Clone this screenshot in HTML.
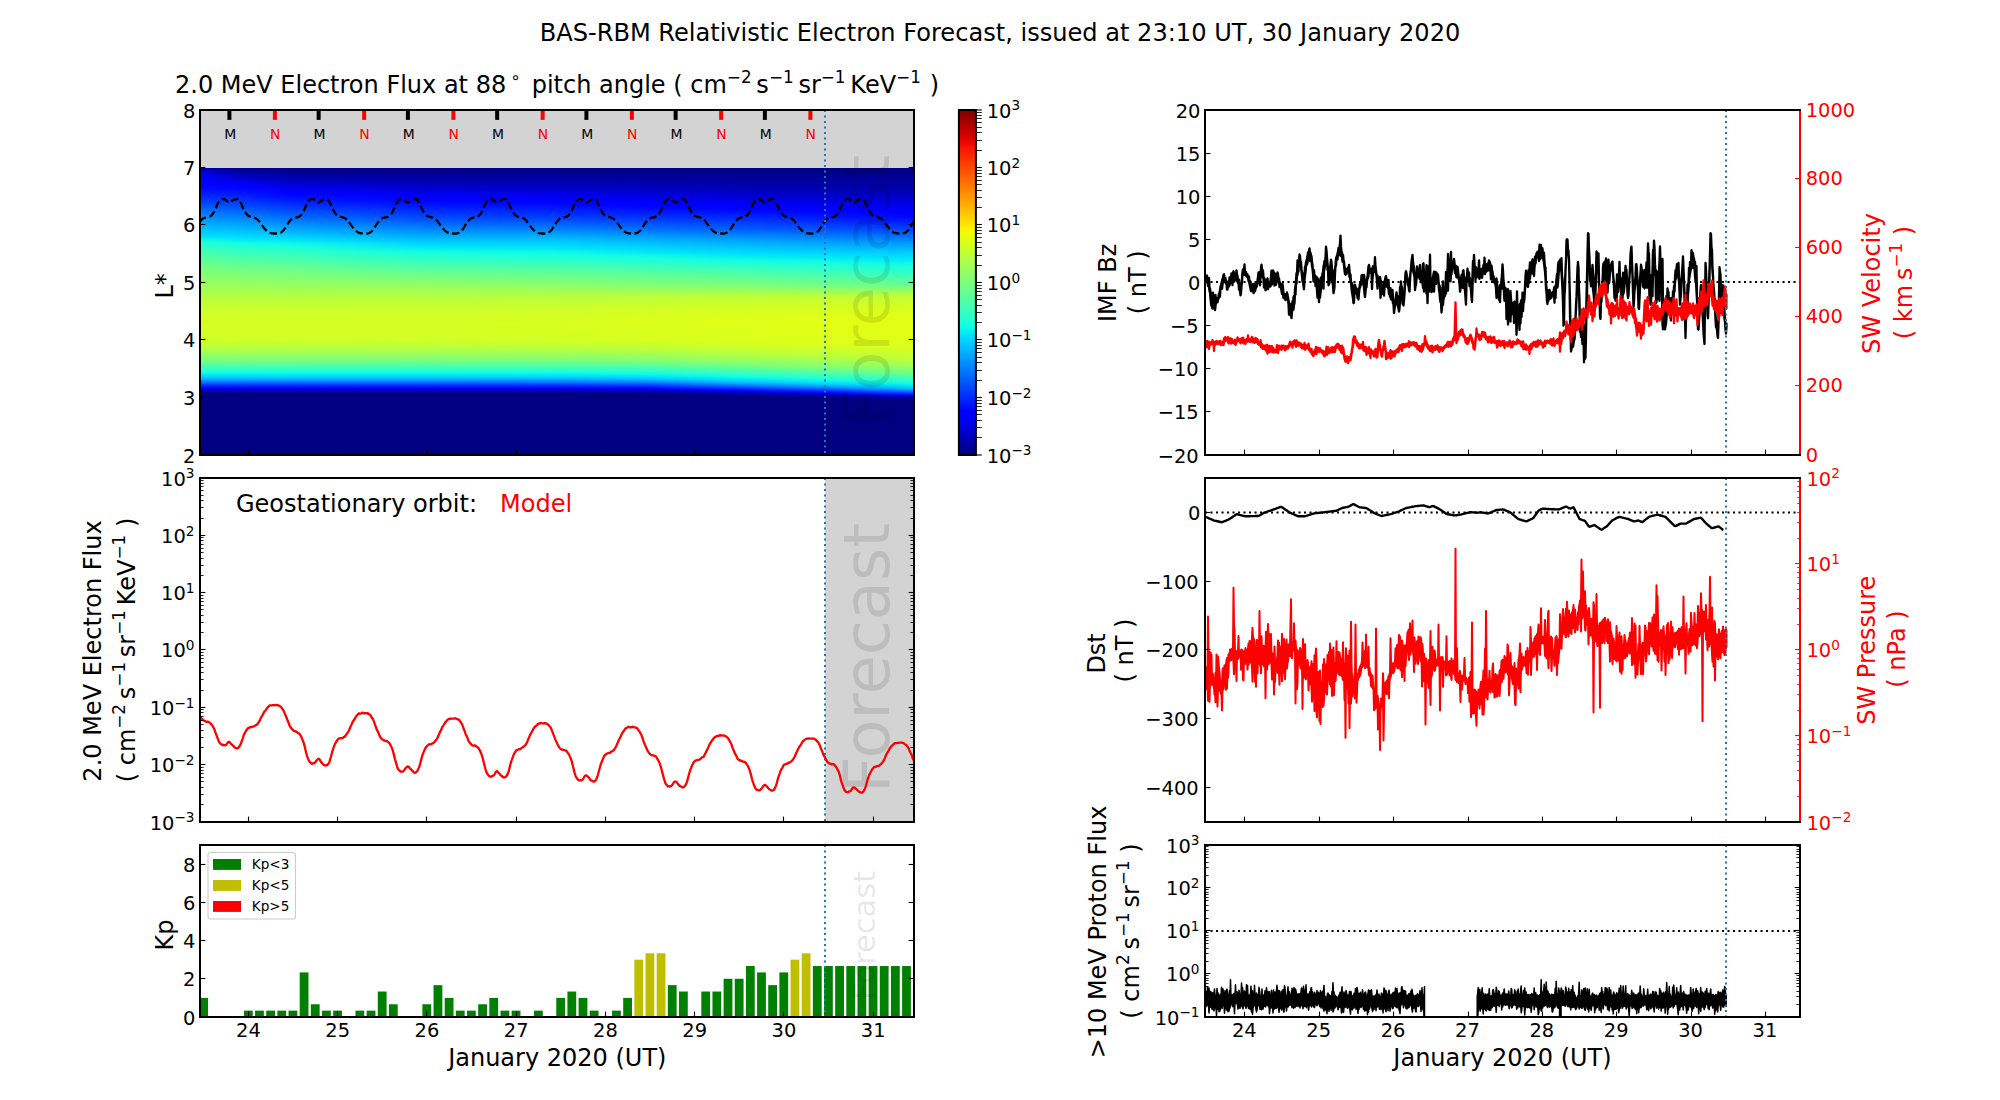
<!DOCTYPE html>
<html lang="en"><head><meta charset="utf-8"><title>BAS-RBM Relativistic Electron Forecast</title>
<style>html,body{margin:0;padding:0;background:#fff}body{width:2000px;height:1100px;overflow:hidden}svg{display:block}</style></head>
<body>
<svg width="2000" height="1100" viewBox="0 0 2000 1100" font-family="'DejaVu Sans','Liberation Sans',sans-serif">
<defs><linearGradient id="hg0" x1="0" y1="0" x2="0" y2="1"><stop offset="0%" stop-color="#000080"/><stop offset="0.8%" stop-color="#0000c3"/><stop offset="1.6%" stop-color="#0000e8"/><stop offset="2.4%" stop-color="#0000f5"/><stop offset="3.2%" stop-color="#0000ff"/><stop offset="5.6%" stop-color="#0000ff"/><stop offset="6.4%" stop-color="#0003ff"/><stop offset="7.2%" stop-color="#000aff"/><stop offset="8%" stop-color="#0012ff"/><stop offset="8.8%" stop-color="#001bff"/><stop offset="9.6%" stop-color="#0024ff"/><stop offset="10.4%" stop-color="#002dff"/><stop offset="11.2%" stop-color="#0036ff"/><stop offset="12%" stop-color="#0041ff"/><stop offset="12.8%" stop-color="#004dff"/><stop offset="13.6%" stop-color="#0059ff"/><stop offset="14.4%" stop-color="#0065ff"/><stop offset="15.2%" stop-color="#0071ff"/><stop offset="16%" stop-color="#007dff"/><stop offset="16.8%" stop-color="#0088ff"/><stop offset="17.6%" stop-color="#0092ff"/><stop offset="18.4%" stop-color="#009dff"/><stop offset="19.2%" stop-color="#00a8ff"/><stop offset="20%" stop-color="#00b2ff"/><stop offset="20.8%" stop-color="#00bbff"/><stop offset="21.6%" stop-color="#00c4ff"/><stop offset="22.4%" stop-color="#00ccff"/><stop offset="23.2%" stop-color="#00d5ff"/><stop offset="24%" stop-color="#00e0fb"/><stop offset="24.8%" stop-color="#0bf3ec"/><stop offset="25.6%" stop-color="#1bffdc"/><stop offset="26.4%" stop-color="#25ffd2"/><stop offset="27.2%" stop-color="#2dffc9"/><stop offset="28%" stop-color="#36ffc1"/><stop offset="28.8%" stop-color="#3fffb8"/><stop offset="29.6%" stop-color="#47ffb0"/><stop offset="30.4%" stop-color="#50ffa7"/><stop offset="31.2%" stop-color="#57ffa0"/><stop offset="32%" stop-color="#5dff9a"/><stop offset="32.8%" stop-color="#64ff93"/><stop offset="33.6%" stop-color="#6bff8c"/><stop offset="34.4%" stop-color="#71ff85"/><stop offset="35.2%" stop-color="#78ff7f"/><stop offset="36%" stop-color="#7dff7a"/><stop offset="36.8%" stop-color="#82ff75"/><stop offset="37.6%" stop-color="#87ff70"/><stop offset="38.4%" stop-color="#8cff6b"/><stop offset="39.2%" stop-color="#91ff66"/><stop offset="40%" stop-color="#96ff61"/><stop offset="40.8%" stop-color="#9bff5c"/><stop offset="41.6%" stop-color="#a0ff57"/><stop offset="42.4%" stop-color="#a5ff52"/><stop offset="43.2%" stop-color="#aaff4d"/><stop offset="44%" stop-color="#afff48"/><stop offset="44.8%" stop-color="#b4ff43"/><stop offset="45.6%" stop-color="#b8ff3e"/><stop offset="46.4%" stop-color="#bdff3a"/><stop offset="47.2%" stop-color="#c1ff36"/><stop offset="48%" stop-color="#c5ff32"/><stop offset="48.8%" stop-color="#c9ff2d"/><stop offset="49.6%" stop-color="#ceff29"/><stop offset="50.4%" stop-color="#cfff28"/><stop offset="51.2%" stop-color="#d1ff26"/><stop offset="52%" stop-color="#d2ff25"/><stop offset="52.8%" stop-color="#d3ff23"/><stop offset="53.6%" stop-color="#d5ff22"/><stop offset="54.4%" stop-color="#d6ff21"/><stop offset="55.2%" stop-color="#d5ff22"/><stop offset="56%" stop-color="#d4ff23"/><stop offset="56.8%" stop-color="#d3ff23"/><stop offset="57.6%" stop-color="#d2ff24"/><stop offset="58.4%" stop-color="#d2ff25"/><stop offset="59.2%" stop-color="#d1ff26"/><stop offset="60%" stop-color="#d0ff27"/><stop offset="60.8%" stop-color="#c9ff2e"/><stop offset="61.6%" stop-color="#c1ff35"/><stop offset="62.4%" stop-color="#baff3d"/><stop offset="63.2%" stop-color="#b3ff44"/><stop offset="64%" stop-color="#a8ff4f"/><stop offset="64.8%" stop-color="#9cff5b"/><stop offset="65.6%" stop-color="#90ff67"/><stop offset="66.4%" stop-color="#84ff72"/><stop offset="67.2%" stop-color="#77ff80"/><stop offset="68%" stop-color="#64ff93"/><stop offset="68.8%" stop-color="#51ffa6"/><stop offset="69.6%" stop-color="#3effb8"/><stop offset="70.4%" stop-color="#2affcd"/><stop offset="71.2%" stop-color="#15ffe2"/><stop offset="72%" stop-color="#04ebf3"/><stop offset="72.8%" stop-color="#00d3ff"/><stop offset="73.6%" stop-color="#00b1ff"/><stop offset="74.4%" stop-color="#0085ff"/><stop offset="75.2%" stop-color="#0053ff"/><stop offset="76%" stop-color="#001fff"/><stop offset="76.8%" stop-color="#0000f7"/><stop offset="77.6%" stop-color="#0000b6"/><stop offset="78.4%" stop-color="#00008b"/><stop offset="79.2%" stop-color="#000080"/><stop offset="100%" stop-color="#000080"/></linearGradient>
<linearGradient id="hg1" x1="0" y1="0" x2="0" y2="1"><stop offset="0%" stop-color="#000080"/><stop offset="0.8%" stop-color="#000093"/><stop offset="1.6%" stop-color="#0000a6"/><stop offset="2.4%" stop-color="#0000b6"/><stop offset="3.2%" stop-color="#0000c7"/><stop offset="4%" stop-color="#0000da"/><stop offset="4.8%" stop-color="#0000ec"/><stop offset="5.6%" stop-color="#0000ff"/><stop offset="6.4%" stop-color="#0000ff"/><stop offset="7.2%" stop-color="#0003ff"/><stop offset="8%" stop-color="#000dff"/><stop offset="8.8%" stop-color="#0016ff"/><stop offset="9.6%" stop-color="#001fff"/><stop offset="10.4%" stop-color="#0029ff"/><stop offset="11.2%" stop-color="#0033ff"/><stop offset="12%" stop-color="#003dff"/><stop offset="12.8%" stop-color="#0047ff"/><stop offset="13.6%" stop-color="#0052ff"/><stop offset="14.4%" stop-color="#005cff"/><stop offset="15.2%" stop-color="#0068ff"/><stop offset="16%" stop-color="#0073ff"/><stop offset="16.8%" stop-color="#007eff"/><stop offset="17.6%" stop-color="#0089ff"/><stop offset="18.4%" stop-color="#0094ff"/><stop offset="19.2%" stop-color="#009eff"/><stop offset="20%" stop-color="#00a8ff"/><stop offset="20.8%" stop-color="#00b3ff"/><stop offset="21.6%" stop-color="#00bdff"/><stop offset="22.4%" stop-color="#00c7ff"/><stop offset="23.2%" stop-color="#00d1ff"/><stop offset="24%" stop-color="#00dbff"/><stop offset="24.8%" stop-color="#00e5f7"/><stop offset="25.6%" stop-color="#0af2ec"/><stop offset="26.4%" stop-color="#15ffe2"/><stop offset="27.2%" stop-color="#1fffd8"/><stop offset="28%" stop-color="#29ffce"/><stop offset="28.8%" stop-color="#31ffc5"/><stop offset="29.6%" stop-color="#3affbd"/><stop offset="30.4%" stop-color="#42ffb5"/><stop offset="31.2%" stop-color="#4affad"/><stop offset="32%" stop-color="#52ffa5"/><stop offset="32.8%" stop-color="#5aff9d"/><stop offset="33.6%" stop-color="#61ff96"/><stop offset="34.4%" stop-color="#68ff8e"/><stop offset="35.2%" stop-color="#70ff87"/><stop offset="36%" stop-color="#77ff80"/><stop offset="36.8%" stop-color="#7dff7a"/><stop offset="37.6%" stop-color="#83ff74"/><stop offset="38.4%" stop-color="#89ff6e"/><stop offset="39.2%" stop-color="#8eff68"/><stop offset="40%" stop-color="#94ff63"/><stop offset="40.8%" stop-color="#99ff5d"/><stop offset="41.6%" stop-color="#9fff58"/><stop offset="42.4%" stop-color="#a4ff53"/><stop offset="43.2%" stop-color="#a9ff4d"/><stop offset="44%" stop-color="#afff48"/><stop offset="44.8%" stop-color="#b4ff43"/><stop offset="45.6%" stop-color="#b8ff3e"/><stop offset="46.4%" stop-color="#bdff3a"/><stop offset="47.2%" stop-color="#c1ff36"/><stop offset="48%" stop-color="#c5ff32"/><stop offset="48.8%" stop-color="#c9ff2d"/><stop offset="49.6%" stop-color="#ceff29"/><stop offset="50.4%" stop-color="#cfff28"/><stop offset="51.2%" stop-color="#d1ff26"/><stop offset="52%" stop-color="#d2ff25"/><stop offset="52.8%" stop-color="#d3ff23"/><stop offset="53.6%" stop-color="#d5ff22"/><stop offset="54.4%" stop-color="#d6ff21"/><stop offset="55.2%" stop-color="#d5ff22"/><stop offset="56%" stop-color="#d4ff23"/><stop offset="56.8%" stop-color="#d3ff23"/><stop offset="57.6%" stop-color="#d2ff24"/><stop offset="58.4%" stop-color="#d2ff25"/><stop offset="59.2%" stop-color="#d1ff26"/><stop offset="60%" stop-color="#d0ff27"/><stop offset="60.8%" stop-color="#c9ff2e"/><stop offset="61.6%" stop-color="#c1ff35"/><stop offset="62.4%" stop-color="#baff3d"/><stop offset="63.2%" stop-color="#b3ff44"/><stop offset="64%" stop-color="#a8ff4f"/><stop offset="64.8%" stop-color="#9cff5b"/><stop offset="65.6%" stop-color="#90ff67"/><stop offset="66.4%" stop-color="#84ff72"/><stop offset="67.2%" stop-color="#77ff80"/><stop offset="68%" stop-color="#64ff93"/><stop offset="68.8%" stop-color="#51ffa6"/><stop offset="69.6%" stop-color="#3effb8"/><stop offset="70.4%" stop-color="#2affcd"/><stop offset="71.2%" stop-color="#15ffe2"/><stop offset="72%" stop-color="#04ebf3"/><stop offset="72.8%" stop-color="#00d3ff"/><stop offset="73.6%" stop-color="#00b1ff"/><stop offset="74.4%" stop-color="#0085ff"/><stop offset="75.2%" stop-color="#0053ff"/><stop offset="76%" stop-color="#001fff"/><stop offset="76.8%" stop-color="#0000f7"/><stop offset="77.6%" stop-color="#0000b6"/><stop offset="78.4%" stop-color="#00008b"/><stop offset="79.2%" stop-color="#000080"/><stop offset="100%" stop-color="#000080"/></linearGradient>
<linearGradient id="hg2" x1="0" y1="0" x2="0" y2="1"><stop offset="0%" stop-color="#000080"/><stop offset="0.8%" stop-color="#00008b"/><stop offset="1.6%" stop-color="#000097"/><stop offset="2.4%" stop-color="#0000a2"/><stop offset="3.2%" stop-color="#0000ac"/><stop offset="4%" stop-color="#0000b7"/><stop offset="4.8%" stop-color="#0000c5"/><stop offset="5.6%" stop-color="#0000d5"/><stop offset="6.4%" stop-color="#0000e4"/><stop offset="7.2%" stop-color="#0000f3"/><stop offset="8%" stop-color="#0000ff"/><stop offset="8.8%" stop-color="#0000ff"/><stop offset="9.6%" stop-color="#0005ff"/><stop offset="10.4%" stop-color="#000eff"/><stop offset="11.2%" stop-color="#0017ff"/><stop offset="12%" stop-color="#0022ff"/><stop offset="12.8%" stop-color="#002dff"/><stop offset="13.6%" stop-color="#0038ff"/><stop offset="14.4%" stop-color="#0043ff"/><stop offset="15.2%" stop-color="#004eff"/><stop offset="16%" stop-color="#0059ff"/><stop offset="16.8%" stop-color="#0065ff"/><stop offset="17.6%" stop-color="#0070ff"/><stop offset="18.4%" stop-color="#007cff"/><stop offset="19.2%" stop-color="#0088ff"/><stop offset="20%" stop-color="#0094ff"/><stop offset="20.8%" stop-color="#00a0ff"/><stop offset="21.6%" stop-color="#00acff"/><stop offset="22.4%" stop-color="#00b7ff"/><stop offset="23.2%" stop-color="#00c3ff"/><stop offset="24%" stop-color="#00d0ff"/><stop offset="24.8%" stop-color="#00defd"/><stop offset="25.6%" stop-color="#05ecf1"/><stop offset="26.4%" stop-color="#0ff8e8"/><stop offset="27.2%" stop-color="#17ffe0"/><stop offset="28%" stop-color="#20ffd7"/><stop offset="28.8%" stop-color="#28ffce"/><stop offset="29.6%" stop-color="#31ffc6"/><stop offset="30.4%" stop-color="#3affbd"/><stop offset="31.2%" stop-color="#42ffb5"/><stop offset="32%" stop-color="#4affad"/><stop offset="32.8%" stop-color="#52ffa5"/><stop offset="33.6%" stop-color="#5aff9c"/><stop offset="34.4%" stop-color="#63ff94"/><stop offset="35.2%" stop-color="#6bff8c"/><stop offset="36%" stop-color="#71ff86"/><stop offset="36.8%" stop-color="#77ff80"/><stop offset="37.6%" stop-color="#7dff79"/><stop offset="38.4%" stop-color="#84ff73"/><stop offset="39.2%" stop-color="#8aff6d"/><stop offset="40%" stop-color="#90ff67"/><stop offset="40.8%" stop-color="#96ff61"/><stop offset="41.6%" stop-color="#9cff5b"/><stop offset="42.4%" stop-color="#a2ff55"/><stop offset="43.2%" stop-color="#a8ff4f"/><stop offset="44%" stop-color="#aeff49"/><stop offset="44.8%" stop-color="#b4ff43"/><stop offset="45.6%" stop-color="#b8ff3e"/><stop offset="46.4%" stop-color="#bdff3a"/><stop offset="47.2%" stop-color="#c1ff36"/><stop offset="48%" stop-color="#c5ff32"/><stop offset="48.8%" stop-color="#c9ff2d"/><stop offset="49.6%" stop-color="#ceff29"/><stop offset="50.4%" stop-color="#cfff28"/><stop offset="51.2%" stop-color="#d1ff26"/><stop offset="52%" stop-color="#d2ff25"/><stop offset="52.8%" stop-color="#d3ff23"/><stop offset="53.6%" stop-color="#d5ff22"/><stop offset="54.4%" stop-color="#d6ff21"/><stop offset="55.2%" stop-color="#d5ff22"/><stop offset="56%" stop-color="#d4ff23"/><stop offset="56.8%" stop-color="#d3ff23"/><stop offset="57.6%" stop-color="#d2ff24"/><stop offset="58.4%" stop-color="#d2ff25"/><stop offset="59.2%" stop-color="#d1ff26"/><stop offset="60%" stop-color="#d0ff27"/><stop offset="60.8%" stop-color="#c9ff2e"/><stop offset="61.6%" stop-color="#c1ff35"/><stop offset="62.4%" stop-color="#baff3d"/><stop offset="63.2%" stop-color="#b3ff44"/><stop offset="64%" stop-color="#a8ff4f"/><stop offset="64.8%" stop-color="#9cff5b"/><stop offset="65.6%" stop-color="#90ff67"/><stop offset="66.4%" stop-color="#84ff72"/><stop offset="67.2%" stop-color="#77ff80"/><stop offset="68%" stop-color="#64ff93"/><stop offset="68.8%" stop-color="#51ffa6"/><stop offset="69.6%" stop-color="#3effb8"/><stop offset="70.4%" stop-color="#2affcd"/><stop offset="71.2%" stop-color="#15ffe2"/><stop offset="72%" stop-color="#04ebf3"/><stop offset="72.8%" stop-color="#00d3ff"/><stop offset="73.6%" stop-color="#00b1ff"/><stop offset="74.4%" stop-color="#0085ff"/><stop offset="75.2%" stop-color="#0053ff"/><stop offset="76%" stop-color="#001fff"/><stop offset="76.8%" stop-color="#0000f7"/><stop offset="77.6%" stop-color="#0000b6"/><stop offset="78.4%" stop-color="#00008b"/><stop offset="79.2%" stop-color="#000080"/><stop offset="100%" stop-color="#000080"/></linearGradient>
<linearGradient id="hg3" x1="0" y1="0" x2="0" y2="1"><stop offset="0%" stop-color="#000080"/><stop offset="0.8%" stop-color="#000088"/><stop offset="1.6%" stop-color="#000091"/><stop offset="2.4%" stop-color="#00009a"/><stop offset="3.2%" stop-color="#0000a2"/><stop offset="4%" stop-color="#0000aa"/><stop offset="4.8%" stop-color="#0000b2"/><stop offset="5.6%" stop-color="#0000b9"/><stop offset="6.4%" stop-color="#0000c6"/><stop offset="7.2%" stop-color="#0000d3"/><stop offset="8%" stop-color="#0000df"/><stop offset="8.8%" stop-color="#0000ec"/><stop offset="9.6%" stop-color="#0000f9"/><stop offset="10.4%" stop-color="#0000ff"/><stop offset="11.2%" stop-color="#0000ff"/><stop offset="12%" stop-color="#0008ff"/><stop offset="12.8%" stop-color="#0011ff"/><stop offset="13.6%" stop-color="#001aff"/><stop offset="14.4%" stop-color="#0024ff"/><stop offset="15.2%" stop-color="#002eff"/><stop offset="16%" stop-color="#0038ff"/><stop offset="16.8%" stop-color="#0042ff"/><stop offset="17.6%" stop-color="#004cff"/><stop offset="18.4%" stop-color="#0058ff"/><stop offset="19.2%" stop-color="#0064ff"/><stop offset="20%" stop-color="#0070ff"/><stop offset="20.8%" stop-color="#007cff"/><stop offset="21.6%" stop-color="#0089ff"/><stop offset="22.4%" stop-color="#0095ff"/><stop offset="23.2%" stop-color="#00a2ff"/><stop offset="24%" stop-color="#00aeff"/><stop offset="24.8%" stop-color="#00baff"/><stop offset="25.6%" stop-color="#00c7ff"/><stop offset="26.4%" stop-color="#00d3ff"/><stop offset="27.2%" stop-color="#00dffc"/><stop offset="28%" stop-color="#04ebf3"/><stop offset="28.8%" stop-color="#0df6ea"/><stop offset="29.6%" stop-color="#16ffe1"/><stop offset="30.4%" stop-color="#1fffd8"/><stop offset="31.2%" stop-color="#28ffce"/><stop offset="32%" stop-color="#31ffc5"/><stop offset="32.8%" stop-color="#3affbc"/><stop offset="33.6%" stop-color="#43ffb3"/><stop offset="34.4%" stop-color="#4dffaa"/><stop offset="35.2%" stop-color="#56ffa1"/><stop offset="36%" stop-color="#5fff98"/><stop offset="36.8%" stop-color="#68ff8f"/><stop offset="37.6%" stop-color="#71ff86"/><stop offset="38.4%" stop-color="#7aff7d"/><stop offset="39.2%" stop-color="#83ff74"/><stop offset="40%" stop-color="#8cff6b"/><stop offset="40.8%" stop-color="#93ff64"/><stop offset="41.6%" stop-color="#99ff5e"/><stop offset="42.4%" stop-color="#a0ff57"/><stop offset="43.2%" stop-color="#a7ff50"/><stop offset="44%" stop-color="#adff49"/><stop offset="44.8%" stop-color="#b4ff43"/><stop offset="45.6%" stop-color="#b8ff3e"/><stop offset="46.4%" stop-color="#bdff3a"/><stop offset="47.2%" stop-color="#c1ff36"/><stop offset="48%" stop-color="#c5ff32"/><stop offset="48.8%" stop-color="#c9ff2d"/><stop offset="49.6%" stop-color="#ceff29"/><stop offset="50.4%" stop-color="#cfff28"/><stop offset="51.2%" stop-color="#d1ff26"/><stop offset="52%" stop-color="#d2ff25"/><stop offset="52.8%" stop-color="#d3ff23"/><stop offset="53.6%" stop-color="#d5ff22"/><stop offset="54.4%" stop-color="#d6ff21"/><stop offset="55.2%" stop-color="#d5ff22"/><stop offset="56%" stop-color="#d4ff23"/><stop offset="56.8%" stop-color="#d3ff23"/><stop offset="57.6%" stop-color="#d2ff24"/><stop offset="58.4%" stop-color="#d2ff25"/><stop offset="59.2%" stop-color="#d1ff26"/><stop offset="60%" stop-color="#d0ff27"/><stop offset="60.8%" stop-color="#c9ff2e"/><stop offset="61.6%" stop-color="#c1ff35"/><stop offset="62.4%" stop-color="#baff3d"/><stop offset="63.2%" stop-color="#b3ff44"/><stop offset="64%" stop-color="#a8ff4f"/><stop offset="64.8%" stop-color="#9cff5b"/><stop offset="65.6%" stop-color="#90ff67"/><stop offset="66.4%" stop-color="#84ff72"/><stop offset="67.2%" stop-color="#77ff80"/><stop offset="68%" stop-color="#64ff93"/><stop offset="68.8%" stop-color="#51ffa6"/><stop offset="69.6%" stop-color="#3effb8"/><stop offset="70.4%" stop-color="#2affcd"/><stop offset="71.2%" stop-color="#15ffe2"/><stop offset="72%" stop-color="#04ebf3"/><stop offset="72.8%" stop-color="#00d3ff"/><stop offset="73.6%" stop-color="#00b1ff"/><stop offset="74.4%" stop-color="#0085ff"/><stop offset="75.2%" stop-color="#0053ff"/><stop offset="76%" stop-color="#001fff"/><stop offset="76.8%" stop-color="#0000f7"/><stop offset="77.6%" stop-color="#0000b6"/><stop offset="78.4%" stop-color="#00008b"/><stop offset="79.2%" stop-color="#000080"/><stop offset="100%" stop-color="#000080"/></linearGradient>
<linearGradient id="hg4" x1="0" y1="0" x2="0" y2="1"><stop offset="0%" stop-color="#000080"/><stop offset="0.8%" stop-color="#000088"/><stop offset="1.6%" stop-color="#000090"/><stop offset="2.4%" stop-color="#000098"/><stop offset="3.2%" stop-color="#0000a0"/><stop offset="4%" stop-color="#0000a7"/><stop offset="4.8%" stop-color="#0000af"/><stop offset="5.6%" stop-color="#0000b6"/><stop offset="6.4%" stop-color="#0000bf"/><stop offset="7.2%" stop-color="#0000cb"/><stop offset="8%" stop-color="#0000d6"/><stop offset="8.8%" stop-color="#0000e2"/><stop offset="9.6%" stop-color="#0000ee"/><stop offset="10.4%" stop-color="#0000f9"/><stop offset="11.2%" stop-color="#0000ff"/><stop offset="12%" stop-color="#0000ff"/><stop offset="12.8%" stop-color="#0008ff"/><stop offset="13.6%" stop-color="#0011ff"/><stop offset="14.4%" stop-color="#001aff"/><stop offset="15.2%" stop-color="#0023ff"/><stop offset="16%" stop-color="#002dff"/><stop offset="16.8%" stop-color="#0036ff"/><stop offset="17.6%" stop-color="#0042ff"/><stop offset="18.4%" stop-color="#004fff"/><stop offset="19.2%" stop-color="#005cff"/><stop offset="20%" stop-color="#0068ff"/><stop offset="20.8%" stop-color="#0075ff"/><stop offset="21.6%" stop-color="#0084ff"/><stop offset="22.4%" stop-color="#0092ff"/><stop offset="23.2%" stop-color="#00a0ff"/><stop offset="24%" stop-color="#00aeff"/><stop offset="24.8%" stop-color="#00bdff"/><stop offset="25.6%" stop-color="#00c7ff"/><stop offset="26.4%" stop-color="#00d1ff"/><stop offset="27.2%" stop-color="#00dbff"/><stop offset="28%" stop-color="#00e5f7"/><stop offset="28.8%" stop-color="#08efef"/><stop offset="29.6%" stop-color="#0ff9e7"/><stop offset="30.4%" stop-color="#17ffe0"/><stop offset="31.2%" stop-color="#1fffd8"/><stop offset="32%" stop-color="#28ffcf"/><stop offset="32.8%" stop-color="#32ffc5"/><stop offset="33.6%" stop-color="#3bffbb"/><stop offset="34.4%" stop-color="#45ffb2"/><stop offset="35.2%" stop-color="#4effa8"/><stop offset="36%" stop-color="#58ff9f"/><stop offset="36.8%" stop-color="#61ff96"/><stop offset="37.6%" stop-color="#6aff8d"/><stop offset="38.4%" stop-color="#72ff85"/><stop offset="39.2%" stop-color="#7bff7c"/><stop offset="40%" stop-color="#83ff74"/><stop offset="40.8%" stop-color="#8cff6b"/><stop offset="41.6%" stop-color="#94ff62"/><stop offset="42.4%" stop-color="#9dff5a"/><stop offset="43.2%" stop-color="#a6ff51"/><stop offset="44%" stop-color="#aeff49"/><stop offset="44.8%" stop-color="#b7ff40"/><stop offset="45.6%" stop-color="#bbff3c"/><stop offset="46.4%" stop-color="#bfff38"/><stop offset="47.2%" stop-color="#c3ff33"/><stop offset="48%" stop-color="#c8ff2f"/><stop offset="48.8%" stop-color="#ccff2b"/><stop offset="49.6%" stop-color="#d0ff27"/><stop offset="50.4%" stop-color="#d2ff25"/><stop offset="51.2%" stop-color="#d3ff24"/><stop offset="52%" stop-color="#d4ff22"/><stop offset="52.8%" stop-color="#d6ff21"/><stop offset="53.6%" stop-color="#d7ff20"/><stop offset="54.4%" stop-color="#d8ff1f"/><stop offset="55.2%" stop-color="#d7ff1f"/><stop offset="56%" stop-color="#d7ff20"/><stop offset="56.8%" stop-color="#d6ff21"/><stop offset="57.6%" stop-color="#d5ff22"/><stop offset="58.4%" stop-color="#d4ff23"/><stop offset="59.2%" stop-color="#d3ff23"/><stop offset="60%" stop-color="#d3ff24"/><stop offset="60.8%" stop-color="#cbff2c"/><stop offset="61.6%" stop-color="#c4ff33"/><stop offset="62.4%" stop-color="#bdff3a"/><stop offset="63.2%" stop-color="#b5ff42"/><stop offset="64%" stop-color="#aaff4c"/><stop offset="64.8%" stop-color="#9fff58"/><stop offset="65.6%" stop-color="#93ff64"/><stop offset="66.4%" stop-color="#87ff70"/><stop offset="67.2%" stop-color="#79ff7e"/><stop offset="68%" stop-color="#66ff91"/><stop offset="68.8%" stop-color="#53ffa3"/><stop offset="69.6%" stop-color="#40ffb6"/><stop offset="70.4%" stop-color="#2cffcb"/><stop offset="71.2%" stop-color="#16ffe0"/><stop offset="72%" stop-color="#06edf1"/><stop offset="72.8%" stop-color="#00d5ff"/><stop offset="73.6%" stop-color="#00b3ff"/><stop offset="74.4%" stop-color="#0087ff"/><stop offset="75.2%" stop-color="#0054ff"/><stop offset="76%" stop-color="#0020ff"/><stop offset="76.8%" stop-color="#0000f7"/><stop offset="77.6%" stop-color="#0000b6"/><stop offset="78.4%" stop-color="#00008b"/><stop offset="79.2%" stop-color="#000080"/><stop offset="100%" stop-color="#000080"/></linearGradient>
<linearGradient id="hg5" x1="0" y1="0" x2="0" y2="1"><stop offset="0%" stop-color="#000080"/><stop offset="0.8%" stop-color="#000087"/><stop offset="1.6%" stop-color="#00008e"/><stop offset="2.4%" stop-color="#000095"/><stop offset="3.2%" stop-color="#00009b"/><stop offset="4%" stop-color="#0000a2"/><stop offset="4.8%" stop-color="#0000a9"/><stop offset="5.6%" stop-color="#0000b0"/><stop offset="6.4%" stop-color="#0000b8"/><stop offset="7.2%" stop-color="#0000c1"/><stop offset="8%" stop-color="#0000ca"/><stop offset="8.8%" stop-color="#0000d5"/><stop offset="9.6%" stop-color="#0000e0"/><stop offset="10.4%" stop-color="#0000eb"/><stop offset="11.2%" stop-color="#0000f5"/><stop offset="12%" stop-color="#0000ff"/><stop offset="12.8%" stop-color="#0000ff"/><stop offset="13.6%" stop-color="#0003ff"/><stop offset="14.4%" stop-color="#000dff"/><stop offset="15.2%" stop-color="#0017ff"/><stop offset="16%" stop-color="#0021ff"/><stop offset="16.8%" stop-color="#002bff"/><stop offset="17.6%" stop-color="#0037ff"/><stop offset="18.4%" stop-color="#0042ff"/><stop offset="19.2%" stop-color="#004eff"/><stop offset="20%" stop-color="#005aff"/><stop offset="20.8%" stop-color="#0066ff"/><stop offset="21.6%" stop-color="#0072ff"/><stop offset="22.4%" stop-color="#0081ff"/><stop offset="23.2%" stop-color="#008fff"/><stop offset="24%" stop-color="#009dff"/><stop offset="24.8%" stop-color="#00abff"/><stop offset="25.6%" stop-color="#00b8ff"/><stop offset="26.4%" stop-color="#00c2ff"/><stop offset="27.2%" stop-color="#00ccff"/><stop offset="28%" stop-color="#00d6ff"/><stop offset="28.8%" stop-color="#00e0fb"/><stop offset="29.6%" stop-color="#04eaf3"/><stop offset="30.4%" stop-color="#0cf4eb"/><stop offset="31.2%" stop-color="#14fee3"/><stop offset="32%" stop-color="#1cffda"/><stop offset="32.8%" stop-color="#26ffd1"/><stop offset="33.6%" stop-color="#30ffc7"/><stop offset="34.4%" stop-color="#3affbd"/><stop offset="35.2%" stop-color="#44ffb2"/><stop offset="36%" stop-color="#4effa8"/><stop offset="36.8%" stop-color="#58ff9f"/><stop offset="37.6%" stop-color="#61ff96"/><stop offset="38.4%" stop-color="#6aff8d"/><stop offset="39.2%" stop-color="#73ff84"/><stop offset="40%" stop-color="#7cff7b"/><stop offset="40.8%" stop-color="#84ff72"/><stop offset="41.6%" stop-color="#8bff6c"/><stop offset="42.4%" stop-color="#97ff60"/><stop offset="43.2%" stop-color="#a3ff54"/><stop offset="44%" stop-color="#afff48"/><stop offset="44.8%" stop-color="#bbff3c"/><stop offset="45.6%" stop-color="#bfff38"/><stop offset="46.4%" stop-color="#c3ff34"/><stop offset="47.2%" stop-color="#c7ff2f"/><stop offset="48%" stop-color="#ccff2b"/><stop offset="48.8%" stop-color="#d0ff27"/><stop offset="49.6%" stop-color="#d4ff23"/><stop offset="50.4%" stop-color="#d6ff21"/><stop offset="51.2%" stop-color="#d7ff20"/><stop offset="52%" stop-color="#d9ff1e"/><stop offset="52.8%" stop-color="#daff1d"/><stop offset="53.6%" stop-color="#dbff1b"/><stop offset="54.4%" stop-color="#dcff1b"/><stop offset="55.2%" stop-color="#dbff1b"/><stop offset="56%" stop-color="#dbff1c"/><stop offset="56.8%" stop-color="#daff1d"/><stop offset="57.6%" stop-color="#d9ff1e"/><stop offset="58.4%" stop-color="#d8ff1e"/><stop offset="59.2%" stop-color="#d8ff1f"/><stop offset="60%" stop-color="#d7ff20"/><stop offset="60.8%" stop-color="#d0ff26"/><stop offset="61.6%" stop-color="#c9ff2e"/><stop offset="62.4%" stop-color="#c2ff35"/><stop offset="63.2%" stop-color="#bbff3c"/><stop offset="64%" stop-color="#b1ff45"/><stop offset="64.8%" stop-color="#a5ff51"/><stop offset="65.6%" stop-color="#9aff5d"/><stop offset="66.4%" stop-color="#8eff69"/><stop offset="67.2%" stop-color="#82ff75"/><stop offset="68%" stop-color="#6fff88"/><stop offset="68.8%" stop-color="#5cff9b"/><stop offset="69.6%" stop-color="#49ffae"/><stop offset="70.4%" stop-color="#34ffc2"/><stop offset="71.2%" stop-color="#1fffd8"/><stop offset="72%" stop-color="#0df6ea"/><stop offset="72.8%" stop-color="#00defd"/><stop offset="73.6%" stop-color="#00c1ff"/><stop offset="74.4%" stop-color="#0094ff"/><stop offset="75.2%" stop-color="#0062ff"/><stop offset="76%" stop-color="#002cff"/><stop offset="76.8%" stop-color="#0000ff"/><stop offset="77.6%" stop-color="#0000c1"/><stop offset="78.4%" stop-color="#00008f"/><stop offset="79.2%" stop-color="#000080"/><stop offset="100%" stop-color="#000080"/></linearGradient>
<linearGradient id="hg6" x1="0" y1="0" x2="0" y2="1"><stop offset="0%" stop-color="#000080"/><stop offset="0.8%" stop-color="#000085"/><stop offset="1.6%" stop-color="#00008b"/><stop offset="2.4%" stop-color="#000091"/><stop offset="3.2%" stop-color="#000097"/><stop offset="4%" stop-color="#00009d"/><stop offset="4.8%" stop-color="#0000a3"/><stop offset="5.6%" stop-color="#0000aa"/><stop offset="6.4%" stop-color="#0000b0"/><stop offset="7.2%" stop-color="#0000b6"/><stop offset="8%" stop-color="#0000be"/><stop offset="8.8%" stop-color="#0000c8"/><stop offset="9.6%" stop-color="#0000d2"/><stop offset="10.4%" stop-color="#0000dc"/><stop offset="11.2%" stop-color="#0000e6"/><stop offset="12%" stop-color="#0000f0"/><stop offset="12.8%" stop-color="#0000fa"/><stop offset="13.6%" stop-color="#0000ff"/><stop offset="14.4%" stop-color="#0001ff"/><stop offset="15.2%" stop-color="#000bff"/><stop offset="16%" stop-color="#0016ff"/><stop offset="16.8%" stop-color="#0021ff"/><stop offset="17.6%" stop-color="#002bff"/><stop offset="18.4%" stop-color="#0036ff"/><stop offset="19.2%" stop-color="#0041ff"/><stop offset="20%" stop-color="#004cff"/><stop offset="20.8%" stop-color="#0056ff"/><stop offset="21.6%" stop-color="#0061ff"/><stop offset="22.4%" stop-color="#006fff"/><stop offset="23.2%" stop-color="#007dff"/><stop offset="24%" stop-color="#008cff"/><stop offset="24.8%" stop-color="#009aff"/><stop offset="25.6%" stop-color="#00a8ff"/><stop offset="26.4%" stop-color="#00b2ff"/><stop offset="27.2%" stop-color="#00bdff"/><stop offset="28%" stop-color="#00c7ff"/><stop offset="28.8%" stop-color="#00d1ff"/><stop offset="29.6%" stop-color="#00dbff"/><stop offset="30.4%" stop-color="#00e5f7"/><stop offset="31.2%" stop-color="#08f0ef"/><stop offset="32%" stop-color="#10fae6"/><stop offset="32.8%" stop-color="#1affdd"/><stop offset="33.6%" stop-color="#25ffd2"/><stop offset="34.4%" stop-color="#2fffc7"/><stop offset="35.2%" stop-color="#3affbd"/><stop offset="36%" stop-color="#45ffb2"/><stop offset="36.8%" stop-color="#50ffa7"/><stop offset="37.6%" stop-color="#59ff9e"/><stop offset="38.4%" stop-color="#62ff95"/><stop offset="39.2%" stop-color="#6bff8c"/><stop offset="40%" stop-color="#74ff83"/><stop offset="40.8%" stop-color="#7dff7a"/><stop offset="41.6%" stop-color="#87ff70"/><stop offset="42.4%" stop-color="#95ff62"/><stop offset="43.2%" stop-color="#a3ff54"/><stop offset="44%" stop-color="#b0ff47"/><stop offset="44.8%" stop-color="#beff39"/><stop offset="45.6%" stop-color="#c2ff35"/><stop offset="46.4%" stop-color="#c7ff30"/><stop offset="47.2%" stop-color="#cbff2c"/><stop offset="48%" stop-color="#cfff28"/><stop offset="48.8%" stop-color="#d3ff24"/><stop offset="49.6%" stop-color="#d8ff1f"/><stop offset="50.4%" stop-color="#d9ff1e"/><stop offset="51.2%" stop-color="#daff1c"/><stop offset="52%" stop-color="#dcff1b"/><stop offset="52.8%" stop-color="#ddff1a"/><stop offset="53.6%" stop-color="#dfff18"/><stop offset="54.4%" stop-color="#e0ff17"/><stop offset="55.2%" stop-color="#dfff18"/><stop offset="56%" stop-color="#deff19"/><stop offset="56.8%" stop-color="#ddff19"/><stop offset="57.6%" stop-color="#ddff1a"/><stop offset="58.4%" stop-color="#dcff1b"/><stop offset="59.2%" stop-color="#dbff1c"/><stop offset="60%" stop-color="#dbff1c"/><stop offset="60.8%" stop-color="#d8ff1e"/><stop offset="61.6%" stop-color="#d2ff25"/><stop offset="62.4%" stop-color="#ccff2b"/><stop offset="63.2%" stop-color="#c5ff32"/><stop offset="64%" stop-color="#bfff38"/><stop offset="64.8%" stop-color="#b7ff40"/><stop offset="65.6%" stop-color="#abff4c"/><stop offset="66.4%" stop-color="#9fff57"/><stop offset="67.2%" stop-color="#94ff63"/><stop offset="68%" stop-color="#88ff6f"/><stop offset="68.8%" stop-color="#77ff80"/><stop offset="69.6%" stop-color="#64ff93"/><stop offset="70.4%" stop-color="#50ffa6"/><stop offset="71.2%" stop-color="#3cffba"/><stop offset="72%" stop-color="#27ffd0"/><stop offset="72.8%" stop-color="#14fee3"/><stop offset="73.6%" stop-color="#01e7f5"/><stop offset="74.4%" stop-color="#00cfff"/><stop offset="75.2%" stop-color="#009fff"/><stop offset="76%" stop-color="#006bff"/><stop offset="76.8%" stop-color="#002fff"/><stop offset="77.6%" stop-color="#0000ff"/><stop offset="78.4%" stop-color="#0000b6"/><stop offset="79.2%" stop-color="#000089"/><stop offset="80%" stop-color="#000080"/><stop offset="100%" stop-color="#000080"/></linearGradient>
<linearGradient id="hg7" x1="0" y1="0" x2="0" y2="1"><stop offset="0%" stop-color="#000080"/><stop offset="0.8%" stop-color="#000085"/><stop offset="1.6%" stop-color="#00008a"/><stop offset="2.4%" stop-color="#00008f"/><stop offset="3.2%" stop-color="#000094"/><stop offset="4%" stop-color="#00009a"/><stop offset="4.8%" stop-color="#0000a0"/><stop offset="5.6%" stop-color="#0000a6"/><stop offset="6.4%" stop-color="#0000ac"/><stop offset="7.2%" stop-color="#0000b2"/><stop offset="8%" stop-color="#0000b8"/><stop offset="8.8%" stop-color="#0000c0"/><stop offset="9.6%" stop-color="#0000c9"/><stop offset="10.4%" stop-color="#0000d3"/><stop offset="11.2%" stop-color="#0000dd"/><stop offset="12%" stop-color="#0000e6"/><stop offset="12.8%" stop-color="#0000f0"/><stop offset="13.6%" stop-color="#0000fa"/><stop offset="14.4%" stop-color="#0000ff"/><stop offset="15.2%" stop-color="#0000ff"/><stop offset="16%" stop-color="#0008ff"/><stop offset="16.8%" stop-color="#0012ff"/><stop offset="17.6%" stop-color="#001bff"/><stop offset="18.4%" stop-color="#0026ff"/><stop offset="19.2%" stop-color="#0031ff"/><stop offset="20%" stop-color="#003dff"/><stop offset="20.8%" stop-color="#0048ff"/><stop offset="21.6%" stop-color="#0054ff"/><stop offset="22.4%" stop-color="#0061ff"/><stop offset="23.2%" stop-color="#0070ff"/><stop offset="24%" stop-color="#007eff"/><stop offset="24.8%" stop-color="#008cff"/><stop offset="25.6%" stop-color="#009bff"/><stop offset="26.4%" stop-color="#00a6ff"/><stop offset="27.2%" stop-color="#00b1ff"/><stop offset="28%" stop-color="#00bdff"/><stop offset="28.8%" stop-color="#00c8ff"/><stop offset="29.6%" stop-color="#00d3ff"/><stop offset="30.4%" stop-color="#00defd"/><stop offset="31.2%" stop-color="#01e7f5"/><stop offset="32%" stop-color="#09f1ee"/><stop offset="32.8%" stop-color="#12fbe5"/><stop offset="33.6%" stop-color="#1bffdc"/><stop offset="34.4%" stop-color="#24ffd3"/><stop offset="35.2%" stop-color="#2effc9"/><stop offset="36%" stop-color="#37ffc0"/><stop offset="36.8%" stop-color="#42ffb5"/><stop offset="37.6%" stop-color="#4cffab"/><stop offset="38.4%" stop-color="#55ffa1"/><stop offset="39.2%" stop-color="#5fff98"/><stop offset="40%" stop-color="#69ff8e"/><stop offset="40.8%" stop-color="#73ff84"/><stop offset="41.6%" stop-color="#7cff7b"/><stop offset="42.4%" stop-color="#8dff6a"/><stop offset="43.2%" stop-color="#9eff59"/><stop offset="44%" stop-color="#afff48"/><stop offset="44.8%" stop-color="#c0ff36"/><stop offset="45.6%" stop-color="#c5ff32"/><stop offset="46.4%" stop-color="#c9ff2e"/><stop offset="47.2%" stop-color="#cdff2a"/><stop offset="48%" stop-color="#d1ff25"/><stop offset="48.8%" stop-color="#d6ff21"/><stop offset="49.6%" stop-color="#daff1d"/><stop offset="50.4%" stop-color="#dbff1b"/><stop offset="51.2%" stop-color="#ddff1a"/><stop offset="52%" stop-color="#deff18"/><stop offset="52.8%" stop-color="#e0ff17"/><stop offset="53.6%" stop-color="#e1ff16"/><stop offset="54.4%" stop-color="#e2ff15"/><stop offset="55.2%" stop-color="#e1ff15"/><stop offset="56%" stop-color="#e1ff16"/><stop offset="56.8%" stop-color="#e0ff17"/><stop offset="57.6%" stop-color="#dfff17"/><stop offset="58.4%" stop-color="#dfff18"/><stop offset="59.2%" stop-color="#deff19"/><stop offset="60%" stop-color="#ddff19"/><stop offset="60.8%" stop-color="#ddff1a"/><stop offset="61.6%" stop-color="#d9ff1e"/><stop offset="62.4%" stop-color="#d3ff24"/><stop offset="63.2%" stop-color="#cdff29"/><stop offset="64%" stop-color="#c8ff2f"/><stop offset="64.8%" stop-color="#c2ff35"/><stop offset="65.6%" stop-color="#bbff3c"/><stop offset="66.4%" stop-color="#afff47"/><stop offset="67.2%" stop-color="#a4ff53"/><stop offset="68%" stop-color="#99ff5e"/><stop offset="68.8%" stop-color="#8dff69"/><stop offset="69.6%" stop-color="#7eff79"/><stop offset="70.4%" stop-color="#6bff8c"/><stop offset="71.2%" stop-color="#57ff9f"/><stop offset="72%" stop-color="#44ffb3"/><stop offset="72.8%" stop-color="#2effc9"/><stop offset="73.6%" stop-color="#1affdd"/><stop offset="74.4%" stop-color="#08efef"/><stop offset="75.2%" stop-color="#00d7ff"/><stop offset="76%" stop-color="#00abff"/><stop offset="76.8%" stop-color="#0074ff"/><stop offset="77.6%" stop-color="#0032ff"/><stop offset="78.4%" stop-color="#0000fd"/><stop offset="79.2%" stop-color="#0000a9"/><stop offset="80%" stop-color="#000083"/><stop offset="80.8%" stop-color="#000080"/><stop offset="100%" stop-color="#000080"/></linearGradient>
<linearGradient id="hg8" x1="0" y1="0" x2="0" y2="1"><stop offset="0%" stop-color="#000080"/><stop offset="0.8%" stop-color="#000084"/><stop offset="1.6%" stop-color="#000089"/><stop offset="2.4%" stop-color="#00008d"/><stop offset="3.2%" stop-color="#000092"/><stop offset="4%" stop-color="#000097"/><stop offset="4.8%" stop-color="#00009c"/><stop offset="5.6%" stop-color="#0000a2"/><stop offset="6.4%" stop-color="#0000a7"/><stop offset="7.2%" stop-color="#0000ad"/><stop offset="8%" stop-color="#0000b3"/><stop offset="8.8%" stop-color="#0000b8"/><stop offset="9.6%" stop-color="#0000c0"/><stop offset="10.4%" stop-color="#0000ca"/><stop offset="11.2%" stop-color="#0000d3"/><stop offset="12%" stop-color="#0000dc"/><stop offset="12.8%" stop-color="#0000e5"/><stop offset="13.6%" stop-color="#0000ef"/><stop offset="14.4%" stop-color="#0000f8"/><stop offset="15.2%" stop-color="#0000ff"/><stop offset="16%" stop-color="#0000ff"/><stop offset="16.8%" stop-color="#0003ff"/><stop offset="17.6%" stop-color="#000bff"/><stop offset="18.4%" stop-color="#0015ff"/><stop offset="19.2%" stop-color="#0022ff"/><stop offset="20%" stop-color="#002eff"/><stop offset="20.8%" stop-color="#003aff"/><stop offset="21.6%" stop-color="#0046ff"/><stop offset="22.4%" stop-color="#0054ff"/><stop offset="23.2%" stop-color="#0062ff"/><stop offset="24%" stop-color="#0070ff"/><stop offset="24.8%" stop-color="#007eff"/><stop offset="25.6%" stop-color="#008dff"/><stop offset="26.4%" stop-color="#009aff"/><stop offset="27.2%" stop-color="#00a6ff"/><stop offset="28%" stop-color="#00b3ff"/><stop offset="28.8%" stop-color="#00bfff"/><stop offset="29.6%" stop-color="#00cbff"/><stop offset="30.4%" stop-color="#00d6ff"/><stop offset="31.2%" stop-color="#00dffc"/><stop offset="32%" stop-color="#02e8f5"/><stop offset="32.8%" stop-color="#09f1ee"/><stop offset="33.6%" stop-color="#10fae6"/><stop offset="34.4%" stop-color="#19ffde"/><stop offset="35.2%" stop-color="#21ffd6"/><stop offset="36%" stop-color="#29ffce"/><stop offset="36.8%" stop-color="#34ffc3"/><stop offset="37.6%" stop-color="#3effb9"/><stop offset="38.4%" stop-color="#49ffae"/><stop offset="39.2%" stop-color="#53ffa4"/><stop offset="40%" stop-color="#5eff99"/><stop offset="40.8%" stop-color="#68ff8e"/><stop offset="41.6%" stop-color="#79ff7e"/><stop offset="42.4%" stop-color="#8bff6c"/><stop offset="43.2%" stop-color="#9dff59"/><stop offset="44%" stop-color="#b0ff47"/><stop offset="44.8%" stop-color="#c2ff35"/><stop offset="45.6%" stop-color="#c6ff30"/><stop offset="46.4%" stop-color="#cbff2c"/><stop offset="47.2%" stop-color="#cfff28"/><stop offset="48%" stop-color="#d3ff24"/><stop offset="48.8%" stop-color="#d7ff1f"/><stop offset="49.6%" stop-color="#dcff1b"/><stop offset="50.4%" stop-color="#ddff1a"/><stop offset="51.2%" stop-color="#deff18"/><stop offset="52%" stop-color="#e0ff17"/><stop offset="52.8%" stop-color="#e1ff15"/><stop offset="53.6%" stop-color="#e3ff14"/><stop offset="54.4%" stop-color="#e4ff13"/><stop offset="55.2%" stop-color="#e3ff14"/><stop offset="56%" stop-color="#e2ff14"/><stop offset="56.8%" stop-color="#e2ff15"/><stop offset="57.6%" stop-color="#e1ff16"/><stop offset="58.4%" stop-color="#e1ff16"/><stop offset="59.2%" stop-color="#e0ff17"/><stop offset="60%" stop-color="#dfff17"/><stop offset="60.8%" stop-color="#dfff18"/><stop offset="61.6%" stop-color="#deff19"/><stop offset="62.4%" stop-color="#daff1d"/><stop offset="63.2%" stop-color="#d4ff22"/><stop offset="64%" stop-color="#cfff28"/><stop offset="64.8%" stop-color="#caff2d"/><stop offset="65.6%" stop-color="#c5ff32"/><stop offset="66.4%" stop-color="#c0ff37"/><stop offset="67.2%" stop-color="#b6ff41"/><stop offset="68%" stop-color="#abff4c"/><stop offset="68.8%" stop-color="#a0ff57"/><stop offset="69.6%" stop-color="#94ff62"/><stop offset="70.4%" stop-color="#89ff6d"/><stop offset="71.2%" stop-color="#76ff81"/><stop offset="72%" stop-color="#62ff94"/><stop offset="72.8%" stop-color="#4fffa8"/><stop offset="73.6%" stop-color="#3affbc"/><stop offset="74.4%" stop-color="#25ffd2"/><stop offset="75.2%" stop-color="#12fce4"/><stop offset="76%" stop-color="#00e4f8"/><stop offset="76.8%" stop-color="#00c4ff"/><stop offset="77.6%" stop-color="#008dff"/><stop offset="78.4%" stop-color="#0045ff"/><stop offset="79.2%" stop-color="#0000ff"/><stop offset="80%" stop-color="#0000a6"/><stop offset="80.8%" stop-color="#000081"/><stop offset="81.6%" stop-color="#000080"/><stop offset="100%" stop-color="#000080"/></linearGradient>
<linearGradient id="fade" x1="0" y1="0" x2="1" y2="0"><stop offset="0" stop-color="#000"/><stop offset="1" stop-color="#fff"/></linearGradient>
<mask id="hm0" maskUnits="userSpaceOnUse" x="200" y="167.5" width="36" height="287.5"><rect x="200" y="167.5" width="36" height="287.5" fill="url(#fade)"/></mask>
<mask id="hm1" maskUnits="userSpaceOnUse" x="236" y="167.5" width="53" height="287.5"><rect x="236" y="167.5" width="53" height="287.5" fill="url(#fade)"/></mask>
<mask id="hm2" maskUnits="userSpaceOnUse" x="289" y="167.5" width="134" height="287.5"><rect x="289" y="167.5" width="134" height="287.5" fill="url(#fade)"/></mask>
<mask id="hm3" maskUnits="userSpaceOnUse" x="423" y="167.5" width="134" height="287.5"><rect x="423" y="167.5" width="134" height="287.5" fill="url(#fade)"/></mask>
<mask id="hm4" maskUnits="userSpaceOnUse" x="557" y="167.5" width="89" height="287.5"><rect x="557" y="167.5" width="89" height="287.5" fill="url(#fade)"/></mask>
<mask id="hm5" maskUnits="userSpaceOnUse" x="646" y="167.5" width="90" height="287.5"><rect x="646" y="167.5" width="90" height="287.5" fill="url(#fade)"/></mask>
<mask id="hm6" maskUnits="userSpaceOnUse" x="736" y="167.5" width="89" height="287.5"><rect x="736" y="167.5" width="89" height="287.5" fill="url(#fade)"/></mask>
<mask id="hm7" maskUnits="userSpaceOnUse" x="825" y="167.5" width="89" height="287.5"><rect x="825" y="167.5" width="89" height="287.5" fill="url(#fade)"/></mask>
<clipPath id="c1"><rect x="200" y="110" width="714" height="345"/></clipPath>
<linearGradient id="cb" x1="0" y1="0" x2="0" y2="1"><stop offset="0%" stop-color="#800000"/><stop offset="1.56%" stop-color="#920000"/><stop offset="3.12%" stop-color="#a40000"/><stop offset="4.69%" stop-color="#b60000"/><stop offset="6.25%" stop-color="#c80000"/><stop offset="7.81%" stop-color="#da0000"/><stop offset="9.38%" stop-color="#ec0400"/><stop offset="10.94%" stop-color="#fe1200"/><stop offset="12.5%" stop-color="#ff2100"/><stop offset="14.06%" stop-color="#ff3000"/><stop offset="15.62%" stop-color="#ff3f00"/><stop offset="17.19%" stop-color="#ff4d00"/><stop offset="18.75%" stop-color="#ff5c00"/><stop offset="20.31%" stop-color="#ff6b00"/><stop offset="21.88%" stop-color="#ff7a00"/><stop offset="23.44%" stop-color="#ff8800"/><stop offset="25%" stop-color="#ff9700"/><stop offset="26.56%" stop-color="#ffa600"/><stop offset="28.12%" stop-color="#ffb500"/><stop offset="29.69%" stop-color="#ffc300"/><stop offset="31.25%" stop-color="#ffd200"/><stop offset="32.81%" stop-color="#ffe100"/><stop offset="34.38%" stop-color="#fcf000"/><stop offset="35.94%" stop-color="#effe08"/><stop offset="37.5%" stop-color="#e2ff15"/><stop offset="39.06%" stop-color="#d5ff21"/><stop offset="40.62%" stop-color="#c9ff2e"/><stop offset="42.19%" stop-color="#bcff3b"/><stop offset="43.75%" stop-color="#afff48"/><stop offset="45.31%" stop-color="#a2ff55"/><stop offset="46.88%" stop-color="#95ff62"/><stop offset="48.44%" stop-color="#88ff6f"/><stop offset="50%" stop-color="#7bff7b"/><stop offset="51.56%" stop-color="#6fff88"/><stop offset="53.12%" stop-color="#62ff95"/><stop offset="54.69%" stop-color="#55ffa2"/><stop offset="56.25%" stop-color="#48ffaf"/><stop offset="57.81%" stop-color="#3bffbc"/><stop offset="59.38%" stop-color="#2effc9"/><stop offset="60.94%" stop-color="#21ffd5"/><stop offset="62.5%" stop-color="#15ffe2"/><stop offset="64.06%" stop-color="#08efef"/><stop offset="65.62%" stop-color="#00dffc"/><stop offset="67.19%" stop-color="#00cfff"/><stop offset="68.75%" stop-color="#00bfff"/><stop offset="70.31%" stop-color="#00afff"/><stop offset="71.88%" stop-color="#009fff"/><stop offset="73.44%" stop-color="#008fff"/><stop offset="75%" stop-color="#0080ff"/><stop offset="76.56%" stop-color="#0070ff"/><stop offset="78.12%" stop-color="#0060ff"/><stop offset="79.69%" stop-color="#0050ff"/><stop offset="81.25%" stop-color="#0040ff"/><stop offset="82.81%" stop-color="#0030ff"/><stop offset="84.38%" stop-color="#0020ff"/><stop offset="85.94%" stop-color="#0010ff"/><stop offset="87.5%" stop-color="#0000ff"/><stop offset="89.06%" stop-color="#0000fe"/><stop offset="90.62%" stop-color="#0000ec"/><stop offset="92.19%" stop-color="#0000da"/><stop offset="93.75%" stop-color="#0000c8"/><stop offset="95.31%" stop-color="#0000b6"/><stop offset="96.88%" stop-color="#0000a4"/><stop offset="98.44%" stop-color="#000092"/><stop offset="100%" stop-color="#000080"/></linearGradient>
<clipPath id="c2"><rect x="200" y="478" width="714" height="344"/></clipPath>
<clipPath id="c3"><rect x="200" y="845" width="714" height="172"/></clipPath>
<clipPath id="r1"><rect x="1205" y="110" width="595" height="345"/></clipPath>
<clipPath id="r2"><rect x="1205" y="478" width="595" height="344"/></clipPath>
<clipPath id="r3"><rect x="1205" y="845" width="595" height="172"/></clipPath></defs>
<text x="1000" y="41" font-size="24.09" text-anchor="middle" fill="#000">BAS-RBM Relativistic Electron Forecast, issued at 23:10 UT, 30 January 2020</text>
<rect x="200" y="110" width="714" height="345" fill="#d3d3d3"/>
<rect x="200" y="167.5" width="36" height="287.5" fill="url(#hg0)" shape-rendering="crispEdges"/>
<rect x="200" y="167.5" width="36" height="287.5" fill="url(#hg1)" mask="url(#hm0)" shape-rendering="crispEdges"/>
<rect x="236" y="167.5" width="53" height="287.5" fill="url(#hg1)" shape-rendering="crispEdges"/>
<rect x="236" y="167.5" width="53" height="287.5" fill="url(#hg2)" mask="url(#hm1)" shape-rendering="crispEdges"/>
<rect x="289" y="167.5" width="134" height="287.5" fill="url(#hg2)" shape-rendering="crispEdges"/>
<rect x="289" y="167.5" width="134" height="287.5" fill="url(#hg3)" mask="url(#hm2)" shape-rendering="crispEdges"/>
<rect x="423" y="167.5" width="134" height="287.5" fill="url(#hg3)" shape-rendering="crispEdges"/>
<rect x="423" y="167.5" width="134" height="287.5" fill="url(#hg4)" mask="url(#hm3)" shape-rendering="crispEdges"/>
<rect x="557" y="167.5" width="89" height="287.5" fill="url(#hg4)" shape-rendering="crispEdges"/>
<rect x="557" y="167.5" width="89" height="287.5" fill="url(#hg5)" mask="url(#hm4)" shape-rendering="crispEdges"/>
<rect x="646" y="167.5" width="90" height="287.5" fill="url(#hg5)" shape-rendering="crispEdges"/>
<rect x="646" y="167.5" width="90" height="287.5" fill="url(#hg6)" mask="url(#hm5)" shape-rendering="crispEdges"/>
<rect x="736" y="167.5" width="89" height="287.5" fill="url(#hg6)" shape-rendering="crispEdges"/>
<rect x="736" y="167.5" width="89" height="287.5" fill="url(#hg7)" mask="url(#hm6)" shape-rendering="crispEdges"/>
<rect x="825" y="167.5" width="89" height="287.5" fill="url(#hg7)" shape-rendering="crispEdges"/>
<rect x="825" y="167.5" width="89" height="287.5" fill="url(#hg8)" mask="url(#hm7)" shape-rendering="crispEdges"/>
<path d="M200 221.66L201 220.38L202 219.29L203 218.5L204 218.03L205 217.74L206 217.57L207 217.43L208 217.26L209 216.97L210 216.5L211 215.78L212 214.8L213 213.54L214 212L215 209.98L216 207.55L217 205.09L218 203L219 201.41L220 200.23L221 199.5L222 199.15L223 199.06L224 199.2L225 199.5L226 200.17L227 201.16L228 202.07L229 202.5L230 202.3L231 201.71L232 200.96L233 200.26L234 199.77L235 199.31L236 198.99L237 199L238 199.4L239 200.2L240 201.5L241 203.38L242 205.66L243 207.98L244 210L245 211.7L246 213.25L247 214.55L248 215.5L249 216.11L250 216.49L251 216.72L252 216.91L253 217.14L254 217.5L255 217.95L256 218.45L257 219.1L258 220L259 221.16L260 222.5L261 223.94L262 225.38L263 226.76L264 228L265 229.1L266 230.13L267 231.05L268 231.85L269 232.5L270 232.93L271 233.16L272 233.28L273 233.39L274 233.49L275 233.49L276 233.52L277 233.53L278 233.46L279 233.27L280 232.93L281 232.42L282 231.71L283 230.77L284 229.56L285 228.08L286 226.47L287 224.84L288 223.34L289 221.99L290 220.69L291 219.53L292 218.66L293 218.13L294 217.8L295 217.61L296 217.47L297 217.31L298 217.06L299 216.64L300 215.98L301 215.07L302 213.88L303 212.41L304 210.54L305 208.17L306 205.69L307 203.47L308 201.77L309 200.49L310 199.64L311 199.21L312 199.06L313 199.14L314 199.41L315 199.96L316 200.9L317 201.87L318 202.46L319 202.39L320 201.88L321 201.15L322 200.42L323 199.89L324 199.42L325 199.05L326 198.96L327 199.27L328 199.96L329 201.13L330 202.86L331 205.07L332 207.42L333 209.54L334 211.29L335 212.88L336 214.25L337 215.3L338 215.98L339 216.41L340 216.67L341 216.87L342 217.08L343 217.39L344 217.83L345 218.31L346 218.92L347 219.75L348 220.85L349 222.16L350 223.57L351 225.02L352 226.43L353 227.71L354 228.83L355 229.88L356 230.83L357 231.66L358 232.35L359 232.85L360 233.12L361 233.26L362 233.36L363 233.49L364 233.49L365 233.52L366 233.53L367 233.49L368 233.33L369 233.03L370 232.56L371 231.91L372 231.03L373 229.89L374 228.47L375 226.88L376 225.24L377 223.7L378 222.33L379 221L380 219.8L381 218.85L382 218.24L383 217.87L384 217.65L385 217.5L386 217.35L387 217.13L388 216.76L389 216.17L390 215.32L391 214.2L392 212.81L393 211.06L394 208.79L395 206.3L396 203.98L397 202.16L398 200.77L399 199.81L400 199.29L401 199.08L402 199.1L403 199.33L404 199.77L405 200.65L406 201.65L407 202.37L408 202.46L409 202.04L410 201.34L411 200.59L412 200L413 199.53L414 199.12L415 198.94L416 199.16L417 199.75L418 200.79L419 202.37L420 204.49L421 206.84L422 209.05L423 210.87L424 212.5L425 213.94L426 215.07L427 215.84L428 216.32L429 216.62L430 216.82L431 217.02L432 217.3L433 217.72L434 218.19L435 218.75L436 219.52L437 220.56L438 221.82L439 223.21L440 224.66L441 226.09L442 227.41L443 228.56L444 229.63L445 230.6L446 231.47L447 232.19L448 232.75L449 233.07L450 233.23L451 233.33L452 233.47L453 233.48L454 233.51L455 233.53L456 233.51L457 233.39L458 233.12L459 232.69L460 232.09L461 231.27L462 230.21L463 228.84L464 227.28L465 225.65L466 224.07L467 222.67L468 221.33L469 220.08L470 219.06L471 218.36L472 217.94L473 217.69L474 217.53L475 217.39L476 217.2L477 216.87L478 216.34L479 215.56L480 214.51L481 213.18L482 211.55L483 209.4L484 206.92L485 204.52L486 202.57L487 201.08L488 200.01L489 199.38L490 199.1L491 199.08L492 199.26L493 199.62L494 200.4L495 201.41L496 202.24L497 202.5L498 202.18L499 201.53L500 200.77L501 200.12L502 199.65L503 199.21L504 198.96L505 199.07L506 199.56L507 200.48L508 201.92L509 203.93L510 206.25L511 208.53L512 210.44L513 212.11L514 213.6L515 214.82L516 215.68L517 216.22L518 216.55L519 216.77L520 216.96L521 217.22L522 217.61L523 218.06L524 218.6L525 219.3L526 220.27L527 221.49L528 222.85L529 224.3L530 225.74L531 227.09L532 228.28L533 229.37L534 230.37L535 231.26L536 232.03L537 232.63L538 233.01L539 233.2L540 233.3L541 233.43L542 233.48L543 233.5L544 233.53L545 233.52L546 233.43L547 233.2L548 232.82L549 232.26L550 231.5L551 230.5L552 229.21L553 227.68L554 226.06L555 224.45L556 223L557 221.66L558 220.38L559 219.29L560 218.5L561 218.03L562 217.74L563 217.57L564 217.43L565 217.26L566 216.97L567 216.5L568 215.78L569 214.8L570 213.54L571 212L572 209.98L573 207.55L574 205.09L575 203L576 201.41L577 200.23L578 199.5L579 199.15L580 199.06L581 199.2L582 199.5L583 200.17L584 201.16L585 202.07L586 202.5L587 202.3L588 201.71L589 200.96L590 200.26L591 199.77L592 199.31L593 198.99L594 199L595 199.4L596 200.2L597 201.5L598 203.38L599 205.66L600 207.98L601 210L602 211.7L603 213.25L604 214.55L605 215.5L606 216.11L607 216.49L608 216.72L609 216.91L610 217.14L611 217.5L612 217.95L613 218.45L614 219.1L615 220L616 221.16L617 222.5L618 223.94L619 225.38L620 226.76L621 228L622 229.1L623 230.13L624 231.05L625 231.85L626 232.5L627 232.93L628 233.16L629 233.28L630 233.39L631 233.49L632 233.49L633 233.52L634 233.53L635 233.46L636 233.27L637 232.93L638 232.42L639 231.71L640 230.77L641 229.56L642 228.08L643 226.47L644 224.84L645 223.34L646 221.99L647 220.69L648 219.53L649 218.66L650 218.13L651 217.8L652 217.61L653 217.47L654 217.31L655 217.06L656 216.64L657 215.98L658 215.07L659 213.88L660 212.41L661 210.54L662 208.17L663 205.69L664 203.47L665 201.77L666 200.49L667 199.64L668 199.21L669 199.06L670 199.14L671 199.41L672 199.96L673 200.9L674 201.87L675 202.46L676 202.39L677 201.88L678 201.15L679 200.42L680 199.89L681 199.42L682 199.05L683 198.96L684 199.27L685 199.96L686 201.13L687 202.86L688 205.07L689 207.42L690 209.54L691 211.29L692 212.88L693 214.25L694 215.3L695 215.98L696 216.41L697 216.67L698 216.87L699 217.08L700 217.39L701 217.83L702 218.31L703 218.92L704 219.75L705 220.85L706 222.16L707 223.57L708 225.02L709 226.43L710 227.71L711 228.83L712 229.88L713 230.83L714 231.66L715 232.35L716 232.85L717 233.12L718 233.26L719 233.36L720 233.49L721 233.49L722 233.52L723 233.53L724 233.49L725 233.33L726 233.03L727 232.56L728 231.91L729 231.03L730 229.89L731 228.47L732 226.88L733 225.24L734 223.7L735 222.33L736 221L737 219.8L738 218.85L739 218.24L740 217.87L741 217.65L742 217.5L743 217.35L744 217.13L745 216.76L746 216.17L747 215.32L748 214.2L749 212.81L750 211.06L751 208.79L752 206.3L753 203.98L754 202.16L755 200.77L756 199.81L757 199.29L758 199.08L759 199.1L760 199.33L761 199.77L762 200.65L763 201.65L764 202.37L765 202.46L766 202.04L767 201.34L768 200.59L769 200L770 199.53L771 199.12L772 198.94L773 199.16L774 199.75L775 200.79L776 202.37L777 204.49L778 206.84L779 209.05L780 210.87L781 212.5L782 213.94L783 215.07L784 215.84L785 216.32L786 216.62L787 216.82L788 217.02L789 217.3L790 217.72L791 218.19L792 218.75L793 219.52L794 220.56L795 221.82L796 223.21L797 224.66L798 226.09L799 227.41L800 228.56L801 229.63L802 230.6L803 231.47L804 232.19L805 232.75L806 233.07L807 233.23L808 233.33L809 233.47L810 233.48L811 233.51L812 233.53L813 233.51L814 233.39L815 233.12L816 232.69L817 232.09L818 231.27L819 230.21L820 228.84L821 227.28L822 225.65L823 224.07L824 222.67L825 221.33L826 220.08L827 219.06L828 218.36L829 217.94L830 217.69L831 217.53L832 217.39L833 217.2L834 216.87L835 216.34L836 215.56L837 214.51L838 213.18L839 211.55L840 209.4L841 206.92L842 204.52L843 202.57L844 201.08L845 200.01L846 199.38L847 199.1L848 199.08L849 199.26L850 199.62L851 200.4L852 201.41L853 202.24L854 202.5L855 202.18L856 201.53L857 200.77L858 200.12L859 199.65L860 199.21L861 198.96L862 199.07L863 199.56L864 200.48L865 201.92L866 203.93L867 206.25L868 208.53L869 210.44L870 212.11L871 213.6L872 214.82L873 215.68L874 216.22L875 216.55L876 216.77L877 216.96L878 217.22L879 217.61L880 218.06L881 218.6L882 219.3L883 220.27L884 221.49L885 222.85L886 224.3L887 225.74L888 227.09L889 228.28L890 229.37L891 230.37L892 231.26L893 232.03L894 232.63L895 233.01L896 233.2L897 233.3L898 233.43L899 233.48L900 233.5L901 233.53L902 233.52L903 233.43L904 233.2L905 232.82L906 232.26L907 231.5L908 230.5L909 229.21L910 227.68L911 226.06L912 224.45L913 223L914 221.66" fill="none" stroke="#000" stroke-width="2.3" stroke-dasharray="7.7 3.3" clip-path="url(#c1)"/>
<line x1="229.4" y1="110" x2="229.4" y2="119.9" stroke="#000" stroke-width="4"/>
<line x1="274.9" y1="110" x2="274.9" y2="119.9" stroke="#f00" stroke-width="4"/>
<text x="230.2" y="139" font-size="13.9" text-anchor="middle" fill="#000">M</text>
<text x="275.2" y="139" font-size="13.9" text-anchor="middle" fill="#f00">N</text>
<line x1="318.65" y1="110" x2="318.65" y2="119.9" stroke="#000" stroke-width="4"/>
<line x1="364.15" y1="110" x2="364.15" y2="119.9" stroke="#f00" stroke-width="4"/>
<text x="319.45" y="139" font-size="13.9" text-anchor="middle" fill="#000">M</text>
<text x="364.45" y="139" font-size="13.9" text-anchor="middle" fill="#f00">N</text>
<line x1="407.9" y1="110" x2="407.9" y2="119.9" stroke="#000" stroke-width="4"/>
<line x1="453.4" y1="110" x2="453.4" y2="119.9" stroke="#f00" stroke-width="4"/>
<text x="408.7" y="139" font-size="13.9" text-anchor="middle" fill="#000">M</text>
<text x="453.7" y="139" font-size="13.9" text-anchor="middle" fill="#f00">N</text>
<line x1="497.15" y1="110" x2="497.15" y2="119.9" stroke="#000" stroke-width="4"/>
<line x1="542.65" y1="110" x2="542.65" y2="119.9" stroke="#f00" stroke-width="4"/>
<text x="497.95" y="139" font-size="13.9" text-anchor="middle" fill="#000">M</text>
<text x="542.95" y="139" font-size="13.9" text-anchor="middle" fill="#f00">N</text>
<line x1="586.4" y1="110" x2="586.4" y2="119.9" stroke="#000" stroke-width="4"/>
<line x1="631.9" y1="110" x2="631.9" y2="119.9" stroke="#f00" stroke-width="4"/>
<text x="587.2" y="139" font-size="13.9" text-anchor="middle" fill="#000">M</text>
<text x="632.2" y="139" font-size="13.9" text-anchor="middle" fill="#f00">N</text>
<line x1="675.65" y1="110" x2="675.65" y2="119.9" stroke="#000" stroke-width="4"/>
<line x1="721.15" y1="110" x2="721.15" y2="119.9" stroke="#f00" stroke-width="4"/>
<text x="676.45" y="139" font-size="13.9" text-anchor="middle" fill="#000">M</text>
<text x="721.45" y="139" font-size="13.9" text-anchor="middle" fill="#f00">N</text>
<line x1="764.9" y1="110" x2="764.9" y2="119.9" stroke="#000" stroke-width="4"/>
<line x1="810.4" y1="110" x2="810.4" y2="119.9" stroke="#f00" stroke-width="4"/>
<text x="765.7" y="139" font-size="13.9" text-anchor="middle" fill="#000">M</text>
<text x="810.7" y="139" font-size="13.9" text-anchor="middle" fill="#f00">N</text>
<line x1="825" y1="110" x2="825" y2="455" stroke="#1f77b4" stroke-width="2" stroke-dasharray="2.05 3.45"/>
<g clip-path="url(#c1)">
<text x="888.6" y="289.8" font-size="63.9" text-anchor="middle" fill="#000" fill-opacity="0.1" transform="rotate(-90 888.6 289.8)">Forecast</text>
</g>
<line x1="248.5" y1="455" x2="248.5" y2="449.6" stroke="#000" stroke-width="1.1"/>
<line x1="337.5" y1="455" x2="337.5" y2="449.6" stroke="#000" stroke-width="1.1"/>
<line x1="426.5" y1="455" x2="426.5" y2="449.6" stroke="#000" stroke-width="1.1"/>
<line x1="516.5" y1="455" x2="516.5" y2="449.6" stroke="#000" stroke-width="1.1"/>
<line x1="605.5" y1="455" x2="605.5" y2="449.6" stroke="#000" stroke-width="1.1"/>
<line x1="694.5" y1="455" x2="694.5" y2="449.6" stroke="#000" stroke-width="1.1"/>
<line x1="783.5" y1="455" x2="783.5" y2="449.6" stroke="#000" stroke-width="1.1"/>
<line x1="873.5" y1="455" x2="873.5" y2="449.6" stroke="#000" stroke-width="1.1"/>
<line x1="200" y1="455" x2="205.4" y2="455" stroke="#000" stroke-width="1.1"/>
<text x="195.4" y="462.5" font-size="19.44" text-anchor="end" fill="#000">2</text>
<line x1="200" y1="397.5" x2="205.4" y2="397.5" stroke="#000" stroke-width="1.1"/>
<text x="195.4" y="405" font-size="19.44" text-anchor="end" fill="#000">3</text>
<line x1="200" y1="339.5" x2="205.4" y2="339.5" stroke="#000" stroke-width="1.1"/>
<text x="195.4" y="347" font-size="19.44" text-anchor="end" fill="#000">4</text>
<line x1="200" y1="282.5" x2="205.4" y2="282.5" stroke="#000" stroke-width="1.1"/>
<text x="195.4" y="290" font-size="19.44" text-anchor="end" fill="#000">5</text>
<line x1="200" y1="224.5" x2="205.4" y2="224.5" stroke="#000" stroke-width="1.1"/>
<text x="195.4" y="232" font-size="19.44" text-anchor="end" fill="#000">6</text>
<line x1="200" y1="167.5" x2="205.4" y2="167.5" stroke="#000" stroke-width="1.1"/>
<text x="195.4" y="175" font-size="19.44" text-anchor="end" fill="#000">7</text>
<line x1="200" y1="110" x2="205.4" y2="110" stroke="#000" stroke-width="1.1"/>
<text x="195.4" y="117.5" font-size="19.44" text-anchor="end" fill="#000">8</text>
<line x1="914" y1="455" x2="908.6" y2="455" stroke="#000" stroke-width="1.1"/>
<line x1="914" y1="397.5" x2="908.6" y2="397.5" stroke="#000" stroke-width="1.1"/>
<line x1="914" y1="339.5" x2="908.6" y2="339.5" stroke="#000" stroke-width="1.1"/>
<line x1="914" y1="282.5" x2="908.6" y2="282.5" stroke="#000" stroke-width="1.1"/>
<line x1="914" y1="224.5" x2="908.6" y2="224.5" stroke="#000" stroke-width="1.1"/>
<line x1="914" y1="167.5" x2="908.6" y2="167.5" stroke="#000" stroke-width="1.1"/>
<line x1="914" y1="110" x2="908.6" y2="110" stroke="#000" stroke-width="1.1"/>
<path d="M914 110V455" stroke="#000" stroke-width="2" fill="none" stroke-linecap="square"/>
<path d="M200 110H914M200 455H914M200 110V455" stroke="#000" stroke-width="2" fill="none" stroke-linecap="square"/>
<text x="172.9" y="285.8" font-size="24" text-anchor="middle" fill="#000" transform="rotate(-90 172.9 285.8)">L*</text>
<text x="175" y="93" font-size="24" text-anchor="start" fill="#000" xml:space="preserve">2.0 MeV Electron Flux at 88<tspan dy="-10.3" dx="-1.3" font-size="16.8"> ∘ </tspan><tspan dy="10.3" dx="-2" font-size="24"> pitch angle ( cm</tspan><tspan dy="-9.8" font-size="16.8">−2</tspan><tspan dy="9.8" font-size="24"> s</tspan><tspan dy="-9.8" font-size="16.8">−1</tspan><tspan dy="9.8" font-size="24"> sr</tspan><tspan dy="-9.8" font-size="16.8">−1</tspan><tspan dy="9.8" font-size="24"> KeV</tspan><tspan dy="-9.8" font-size="16.8">−1</tspan><tspan dy="9.8" dx="1.4" font-size="24"> )</tspan></text>
<rect x="958.9" y="110" width="17" height="345" fill="url(#cb)"/>
<line x1="975.9" y1="455" x2="981.8" y2="455" stroke="#000" stroke-width="1.1"/>
<text x="986.7" y="462.9" font-size="19.44" text-anchor="start" fill="#000">10<tspan dy="-7.48" font-size="13.61">−3</tspan></text>
<line x1="975.9" y1="437.5" x2="981.8" y2="437.5" stroke="#000" stroke-width="0.85"/>
<line x1="975.9" y1="427.5" x2="981.8" y2="427.5" stroke="#000" stroke-width="0.85"/>
<line x1="975.9" y1="420.5" x2="981.8" y2="420.5" stroke="#000" stroke-width="0.85"/>
<line x1="975.9" y1="414.5" x2="981.8" y2="414.5" stroke="#000" stroke-width="0.85"/>
<line x1="975.9" y1="410.5" x2="981.8" y2="410.5" stroke="#000" stroke-width="0.85"/>
<line x1="975.9" y1="406.5" x2="981.8" y2="406.5" stroke="#000" stroke-width="0.85"/>
<line x1="975.9" y1="403.5" x2="981.8" y2="403.5" stroke="#000" stroke-width="0.85"/>
<line x1="975.9" y1="400.5" x2="981.8" y2="400.5" stroke="#000" stroke-width="0.85"/>
<line x1="975.9" y1="397.5" x2="981.8" y2="397.5" stroke="#000" stroke-width="1.1"/>
<text x="986.7" y="405.4" font-size="19.44" text-anchor="start" fill="#000">10<tspan dy="-7.48" font-size="13.61">−2</tspan></text>
<line x1="975.9" y1="380.5" x2="981.8" y2="380.5" stroke="#000" stroke-width="0.85"/>
<line x1="975.9" y1="370.5" x2="981.8" y2="370.5" stroke="#000" stroke-width="0.85"/>
<line x1="975.9" y1="362.5" x2="981.8" y2="362.5" stroke="#000" stroke-width="0.85"/>
<line x1="975.9" y1="357.5" x2="981.8" y2="357.5" stroke="#000" stroke-width="0.85"/>
<line x1="975.9" y1="352.5" x2="981.8" y2="352.5" stroke="#000" stroke-width="0.85"/>
<line x1="975.9" y1="348.5" x2="981.8" y2="348.5" stroke="#000" stroke-width="0.85"/>
<line x1="975.9" y1="345.5" x2="981.8" y2="345.5" stroke="#000" stroke-width="0.85"/>
<line x1="975.9" y1="342.5" x2="981.8" y2="342.5" stroke="#000" stroke-width="0.85"/>
<line x1="975.9" y1="339.5" x2="981.8" y2="339.5" stroke="#000" stroke-width="1.1"/>
<text x="986.7" y="347.4" font-size="19.44" text-anchor="start" fill="#000">10<tspan dy="-7.48" font-size="13.61">−1</tspan></text>
<line x1="975.9" y1="322.5" x2="981.8" y2="322.5" stroke="#000" stroke-width="0.85"/>
<line x1="975.9" y1="312.5" x2="981.8" y2="312.5" stroke="#000" stroke-width="0.85"/>
<line x1="975.9" y1="305.5" x2="981.8" y2="305.5" stroke="#000" stroke-width="0.85"/>
<line x1="975.9" y1="299.5" x2="981.8" y2="299.5" stroke="#000" stroke-width="0.85"/>
<line x1="975.9" y1="295.5" x2="981.8" y2="295.5" stroke="#000" stroke-width="0.85"/>
<line x1="975.9" y1="291.5" x2="981.8" y2="291.5" stroke="#000" stroke-width="0.85"/>
<line x1="975.9" y1="288.5" x2="981.8" y2="288.5" stroke="#000" stroke-width="0.85"/>
<line x1="975.9" y1="285.5" x2="981.8" y2="285.5" stroke="#000" stroke-width="0.85"/>
<line x1="975.9" y1="282.5" x2="981.8" y2="282.5" stroke="#000" stroke-width="1.1"/>
<text x="986.7" y="290.4" font-size="19.44" text-anchor="start" fill="#000">10<tspan dy="-7.48" font-size="13.61">0</tspan></text>
<line x1="975.9" y1="265.5" x2="981.8" y2="265.5" stroke="#000" stroke-width="0.85"/>
<line x1="975.9" y1="255.5" x2="981.8" y2="255.5" stroke="#000" stroke-width="0.85"/>
<line x1="975.9" y1="247.5" x2="981.8" y2="247.5" stroke="#000" stroke-width="0.85"/>
<line x1="975.9" y1="242.5" x2="981.8" y2="242.5" stroke="#000" stroke-width="0.85"/>
<line x1="975.9" y1="237.5" x2="981.8" y2="237.5" stroke="#000" stroke-width="0.85"/>
<line x1="975.9" y1="233.5" x2="981.8" y2="233.5" stroke="#000" stroke-width="0.85"/>
<line x1="975.9" y1="230.5" x2="981.8" y2="230.5" stroke="#000" stroke-width="0.85"/>
<line x1="975.9" y1="227.5" x2="981.8" y2="227.5" stroke="#000" stroke-width="0.85"/>
<line x1="975.9" y1="224.5" x2="981.8" y2="224.5" stroke="#000" stroke-width="1.1"/>
<text x="986.7" y="232.4" font-size="19.44" text-anchor="start" fill="#000">10<tspan dy="-7.48" font-size="13.61">1</tspan></text>
<line x1="975.9" y1="207.5" x2="981.8" y2="207.5" stroke="#000" stroke-width="0.85"/>
<line x1="975.9" y1="197.5" x2="981.8" y2="197.5" stroke="#000" stroke-width="0.85"/>
<line x1="975.9" y1="190.5" x2="981.8" y2="190.5" stroke="#000" stroke-width="0.85"/>
<line x1="975.9" y1="184.5" x2="981.8" y2="184.5" stroke="#000" stroke-width="0.85"/>
<line x1="975.9" y1="180.5" x2="981.8" y2="180.5" stroke="#000" stroke-width="0.85"/>
<line x1="975.9" y1="176.5" x2="981.8" y2="176.5" stroke="#000" stroke-width="0.85"/>
<line x1="975.9" y1="173.5" x2="981.8" y2="173.5" stroke="#000" stroke-width="0.85"/>
<line x1="975.9" y1="170.5" x2="981.8" y2="170.5" stroke="#000" stroke-width="0.85"/>
<line x1="975.9" y1="167.5" x2="981.8" y2="167.5" stroke="#000" stroke-width="1.1"/>
<text x="986.7" y="175.4" font-size="19.44" text-anchor="start" fill="#000">10<tspan dy="-7.48" font-size="13.61">2</tspan></text>
<line x1="975.9" y1="150.5" x2="981.8" y2="150.5" stroke="#000" stroke-width="0.85"/>
<line x1="975.9" y1="140.5" x2="981.8" y2="140.5" stroke="#000" stroke-width="0.85"/>
<line x1="975.9" y1="132.5" x2="981.8" y2="132.5" stroke="#000" stroke-width="0.85"/>
<line x1="975.9" y1="127.5" x2="981.8" y2="127.5" stroke="#000" stroke-width="0.85"/>
<line x1="975.9" y1="122.5" x2="981.8" y2="122.5" stroke="#000" stroke-width="0.85"/>
<line x1="975.9" y1="118.5" x2="981.8" y2="118.5" stroke="#000" stroke-width="0.85"/>
<line x1="975.9" y1="115.5" x2="981.8" y2="115.5" stroke="#000" stroke-width="0.85"/>
<line x1="975.9" y1="112.5" x2="981.8" y2="112.5" stroke="#000" stroke-width="0.85"/>
<line x1="975.9" y1="110" x2="981.8" y2="110" stroke="#000" stroke-width="1.1"/>
<text x="986.7" y="117.9" font-size="19.44" text-anchor="start" fill="#000">10<tspan dy="-7.48" font-size="13.61">3</tspan></text>
<rect x="958.9" y="110" width="17" height="345" fill="none" stroke="#000" stroke-width="2"/>
<rect x="825" y="478" width="89" height="344" fill="#d3d3d3"/>
<g clip-path="url(#c2)">
<text x="888.6" y="657.8" font-size="63.9" text-anchor="middle" fill="#000" fill-opacity="0.1" transform="rotate(-90 888.6 657.8)">Forecast</text>
</g>
<line x1="825" y1="478" x2="825" y2="822" stroke="#1f77b4" stroke-width="2" stroke-dasharray="2.05 3.45"/>
<path d="M200 716.63L200.5 717.4L201 717.69L201.5 718.28L202 718.84L202.5 719.57L203 719.96L203.5 720.33L204 720.56L204.5 720.71L205 721L205.5 721.31L206 721.8L206.5 721.83L207 721.8L207.5 721.67L208 721.64L208.5 721.99L209 722.16L209.5 722.48L210 722.69L210.5 723.42L211 724.08L211.5 724.56L212 724.96L212.5 725.74L213 726.66L213.5 727.55L214 728.45L214.5 729.7L215 731.34L215.5 732.67L216 734.03L216.5 735.24L217 736.59L217.5 737.95L218 739.16L218.5 740.65L219 741.71L219.5 742.49L220 743.16L220.5 743.73L221 744.18L221.5 744.38L222 744.62L222.5 744.9L223 745.09L223.5 744.94L224 745L224.5 745.04L225 745.29L225.5 745.22L226 744.84L226.5 744.42L227 743.63L227.5 743.09L228 742.27L228.5 742.05L229 741.66L229.5 742.14L230 742.66L230.5 743.27L231 743.86L231.5 744.18L232 744.79L232.5 745.16L233 745.63L233.5 746.09L234 746.69L234.5 747.1L235 747.54L235.5 747.63L236 748.23L236.5 748.34L237 748.47L237.5 748.24L238 748L238.5 747.42L239 747.02L239.5 746.18L240 745.54L240.5 744.41L241 743.25L241.5 741.88L242 740.51L242.5 739.14L243 737.6L243.5 735.79L244 734.51L244.5 733.47L245 732.71L245.5 731.72L246 730.9L246.5 730.05L247 729.39L247.5 728.79L248 728.24L248.5 727.83L249 727.69L249.5 727.67L250 727.39L250.5 727.01L251 726.88L251.5 727.1L252 727.06L252.5 726.85L253 726.51L253.5 726.41L254 726.29L254.5 726.07L255 725.71L255.5 725.36L256 725.19L256.5 724.77L257 724.44L257.5 723.93L258 723.44L258.5 722.56L259 721.81L259.5 720.81L260 720.03L260.5 718.83L261 717.72L261.5 716.71L262 715.85L262.5 715.08L263 714.16L263.5 713.17L264 712.27L264.5 711.45L265 711L265.5 710.46L266 709.72L266.5 708.91L267 708.14L267.5 707.57L268 707.08L268.5 706.6L269 706.04L269.5 705.49L270 705.32L270.5 705.36L271 705.5L271.5 705.34L272 705.36L272.5 705.22L273 705.22L273.5 705.14L274 705.16L274.5 705.11L275 705.15L275.5 704.96L276 705.08L276.5 704.97L277 705.2L277.5 705.17L278 705.26L278.5 705.35L279 705.75L279.5 705.93L280 706.28L280.5 706.52L281 706.91L281.5 707.75L282 708.39L282.5 709.07L283 709.72L283.5 710.51L284 711.76L284.5 712.83L285 714.1L285.5 715.27L286 716.41L286.5 717.78L287 718.93L287.5 720.09L288 721.27L288.5 722.68L289 724L289.5 725.31L290 726.32L290.5 727.18L291 727.88L291.5 728.37L292 729L292.5 729.43L293 730.13L293.5 730.67L294 731.01L294.5 731.15L295 731.1L295.5 731.33L296 731.6L296.5 732.01L297 732.14L297.5 732.58L298 732.96L298.5 733.4L299 733.54L299.5 733.9L300 734.56L300.5 735.36L301 736.3L301.5 737.33L302 738.56L302.5 739.81L303 741L303.5 742.33L304 743.83L304.5 745.67L305 747.87L305.5 749.93L306 752.27L306.5 753.94L307 755.79L307.5 757.2L308 758.6L308.5 759.81L309 760.67L309.5 761.46L310 762.07L310.5 762.51L311 763.12L311.5 763.37L312 763.79L312.5 763.34L313 763.33L313.5 763.1L314 763.21L314.5 763.08L315 762.61L315.5 761.97L316 761.16L316.5 760.67L317 760.06L317.5 759.53L318 758.86L318.5 758.85L319 758.91L319.5 759.35L320 760.17L320.5 761.08L321 761.86L321.5 762.38L322 763.11L322.5 763.66L323 764.21L323.5 764.57L324 764.96L324.5 765.32L325 765.25L325.5 765.37L326 765.26L326.5 765.32L327 765.11L327.5 764.58L328 764.03L328.5 763.58L329 762.74L329.5 761.59L330 759.94L330.5 758.17L331 756.48L331.5 754.51L332 752.89L332.5 750.87L333 749.32L333.5 747.75L334 746.45L334.5 745.21L335 743.88L335.5 743.09L336 742.02L336.5 741.33L337 740.43L337.5 739.91L338 739.17L338.5 738.83L339 738.39L339.5 738.45L340 738.3L340.5 738.33L341 738.09L341.5 738.2L342 738.27L342.5 738.16L343 737.71L343.5 737.16L344 737.02L344.5 736.92L345 736.38L345.5 735.75L346 734.93L346.5 734.36L347 733.56L347.5 732.93L348 732.02L348.5 731.4L349 730.42L349.5 729.34L350 727.93L350.5 726.61L351 725.76L351.5 724.67L352 723.48L352.5 722.28L353 721.46L353.5 720.67L354 720.01L354.5 719.17L355 718.51L355.5 717.47L356 716.73L356.5 716L357 715.22L357.5 714.71L358 714.03L358.5 713.88L359 713.36L359.5 713.59L360 713.49L360.5 713.67L361 713.49L361.5 713.26L362 712.84L362.5 712.62L363 712.81L363.5 713.14L364 713.3L364.5 713.33L365 713.15L365.5 713.11L366 713.26L366.5 713.42L367 713.24L367.5 713.12L368 713.32L368.5 713.86L369 714.1L369.5 714.55L370 714.69L370.5 715.42L371 716.2L371.5 717.31L372 717.83L372.5 718.58L373 719.1L373.5 720.46L374 721.65L374.5 723.19L375 724.54L375.5 725.93L376 727.51L376.5 728.8L377 730.07L377.5 730.9L378 731.87L378.5 732.91L379 734.27L379.5 735.45L380 736.65L380.5 737.39L381 738.1L381.5 738.55L382 739.09L382.5 739.55L383 739.74L383.5 740.17L384 740.26L384.5 740.62L385 740.59L385.5 740.95L386 740.81L386.5 741.06L387 741.07L387.5 741.56L388 742L388.5 742.38L389 742.76L389.5 743.18L390 744.11L390.5 744.93L391 746.05L391.5 746.98L392 748.29L392.5 749.58L393 751.32L393.5 753.17L394 755.12L394.5 757.11L395 759.21L395.5 760.94L396 762.74L396.5 764.4L397 766.25L397.5 767.78L398 768.92L398.5 769.7L399 770.07L399.5 770.54L400 770.99L400.5 771.51L401 771.55L401.5 771.54L402 771.45L402.5 771.66L403 771.48L403.5 771.08L404 770.38L404.5 769.69L405 768.93L405.5 768.32L406 767.72L406.5 767.23L407 766.82L407.5 766.46L408 766.53L408.5 766.64L409 767.15L409.5 767.82L410 768.49L410.5 768.92L411 769.39L411.5 769.87L412 770.38L412.5 770.72L413 771.34L413.5 772.11L414 772.48L414.5 772.73L415 772.78L415.5 772.64L416 772.3L416.5 771.79L417 771.42L417.5 770.53L418 769.58L418.5 768.55L419 767.5L419.5 766.14L420 764.2L420.5 762.4L421 760.38L421.5 758.43L422 756.59L422.5 754.96L423 753.8L423.5 752.36L424 751.27L424.5 750.06L425 748.95L425.5 747.95L426 747.13L426.5 746.45L427 745.96L427.5 745.48L428 745.13L428.5 744.68L429 744.37L429.5 744.23L430 744.39L430.5 744.33L431 744.25L431.5 743.73L432 743.54L432.5 743.42L433 743.32L433.5 742.98L434 742.45L434.5 741.84L435 741.36L435.5 740.71L436 740.06L436.5 739.42L437 738.72L437.5 737.92L438 736.83L438.5 735.51L439 734.32L439.5 733.08L440 732.18L440.5 731.11L441 730.19L441.5 728.97L442 727.67L442.5 726.76L443 726.05L443.5 725.24L444 724.31L444.5 723.52L445 722.82L445.5 722.31L446 721.48L446.5 720.89L447 720.31L447.5 719.91L448 719.58L448.5 719.25L449 718.8L449.5 718.97L450 718.69L450.5 718.89L451 718.58L451.5 718.66L452 718.62L452.5 718.58L453 718.66L453.5 718.53L454 718.55L454.5 718.44L455 718.37L455.5 718.39L456 718.59L456.5 718.79L457 719.17L457.5 719.32L458 719.5L458.5 719.49L459 719.76L459.5 720.39L460 721.18L460.5 721.81L461 722.63L461.5 723.27L462 724.18L462.5 725.16L463 726.81L463.5 728.27L464 729.47L464.5 730.64L465 732.03L465.5 733.59L466 734.76L466.5 735.8L467 736.84L467.5 738.06L468 739.45L468.5 740.75L469 741.62L469.5 742.29L470 742.85L470.5 743.58L471 744.21L471.5 744.68L472 745.07L472.5 745.43L473 745.56L473.5 745.57L474 745.37L474.5 745.41L475 745.55L475.5 745.68L476 746.08L476.5 746.48L477 746.98L477.5 747.21L478 747.51L478.5 748.06L479 749.1L479.5 749.85L480 750.91L480.5 751.82L481 753.26L481.5 754.49L482 755.91L482.5 757.44L483 759.43L483.5 761.52L484 763.58L484.5 765.45L485 767.22L485.5 769.2L486 770.94L486.5 772.32L487 773.28L487.5 773.98L488 774.73L488.5 775.48L489 775.92L489.5 776.21L490 776.4L490.5 776.74L491 776.62L491.5 776.56L492 776.14L492.5 775.99L493 775.6L493.5 775.39L494 775.13L494.5 774.38L495 773.46L495.5 772.47L496 771.71L496.5 771.41L497 771.11L497.5 771.66L498 772.11L498.5 772.82L499 773.13L499.5 773.79L500 774.41L500.5 775.11L501 775.49L501.5 775.66L502 776.11L502.5 776.56L503 777.16L503.5 777.42L504 777.36L504.5 777.42L505 777.27L505.5 777.08L506 776.48L506.5 775.94L507 775.26L507.5 774.35L508 773.1L508.5 771.59L509 770.03L509.5 768.12L510 766.05L510.5 763.95L511 762.15L511.5 760.62L512 759.35L512.5 757.94L513 756.59L513.5 755.13L514 754.19L514.5 753.1L515 752.36L515.5 751.37L516 750.79L516.5 750.21L517 750.13L517.5 749.92L518 749.77L518.5 749.29L519 749.04L519.5 749L520 749.17L520.5 748.91L521 748.54L521.5 748.06L522 747.82L522.5 747.4L523 747.07L523.5 746.85L524 746.43L524.5 745.95L525 745.38L525.5 744.98L526 744.09L526.5 743.32L527 742.28L527.5 741.17L528 739.91L528.5 738.58L529 737.63L529.5 736.22L530 735.31L530.5 734.04L531 733.28L531.5 732.3L532 731.52L532.5 730.52L533 729.72L533.5 728.66L534 727.94L534.5 727.14L535 726.74L535.5 726.17L536 725.99L536.5 725.43L537 725L537.5 724.26L538 724.2L538.5 723.71L539 723.79L539.5 723.46L540 723.37L540.5 722.99L541 722.96L541.5 723.16L542 723.32L542.5 723.46L543 723.43L543.5 723.43L544 723.09L544.5 723.16L545 723.33L545.5 723.61L546 723.45L546.5 723.35L547 723.83L547.5 724.28L548 724.72L548.5 724.86L549 725.52L549.5 726.12L550 726.79L550.5 727.31L551 728.24L551.5 729.47L552 730.75L552.5 732.08L553 733.26L553.5 734.62L554 735.88L554.5 737.2L555 738.59L555.5 739.86L556 740.94L556.5 741.94L557 742.97L557.5 744.17L558 745.21L558.5 746.21L559 746.84L559.5 747.59L560 748.27L560.5 748.73L561 749.23L561.5 749.39L562 749.75L562.5 749.53L563 749.76L563.5 749.8L564 750.08L564.5 750.17L565 750.33L565.5 750.5L566 750.58L566.5 751.05L567 751.68L567.5 752.41L568 753.12L568.5 753.77L569 754.61L569.5 755.46L570 756.83L570.5 758.04L571 759.22L571.5 760.4L572 762.34L572.5 764.35L573 766.46L573.5 768.36L574 770.37L574.5 772.38L575 774.13L575.5 775.56L576 776.8L576.5 777.56L577 778.43L577.5 779.04L578 779.7L578.5 780.12L579 780.44L579.5 780.38L580 780.4L580.5 780.13L581 780.27L581.5 780.28L582 780.23L582.5 779.58L583 778.88L583.5 778.1L584 777.26L584.5 776.38L585 775.75L585.5 775.56L586 775.5L586.5 775.58L587 775.83L587.5 776.26L588 776.75L588.5 777.23L589 777.84L589.5 778.43L590 779.37L590.5 779.88L591 780.34L591.5 780.46L592 780.81L592.5 781.11L593 781.44L593.5 781.56L594 781.63L594.5 781.26L595 780.93L595.5 780.41L596 779.64L596.5 778.7L597 777.49L597.5 776.19L598 774.49L598.5 772.46L599 770.76L599.5 768.81L600 767.04L600.5 765.26L601 763.63L601.5 762.5L602 761.13L602.5 760.13L603 758.81L603.5 757.52L604 756.25L604.5 755.61L605 755.02L605.5 754.66L606 754.26L606.5 753.92L607 753.71L607.5 753.31L608 753.21L608.5 752.99L609 752.83L609.5 752.85L610 752.88L610.5 752.37L611 751.7L611.5 751.31L612 751.3L612.5 751.12L613 750.8L613.5 750.14L614 749.77L614.5 749.02L615 748.52L615.5 747.52L616 746.63L616.5 745.49L617 744.3L617.5 743.15L618 742.04L618.5 740.79L619 739.69L619.5 738.68L620 737.91L620.5 736.73L621 735.68L621.5 734.57L622 733.58L622.5 732.71L623 731.98L623.5 731.26L624 730.76L624.5 729.89L625 729.27L625.5 728.44L626 728.31L626.5 727.99L627 727.76L627.5 727.31L628 727.13L628.5 726.94L629 727.11L629.5 727.22L630 727.42L630.5 727.12L631 727.35L631.5 727.16L632 727.02L632.5 726.7L633 726.84L633.5 727.19L634 727.15L634.5 727.27L635 727.5L635.5 727.68L636 727.75L636.5 727.65L637 728.13L637.5 728.74L638 729.53L638.5 730.17L639 730.91L639.5 731.6L640 732.48L640.5 733.18L641 734.19L641.5 735.33L642 736.65L642.5 738.17L643 739.69L643.5 741.22L644 742.44L644.5 743.51L645 744.87L645.5 746.02L646 747.27L646.5 748.22L647 749.42L647.5 750.57L648 751.49L648.5 752.15L649 752.88L649.5 753.51L650 754.19L650.5 754.36L651 754.7L651.5 754.99L652 755.33L652.5 755.37L653 755.33L653.5 755.38L654 755.62L654.5 755.95L655 756.09L655.5 756.14L656 756.55L656.5 757.26L657 758.23L657.5 759.11L658 759.97L658.5 760.81L659 761.8L659.5 762.87L660 764.37L660.5 765.73L661 767.49L661.5 769.28L662 771.29L662.5 773.15L663 775.18L663.5 776.85L664 778.84L664.5 780.46L665 782.29L665.5 783.44L666 784.23L666.5 784.62L667 785.44L667.5 785.8L668 786.4L668.5 786.11L669 786.37L669.5 786.35L670 786.57L670.5 786.42L671 786.02L671.5 785.58L672 785.17L672.5 784.63L673 783.93L673.5 783.05L674 782.17L674.5 781.75L675 781.54L675.5 781.52L676 781.62L676.5 781.97L677 782.49L677.5 783.31L678 784L678.5 784.68L679 785.16L679.5 785.68L680 785.97L680.5 786.34L681 786.53L681.5 787.01L682 787.3L682.5 787.43L683 787.32L683.5 786.92L684 786.68L684.5 786.47L685 786.01L685.5 785.2L686 784.11L686.5 783.03L687 781.62L687.5 779.86L688 777.88L688.5 776.11L689 774.3L689.5 772.55L690 770.82L690.5 769.38L691 768.2L691.5 766.68L692 765.78L692.5 764.51L693 763.63L693.5 762.62L694 761.75L694.5 761.39L695 761.01L695.5 760.8L696 760.43L696.5 760.25L697 760.09L697.5 760.01L698 759.83L698.5 759.97L699 759.77L699.5 759.55L700 759.25L700.5 758.71L701 758.36L701.5 757.68L702 757.4L702.5 757.25L703 757.02L703.5 756.85L704 755.93L704.5 755.18L705 754.08L705.5 753.08L706 752L706.5 751L707 750.16L707.5 749.04L708 747.97L708.5 746.68L709 745.68L709.5 744.48L710 743.71L710.5 742.77L711 742.11L711.5 741.16L712 740.57L712.5 739.9L713 739.25L713.5 738.52L714 737.91L714.5 737.46L715 737.03L715.5 736.74L716 736.54L716.5 736.34L717 735.9L717.5 735.83L718 735.95L718.5 736.02L719 735.71L719.5 735.15L720 735.21L720.5 735.19L721 735.67L721.5 735.3L722 735.43L722.5 735.31L723 735.58L723.5 735.52L724 735.55L724.5 735.66L725 735.89L725.5 736.09L726 736.38L726.5 736.75L727 737.27L727.5 737.78L728 738.4L728.5 738.88L729 739.78L729.5 740.46L730 741.63L730.5 742.25L731 743.46L731.5 744.4L732 746.14L732.5 747.57L733 748.88L733.5 749.94L734 751.25L734.5 752.5L735 753.69L735.5 754.41L736 755.28L736.5 756.26L737 757.62L737.5 758.55L738 759.25L738.5 759.42L739 760.06L739.5 760.28L740 760.6L740.5 760.45L741 760.62L741.5 760.83L742 761.33L742.5 761.37L743 761.6L743.5 761.56L744 761.87L744.5 761.91L745 762.09L745.5 762.41L746 763.23L746.5 763.91L747 764.73L747.5 765.49L748 766.32L748.5 767.46L749 768.42L749.5 769.95L750 771.46L750.5 773.19L751 774.99L751.5 776.91L752 778.94L752.5 780.76L753 782.39L753.5 783.69L754 785.24L754.5 786.29L755 787.47L755.5 788.37L756 789.27L756.5 789.71L757 789.76L757.5 789.83L758 790.1L758.5 790.26L759 790.28L759.5 790.36L760 790.03L760.5 789.73L761 788.98L761.5 788.5L762 787.87L762.5 787.11L763 786.43L763.5 785.82L764 785.37L764.5 784.81L765 784.92L765.5 785.11L766 785.73L766.5 786.14L767 786.69L767.5 787.27L768 787.88L768.5 788.51L769 789.05L769.5 789.31L770 789.71L770.5 789.91L771 790.28L771.5 790.55L772 790.73L772.5 790.53L773 790.24L773.5 789.92L774 789.7L774.5 789.03L775 788.08L775.5 786.72L776 785.62L776.5 784.01L777 782.31L777.5 780.27L778 778.36L778.5 776.86L779 775.26L779.5 774.08L780 772.51L780.5 771.15L781 769.97L781.5 769.05L782 768.39L782.5 767.49L783 766.36L783.5 765.39L784 764.71L784.5 764.66L785 764.32L785.5 764.18L786 763.82L786.5 763.75L787 763.73L787.5 763.56L788 763.1L788.5 762.63L789 762.66L789.5 762.62L790 762.38L790.5 761.75L791 761.49L791.5 761.16L792 760.81L792.5 760.09L793 759.42L793.5 758.66L794 757.94L794.5 757.18L795 756L795.5 754.72L796 753.47L796.5 752.61L797 751.49L797.5 750.33L798 749.2L798.5 748.3L799 747.34L799.5 746.47L800 745.78L800.5 745.1L801 744.38L801.5 743.56L802 742.67L802.5 741.87L803 741.3L803.5 740.82L804 740.45L804.5 739.95L805 739.58L805.5 739.27L806 738.87L806.5 738.72L807 738.52L807.5 738.73L808 738.61L808.5 738.64L809 738.38L809.5 738.51L810 738.6L810.5 738.63L811 738.58L811.5 738.51L812 738.63L812.5 738.61L813 738.65L813.5 738.6L814 738.66L814.5 738.87L815 739.23L815.5 739.56L816 740.1L816.5 740.41L817 741.11L817.5 741.57L818 742.15L818.5 742.85L819 743.52L819.5 744.72L820 745.91L820.5 747.5L821 748.85L821.5 749.86L822 750.88L822.5 752.21L823 753.61L823.5 754.99L824 755.79L824.5 756.75L825 757.42L825.5 758.46L826 759.61L826.5 760.51L827 761.4L827.5 761.93L828 762.61L828.5 762.85L829 763.1L829.5 763.49L830 763.56L830.5 763.79L831 763.85L831.5 764.17L832 764.4L832.5 764.02L833 764.11L833.5 764.02L834 764.61L834.5 765.01L835 765.67L835.5 766.18L836 766.95L836.5 767.48L837 768.55L837.5 769.39L838 770.45L838.5 771.31L839 772.45L839.5 774.1L840 776.07L840.5 778.3L841 780.42L841.5 782.13L842 783.49L842.5 784.97L843 786.34L843.5 787.8L844 788.82L844.5 790.19L845 790.75L845.5 791.43L846 791.74L846.5 792.17L847 792.22L847.5 792.27L848 792.06L848.5 791.86L849 791.36L849.5 791.43L850 791.42L850.5 791.05L851 790.6L851.5 789.74L852 789L852.5 788.03L853 787.66L853.5 787.34L854 787.29L854.5 787.51L855 788L855.5 788.63L856 788.82L856.5 789.13L857 789.57L857.5 790.23L858 790.77L858.5 791.13L859 791.61L859.5 791.9L860 792.29L860.5 792.42L861 792.63L861.5 792.58L862 792.56L862.5 792.36L863 791.88L863.5 791.24L864 790.46L864.5 789.65L865 788.41L865.5 787.11L866 785.52L866.5 783.72L867 781.7L867.5 779.76L868 778.3L868.5 776.87L869 775.67L869.5 774.36L870 773.37L870.5 772.53L871 771.47L871.5 770.61L872 769.58L872.5 769.04L873 768.23L873.5 767.59L874 767.17L874.5 767.09L875 766.85L875.5 766.63L876 766.37L876.5 766.5L877 766.26L877.5 766.02L878 765.87L878.5 765.96L879 765.73L879.5 765.43L880 764.91L880.5 764.6L881 764.04L881.5 763.53L882 762.86L882.5 762.28L883 761.67L883.5 760.92L884 760.06L884.5 758.88L885 757.93L885.5 756.44L886 755.29L886.5 754.11L887 753.23L887.5 752.46L888 751.56L888.5 750.77L889 749.89L889.5 748.89L890 748.12L890.5 747.33L891 746.62L891.5 746.19L892 745.54L892.5 745.28L893 744.62L893.5 744.28L894 743.66L894.5 743.34L895 743.05L895.5 743.04L896 743.15L896.5 743.07L897 742.97L897.5 742.8L898 742.88L898.5 742.81L899 742.77L899.5 742.62L900 742.63L900.5 742.7L901 742.7L901.5 742.67L902 742.77L902.5 742.92L903 743L903.5 743.15L904 743.45L904.5 743.87L905 744.19L905.5 744.46L906 744.87L906.5 745.37L907 746.05L907.5 746.53L908 747.29L908.5 748.23L909 749.52L909.5 750.6L910 751.73L910.5 752.67L911 753.75L911.5 754.61L912 755.98L912.5 757.47L913 759.06L913.5 759.96L914 760.78" fill="none" stroke="#f00" stroke-width="2.3" stroke-linejoin="round" clip-path="url(#c2)"/>
<line x1="248.5" y1="822" x2="248.5" y2="816.6" stroke="#000" stroke-width="1.1"/>
<line x1="337.5" y1="822" x2="337.5" y2="816.6" stroke="#000" stroke-width="1.1"/>
<line x1="426.5" y1="822" x2="426.5" y2="816.6" stroke="#000" stroke-width="1.1"/>
<line x1="516.5" y1="822" x2="516.5" y2="816.6" stroke="#000" stroke-width="1.1"/>
<line x1="605.5" y1="822" x2="605.5" y2="816.6" stroke="#000" stroke-width="1.1"/>
<line x1="694.5" y1="822" x2="694.5" y2="816.6" stroke="#000" stroke-width="1.1"/>
<line x1="783.5" y1="822" x2="783.5" y2="816.6" stroke="#000" stroke-width="1.1"/>
<line x1="873.5" y1="822" x2="873.5" y2="816.6" stroke="#000" stroke-width="1.1"/>
<line x1="200" y1="822" x2="205.4" y2="822" stroke="#000" stroke-width="1.1"/>
<text x="194.5" y="829.9" font-size="19.44" text-anchor="end" fill="#000">10<tspan dy="-7.48" font-size="13.61">−3</tspan></text>
<line x1="200" y1="804.5" x2="203.6" y2="804.5" stroke="#000" stroke-width="0.85"/>
<line x1="200" y1="794.5" x2="203.6" y2="794.5" stroke="#000" stroke-width="0.85"/>
<line x1="200" y1="787.5" x2="203.6" y2="787.5" stroke="#000" stroke-width="0.85"/>
<line x1="200" y1="781.5" x2="203.6" y2="781.5" stroke="#000" stroke-width="0.85"/>
<line x1="200" y1="777.5" x2="203.6" y2="777.5" stroke="#000" stroke-width="0.85"/>
<line x1="200" y1="773.5" x2="203.6" y2="773.5" stroke="#000" stroke-width="0.85"/>
<line x1="200" y1="770.5" x2="203.6" y2="770.5" stroke="#000" stroke-width="0.85"/>
<line x1="200" y1="767.5" x2="203.6" y2="767.5" stroke="#000" stroke-width="0.85"/>
<line x1="200" y1="764.5" x2="205.4" y2="764.5" stroke="#000" stroke-width="1.1"/>
<text x="194.5" y="772.4" font-size="19.44" text-anchor="end" fill="#000">10<tspan dy="-7.48" font-size="13.61">−2</tspan></text>
<line x1="200" y1="747.5" x2="203.6" y2="747.5" stroke="#000" stroke-width="0.85"/>
<line x1="200" y1="737.5" x2="203.6" y2="737.5" stroke="#000" stroke-width="0.85"/>
<line x1="200" y1="730.5" x2="203.6" y2="730.5" stroke="#000" stroke-width="0.85"/>
<line x1="200" y1="724.5" x2="203.6" y2="724.5" stroke="#000" stroke-width="0.85"/>
<line x1="200" y1="720.5" x2="203.6" y2="720.5" stroke="#000" stroke-width="0.85"/>
<line x1="200" y1="716.5" x2="203.6" y2="716.5" stroke="#000" stroke-width="0.85"/>
<line x1="200" y1="712.5" x2="203.6" y2="712.5" stroke="#000" stroke-width="0.85"/>
<line x1="200" y1="709.5" x2="203.6" y2="709.5" stroke="#000" stroke-width="0.85"/>
<line x1="200" y1="707.5" x2="205.4" y2="707.5" stroke="#000" stroke-width="1.1"/>
<text x="194.5" y="715.4" font-size="19.44" text-anchor="end" fill="#000">10<tspan dy="-7.48" font-size="13.61">−1</tspan></text>
<line x1="200" y1="690.5" x2="203.6" y2="690.5" stroke="#000" stroke-width="0.85"/>
<line x1="200" y1="679.5" x2="203.6" y2="679.5" stroke="#000" stroke-width="0.85"/>
<line x1="200" y1="672.5" x2="203.6" y2="672.5" stroke="#000" stroke-width="0.85"/>
<line x1="200" y1="667.5" x2="203.6" y2="667.5" stroke="#000" stroke-width="0.85"/>
<line x1="200" y1="662.5" x2="203.6" y2="662.5" stroke="#000" stroke-width="0.85"/>
<line x1="200" y1="658.5" x2="203.6" y2="658.5" stroke="#000" stroke-width="0.85"/>
<line x1="200" y1="655.5" x2="203.6" y2="655.5" stroke="#000" stroke-width="0.85"/>
<line x1="200" y1="652.5" x2="203.6" y2="652.5" stroke="#000" stroke-width="0.85"/>
<line x1="200" y1="649.5" x2="205.4" y2="649.5" stroke="#000" stroke-width="1.1"/>
<text x="194.5" y="657.4" font-size="19.44" text-anchor="end" fill="#000">10<tspan dy="-7.48" font-size="13.61">0</tspan></text>
<line x1="200" y1="632.5" x2="203.6" y2="632.5" stroke="#000" stroke-width="0.85"/>
<line x1="200" y1="622.5" x2="203.6" y2="622.5" stroke="#000" stroke-width="0.85"/>
<line x1="200" y1="615.5" x2="203.6" y2="615.5" stroke="#000" stroke-width="0.85"/>
<line x1="200" y1="609.5" x2="203.6" y2="609.5" stroke="#000" stroke-width="0.85"/>
<line x1="200" y1="605.5" x2="203.6" y2="605.5" stroke="#000" stroke-width="0.85"/>
<line x1="200" y1="601.5" x2="203.6" y2="601.5" stroke="#000" stroke-width="0.85"/>
<line x1="200" y1="598.5" x2="203.6" y2="598.5" stroke="#000" stroke-width="0.85"/>
<line x1="200" y1="595.5" x2="203.6" y2="595.5" stroke="#000" stroke-width="0.85"/>
<line x1="200" y1="592.5" x2="205.4" y2="592.5" stroke="#000" stroke-width="1.1"/>
<text x="194.5" y="600.4" font-size="19.44" text-anchor="end" fill="#000">10<tspan dy="-7.48" font-size="13.61">1</tspan></text>
<line x1="200" y1="575.5" x2="203.6" y2="575.5" stroke="#000" stroke-width="0.85"/>
<line x1="200" y1="565.5" x2="203.6" y2="565.5" stroke="#000" stroke-width="0.85"/>
<line x1="200" y1="558.5" x2="203.6" y2="558.5" stroke="#000" stroke-width="0.85"/>
<line x1="200" y1="552.5" x2="203.6" y2="552.5" stroke="#000" stroke-width="0.85"/>
<line x1="200" y1="548.5" x2="203.6" y2="548.5" stroke="#000" stroke-width="0.85"/>
<line x1="200" y1="544.5" x2="203.6" y2="544.5" stroke="#000" stroke-width="0.85"/>
<line x1="200" y1="540.5" x2="203.6" y2="540.5" stroke="#000" stroke-width="0.85"/>
<line x1="200" y1="537.5" x2="203.6" y2="537.5" stroke="#000" stroke-width="0.85"/>
<line x1="200" y1="535.5" x2="205.4" y2="535.5" stroke="#000" stroke-width="1.1"/>
<text x="194.5" y="543.4" font-size="19.44" text-anchor="end" fill="#000">10<tspan dy="-7.48" font-size="13.61">2</tspan></text>
<line x1="200" y1="518.5" x2="203.6" y2="518.5" stroke="#000" stroke-width="0.85"/>
<line x1="200" y1="507.5" x2="203.6" y2="507.5" stroke="#000" stroke-width="0.85"/>
<line x1="200" y1="500.5" x2="203.6" y2="500.5" stroke="#000" stroke-width="0.85"/>
<line x1="200" y1="495.5" x2="203.6" y2="495.5" stroke="#000" stroke-width="0.85"/>
<line x1="200" y1="490.5" x2="203.6" y2="490.5" stroke="#000" stroke-width="0.85"/>
<line x1="200" y1="486.5" x2="203.6" y2="486.5" stroke="#000" stroke-width="0.85"/>
<line x1="200" y1="483.5" x2="203.6" y2="483.5" stroke="#000" stroke-width="0.85"/>
<line x1="200" y1="480.5" x2="203.6" y2="480.5" stroke="#000" stroke-width="0.85"/>
<line x1="200" y1="478" x2="205.4" y2="478" stroke="#000" stroke-width="1.1"/>
<text x="194.5" y="485.9" font-size="19.44" text-anchor="end" fill="#000">10<tspan dy="-7.48" font-size="13.61">3</tspan></text>
<line x1="914" y1="822" x2="908.6" y2="822" stroke="#000" stroke-width="1.1"/>
<line x1="914" y1="804.5" x2="910.4" y2="804.5" stroke="#000" stroke-width="0.85"/>
<line x1="914" y1="794.5" x2="910.4" y2="794.5" stroke="#000" stroke-width="0.85"/>
<line x1="914" y1="787.5" x2="910.4" y2="787.5" stroke="#000" stroke-width="0.85"/>
<line x1="914" y1="781.5" x2="910.4" y2="781.5" stroke="#000" stroke-width="0.85"/>
<line x1="914" y1="777.5" x2="910.4" y2="777.5" stroke="#000" stroke-width="0.85"/>
<line x1="914" y1="773.5" x2="910.4" y2="773.5" stroke="#000" stroke-width="0.85"/>
<line x1="914" y1="770.5" x2="910.4" y2="770.5" stroke="#000" stroke-width="0.85"/>
<line x1="914" y1="767.5" x2="910.4" y2="767.5" stroke="#000" stroke-width="0.85"/>
<line x1="914" y1="764.5" x2="908.6" y2="764.5" stroke="#000" stroke-width="1.1"/>
<line x1="914" y1="747.5" x2="910.4" y2="747.5" stroke="#000" stroke-width="0.85"/>
<line x1="914" y1="737.5" x2="910.4" y2="737.5" stroke="#000" stroke-width="0.85"/>
<line x1="914" y1="730.5" x2="910.4" y2="730.5" stroke="#000" stroke-width="0.85"/>
<line x1="914" y1="724.5" x2="910.4" y2="724.5" stroke="#000" stroke-width="0.85"/>
<line x1="914" y1="720.5" x2="910.4" y2="720.5" stroke="#000" stroke-width="0.85"/>
<line x1="914" y1="716.5" x2="910.4" y2="716.5" stroke="#000" stroke-width="0.85"/>
<line x1="914" y1="712.5" x2="910.4" y2="712.5" stroke="#000" stroke-width="0.85"/>
<line x1="914" y1="709.5" x2="910.4" y2="709.5" stroke="#000" stroke-width="0.85"/>
<line x1="914" y1="707.5" x2="908.6" y2="707.5" stroke="#000" stroke-width="1.1"/>
<line x1="914" y1="690.5" x2="910.4" y2="690.5" stroke="#000" stroke-width="0.85"/>
<line x1="914" y1="679.5" x2="910.4" y2="679.5" stroke="#000" stroke-width="0.85"/>
<line x1="914" y1="672.5" x2="910.4" y2="672.5" stroke="#000" stroke-width="0.85"/>
<line x1="914" y1="667.5" x2="910.4" y2="667.5" stroke="#000" stroke-width="0.85"/>
<line x1="914" y1="662.5" x2="910.4" y2="662.5" stroke="#000" stroke-width="0.85"/>
<line x1="914" y1="658.5" x2="910.4" y2="658.5" stroke="#000" stroke-width="0.85"/>
<line x1="914" y1="655.5" x2="910.4" y2="655.5" stroke="#000" stroke-width="0.85"/>
<line x1="914" y1="652.5" x2="910.4" y2="652.5" stroke="#000" stroke-width="0.85"/>
<line x1="914" y1="649.5" x2="908.6" y2="649.5" stroke="#000" stroke-width="1.1"/>
<line x1="914" y1="632.5" x2="910.4" y2="632.5" stroke="#000" stroke-width="0.85"/>
<line x1="914" y1="622.5" x2="910.4" y2="622.5" stroke="#000" stroke-width="0.85"/>
<line x1="914" y1="615.5" x2="910.4" y2="615.5" stroke="#000" stroke-width="0.85"/>
<line x1="914" y1="609.5" x2="910.4" y2="609.5" stroke="#000" stroke-width="0.85"/>
<line x1="914" y1="605.5" x2="910.4" y2="605.5" stroke="#000" stroke-width="0.85"/>
<line x1="914" y1="601.5" x2="910.4" y2="601.5" stroke="#000" stroke-width="0.85"/>
<line x1="914" y1="598.5" x2="910.4" y2="598.5" stroke="#000" stroke-width="0.85"/>
<line x1="914" y1="595.5" x2="910.4" y2="595.5" stroke="#000" stroke-width="0.85"/>
<line x1="914" y1="592.5" x2="908.6" y2="592.5" stroke="#000" stroke-width="1.1"/>
<line x1="914" y1="575.5" x2="910.4" y2="575.5" stroke="#000" stroke-width="0.85"/>
<line x1="914" y1="565.5" x2="910.4" y2="565.5" stroke="#000" stroke-width="0.85"/>
<line x1="914" y1="558.5" x2="910.4" y2="558.5" stroke="#000" stroke-width="0.85"/>
<line x1="914" y1="552.5" x2="910.4" y2="552.5" stroke="#000" stroke-width="0.85"/>
<line x1="914" y1="548.5" x2="910.4" y2="548.5" stroke="#000" stroke-width="0.85"/>
<line x1="914" y1="544.5" x2="910.4" y2="544.5" stroke="#000" stroke-width="0.85"/>
<line x1="914" y1="540.5" x2="910.4" y2="540.5" stroke="#000" stroke-width="0.85"/>
<line x1="914" y1="537.5" x2="910.4" y2="537.5" stroke="#000" stroke-width="0.85"/>
<line x1="914" y1="535.5" x2="908.6" y2="535.5" stroke="#000" stroke-width="1.1"/>
<line x1="914" y1="518.5" x2="910.4" y2="518.5" stroke="#000" stroke-width="0.85"/>
<line x1="914" y1="507.5" x2="910.4" y2="507.5" stroke="#000" stroke-width="0.85"/>
<line x1="914" y1="500.5" x2="910.4" y2="500.5" stroke="#000" stroke-width="0.85"/>
<line x1="914" y1="495.5" x2="910.4" y2="495.5" stroke="#000" stroke-width="0.85"/>
<line x1="914" y1="490.5" x2="910.4" y2="490.5" stroke="#000" stroke-width="0.85"/>
<line x1="914" y1="486.5" x2="910.4" y2="486.5" stroke="#000" stroke-width="0.85"/>
<line x1="914" y1="483.5" x2="910.4" y2="483.5" stroke="#000" stroke-width="0.85"/>
<line x1="914" y1="480.5" x2="910.4" y2="480.5" stroke="#000" stroke-width="0.85"/>
<line x1="914" y1="478" x2="908.6" y2="478" stroke="#000" stroke-width="1.1"/>
<path d="M914 478V822" stroke="#000" stroke-width="2" fill="none" stroke-linecap="square"/>
<path d="M200 478H914M200 822H914M200 478V822" stroke="#000" stroke-width="2" fill="none" stroke-linecap="square"/>
<text x="236" y="511.5" font-size="24" text-anchor="start" fill="#000">Geostationary orbit:</text>
<text x="500" y="511.5" font-size="24" text-anchor="start" fill="#f00">Model</text>
<text x="101" y="651" font-size="24" text-anchor="middle" fill="#000" transform="rotate(-90 101 651)">2.0 MeV Electron Flux</text>
<text x="135" y="650" font-size="24" text-anchor="middle" fill="#000" transform="rotate(-90 135 650)" xml:space="preserve">( cm<tspan dy="-9.8" font-size="16.8">−2</tspan><tspan dy="9.8" font-size="24"> s</tspan><tspan dy="-9.8" font-size="16.8">−1</tspan><tspan dy="9.8" font-size="24"> sr</tspan><tspan dy="-9.8" font-size="16.8">−1</tspan><tspan dy="9.8" font-size="24"> KeV</tspan><tspan dy="-9.8" font-size="16.8">−1</tspan><tspan dy="9.8" font-size="24"> )</tspan></text>
<g clip-path="url(#c3)">
<rect x="199.28" y="997.89" width="8.8" height="19.11" fill="#008000"/>
<rect x="243.9" y="1010.63" width="8.8" height="6.37" fill="#008000"/>
<rect x="255.06" y="1010.63" width="8.8" height="6.37" fill="#008000"/>
<rect x="266.21" y="1010.63" width="8.8" height="6.37" fill="#008000"/>
<rect x="277.37" y="1010.63" width="8.8" height="6.37" fill="#008000"/>
<rect x="288.52" y="1010.63" width="8.8" height="6.37" fill="#008000"/>
<rect x="299.68" y="972.41" width="8.8" height="44.59" fill="#008000"/>
<rect x="310.84" y="1004.26" width="8.8" height="12.74" fill="#008000"/>
<rect x="321.99" y="1010.63" width="8.8" height="6.37" fill="#008000"/>
<rect x="333.15" y="1010.63" width="8.8" height="6.37" fill="#008000"/>
<rect x="355.46" y="1010.63" width="8.8" height="6.37" fill="#008000"/>
<rect x="366.62" y="1010.63" width="8.8" height="6.37" fill="#008000"/>
<rect x="377.77" y="991.52" width="8.8" height="25.48" fill="#008000"/>
<rect x="388.93" y="1004.26" width="8.8" height="12.74" fill="#008000"/>
<rect x="422.4" y="1004.26" width="8.8" height="12.74" fill="#008000"/>
<rect x="433.55" y="985.15" width="8.8" height="31.85" fill="#008000"/>
<rect x="444.71" y="997.89" width="8.8" height="19.11" fill="#008000"/>
<rect x="455.86" y="1010.63" width="8.8" height="6.37" fill="#008000"/>
<rect x="467.02" y="1010.63" width="8.8" height="6.37" fill="#008000"/>
<rect x="478.18" y="1004.26" width="8.8" height="12.74" fill="#008000"/>
<rect x="489.33" y="997.89" width="8.8" height="19.11" fill="#008000"/>
<rect x="500.49" y="1010.63" width="8.8" height="6.37" fill="#008000"/>
<rect x="511.64" y="1010.63" width="8.8" height="6.37" fill="#008000"/>
<rect x="533.96" y="1010.63" width="8.8" height="6.37" fill="#008000"/>
<rect x="556.27" y="997.89" width="8.8" height="19.11" fill="#008000"/>
<rect x="567.42" y="991.52" width="8.8" height="25.48" fill="#008000"/>
<rect x="578.58" y="997.89" width="8.8" height="19.11" fill="#008000"/>
<rect x="589.74" y="1010.63" width="8.8" height="6.37" fill="#008000"/>
<rect x="612.05" y="1010.63" width="8.8" height="6.37" fill="#008000"/>
<rect x="623.2" y="997.89" width="8.8" height="19.11" fill="#008000"/>
<rect x="634.36" y="959.67" width="8.8" height="57.33" fill="#bfbf00"/>
<rect x="645.52" y="953.3" width="8.8" height="63.7" fill="#bfbf00"/>
<rect x="656.67" y="953.3" width="8.8" height="63.7" fill="#bfbf00"/>
<rect x="667.83" y="985.15" width="8.8" height="31.85" fill="#008000"/>
<rect x="678.98" y="991.52" width="8.8" height="25.48" fill="#008000"/>
<rect x="701.3" y="991.52" width="8.8" height="25.48" fill="#008000"/>
<rect x="712.45" y="991.52" width="8.8" height="25.48" fill="#008000"/>
<rect x="723.61" y="978.78" width="8.8" height="38.22" fill="#008000"/>
<rect x="734.76" y="978.78" width="8.8" height="38.22" fill="#008000"/>
<rect x="745.92" y="966.04" width="8.8" height="50.96" fill="#008000"/>
<rect x="757.08" y="972.41" width="8.8" height="44.59" fill="#008000"/>
<rect x="768.23" y="985.15" width="8.8" height="31.85" fill="#008000"/>
<rect x="779.39" y="972.41" width="8.8" height="44.59" fill="#008000"/>
<rect x="790.54" y="959.67" width="8.8" height="57.33" fill="#bfbf00"/>
<rect x="801.7" y="953.3" width="8.8" height="63.7" fill="#bfbf00"/>
<rect x="812.86" y="966.04" width="8.8" height="50.96" fill="#008000"/>
<rect x="824.01" y="966.04" width="8.8" height="50.96" fill="#008000"/>
<rect x="835.17" y="966.04" width="8.8" height="50.96" fill="#008000"/>
<rect x="846.32" y="966.04" width="8.8" height="50.96" fill="#008000"/>
<rect x="857.48" y="966.04" width="8.8" height="50.96" fill="#008000"/>
<rect x="868.64" y="966.04" width="8.8" height="50.96" fill="#008000"/>
<rect x="879.79" y="966.04" width="8.8" height="50.96" fill="#008000"/>
<rect x="890.95" y="966.04" width="8.8" height="50.96" fill="#008000"/>
<rect x="902.1" y="966.04" width="8.8" height="50.96" fill="#008000"/>
<text x="875" y="935.4" font-size="30.56" text-anchor="middle" fill="#000" fill-opacity="0.1" transform="rotate(-90 875 935.4)">Forecast</text>
</g>
<line x1="825" y1="845" x2="825" y2="1017" stroke="#1f77b4" stroke-width="2" stroke-dasharray="2.05 3.45"/>
<line x1="248.5" y1="1017" x2="248.5" y2="1011.6" stroke="#000" stroke-width="1.1"/>
<text x="248.4" y="1037.3" font-size="19.44" text-anchor="middle" fill="#000">24</text>
<line x1="337.5" y1="1017" x2="337.5" y2="1011.6" stroke="#000" stroke-width="1.1"/>
<text x="337.65" y="1037.3" font-size="19.44" text-anchor="middle" fill="#000">25</text>
<line x1="426.5" y1="1017" x2="426.5" y2="1011.6" stroke="#000" stroke-width="1.1"/>
<text x="426.9" y="1037.3" font-size="19.44" text-anchor="middle" fill="#000">26</text>
<line x1="516.5" y1="1017" x2="516.5" y2="1011.6" stroke="#000" stroke-width="1.1"/>
<text x="516.15" y="1037.3" font-size="19.44" text-anchor="middle" fill="#000">27</text>
<line x1="605.5" y1="1017" x2="605.5" y2="1011.6" stroke="#000" stroke-width="1.1"/>
<text x="605.4" y="1037.3" font-size="19.44" text-anchor="middle" fill="#000">28</text>
<line x1="694.5" y1="1017" x2="694.5" y2="1011.6" stroke="#000" stroke-width="1.1"/>
<text x="694.65" y="1037.3" font-size="19.44" text-anchor="middle" fill="#000">29</text>
<line x1="783.5" y1="1017" x2="783.5" y2="1011.6" stroke="#000" stroke-width="1.1"/>
<text x="783.9" y="1037.3" font-size="19.44" text-anchor="middle" fill="#000">30</text>
<line x1="873.5" y1="1017" x2="873.5" y2="1011.6" stroke="#000" stroke-width="1.1"/>
<text x="873.15" y="1037.3" font-size="19.44" text-anchor="middle" fill="#000">31</text>
<line x1="200" y1="1017" x2="205.4" y2="1017" stroke="#000" stroke-width="1.1"/>
<text x="195.4" y="1024.5" font-size="19.44" text-anchor="end" fill="#000">0</text>
<line x1="200" y1="978.5" x2="205.4" y2="978.5" stroke="#000" stroke-width="1.1"/>
<text x="195.4" y="986" font-size="19.44" text-anchor="end" fill="#000">2</text>
<line x1="200" y1="940.5" x2="205.4" y2="940.5" stroke="#000" stroke-width="1.1"/>
<text x="195.4" y="948" font-size="19.44" text-anchor="end" fill="#000">4</text>
<line x1="200" y1="902.5" x2="205.4" y2="902.5" stroke="#000" stroke-width="1.1"/>
<text x="195.4" y="910" font-size="19.44" text-anchor="end" fill="#000">6</text>
<line x1="200" y1="864.5" x2="205.4" y2="864.5" stroke="#000" stroke-width="1.1"/>
<text x="195.4" y="872" font-size="19.44" text-anchor="end" fill="#000">8</text>
<line x1="914" y1="1017" x2="908.6" y2="1017" stroke="#000" stroke-width="1.1"/>
<line x1="914" y1="978.5" x2="908.6" y2="978.5" stroke="#000" stroke-width="1.1"/>
<line x1="914" y1="940.5" x2="908.6" y2="940.5" stroke="#000" stroke-width="1.1"/>
<line x1="914" y1="902.5" x2="908.6" y2="902.5" stroke="#000" stroke-width="1.1"/>
<line x1="914" y1="864.5" x2="908.6" y2="864.5" stroke="#000" stroke-width="1.1"/>
<path d="M914 845V1017" stroke="#000" stroke-width="2" fill="none" stroke-linecap="square"/>
<path d="M200 845H914M200 1017H914M200 845V1017" stroke="#000" stroke-width="2" fill="none" stroke-linecap="square"/>
<text x="173" y="935" font-size="24" text-anchor="middle" fill="#000" transform="rotate(-90 173 935)">Kp</text>
<text x="557.3" y="1066" font-size="24" text-anchor="middle" fill="#000">January 2020 (UT)</text>
<rect x="208" y="852.5" width="87.5" height="66.5" rx="2.5" fill="#fff" fill-opacity="0.8" stroke="#ccc" stroke-width="1.1"/>
<rect x="213" y="859" width="28" height="10.9" fill="#008000"/>
<text x="251.8" y="869" font-size="13.6" text-anchor="start" fill="#000">Kp&lt;3</text>
<rect x="213" y="880" width="28" height="10.9" fill="#bfbf00"/>
<text x="251.8" y="890" font-size="13.6" text-anchor="start" fill="#000">Kp&lt;5</text>
<rect x="213" y="901" width="28" height="10.9" fill="#f00"/>
<text x="251.8" y="911" font-size="13.6" text-anchor="start" fill="#000">Kp&gt;5</text>
<line x1="1205" y1="282" x2="1800" y2="282" stroke="#000" stroke-width="2" stroke-dasharray="2.05 3.45"/>
<path d="M1205.5 277.7L1206 277.2L1206.5 277.5L1207 275.5L1207.5 281.6L1208 277.9L1208.5 279.5L1209 277.9L1209.5 287.5L1210 288.3L1210.5 291.7L1211 295.2L1211.5 298.4L1212 299.6L1212.5 299.8L1213 292.6L1213.5 298L1214 301.3L1214.5 300.8L1215 300.2L1215.5 295L1216 301.2L1216.5 297.7L1217 299.3L1217.5 298.1L1218 298.2L1218.5 296.3L1219 293.6L1219.5 292.3L1220 290.3L1220.5 286.5L1221 285.3L1221.5 283L1222 281.1L1222.5 279.1L1223 277.6L1223.5 274.8L1224 274.2L1224.5 277.7L1225 278.3L1225.5 278.1L1226 282.3L1226.5 282.1L1227 284.8L1227.5 281.6L1228 282.6L1228.5 282.9L1229 283.4L1229.5 277.5L1230 278.7L1230.5 279L1231 276.9L1231.5 273.4L1232 276.5L1232.5 273.2L1233 273L1233.5 271.3L1234 273.9L1234.5 275.6L1235 274.8L1235.5 274.4L1236 274.2L1236.5 270.5L1237 275L1237.5 275.6L1238 280.5L1238.5 280.5L1239 279.5L1239.5 286.6L1240 290.2L1240.5 290.7L1241 292.9L1241.5 283.9L1242 278.5L1242.5 271.6L1243 269.5L1243.5 268.8L1244 271.4L1244.5 264.5L1245 273.9L1245.5 271.9L1246 272.1L1246.5 274.5L1247 274.9L1247.5 274.4L1248 276.7L1248.5 277.8L1249 276.6L1249.5 281.5L1250 283.3L1250.5 281.3L1251 287.1L1251.5 285.7L1252 286.9L1252.5 287.2L1253 284L1253.5 288.9L1254 284L1254.5 286.9L1255 284.6L1255.5 284.3L1256 283.9L1256.5 283.1L1257 282.3L1257.5 280.2L1258 277L1258.5 272.4L1259 274.6L1259.5 272.4L1260 272L1260.5 274.1L1261 268L1261.5 264.7L1262 268.9L1262.5 270.7L1263 270.5L1263.5 276.4L1264 279L1264.5 278.4L1265 281L1265.5 283.4L1266 282L1266.5 283.4L1267 280.2L1267.5 278.4L1268 283.3L1268.5 283L1269 284L1269.5 282.5L1270 282L1270.5 281L1271 276.4L1271.5 270.6L1272 272.9L1272.5 271.2L1273 270.4L1273.5 271.7L1274 273L1274.5 273.1L1275 273.7L1275.5 274.6L1276 276.4L1276.5 276.9L1277 275.2L1277.5 272.4L1278 273.9L1278.5 280.3L1279 278.1L1279.5 283.1L1280 282.4L1280.5 283.6L1281 283.9L1281.5 287L1282 287.9L1282.5 283.8L1283 287.5L1283.5 293.5L1284 294.6L1284.5 293.7L1285 297.1L1285.5 297.7L1286 296.4L1286.5 295.5L1287 292.5L1287.5 294.5L1288 297.4L1288.5 300.2L1289 302.9L1289.5 303.2L1290 305.5L1290.5 308L1291 304.6L1291.5 308.4L1292 310L1292.5 301.1L1293 307.6L1293.5 297.1L1294 295.9L1294.5 300.8L1295 289.1L1295.5 286.3L1296 280.1L1296.5 273.2L1297 273.7L1297.5 260.5L1298 263.2L1298.5 262.6L1299 259.4L1299.5 254.5L1300 255.8L1300.5 261.5L1301 262.1L1301.5 269.2L1302 272L1302.5 273.8L1303 280.4L1303.5 283L1304 279.2L1304.5 275.2L1305 266.6L1305.5 266.7L1306 261.9L1306.5 260.3L1307 258.9L1307.5 256.3L1308 252.3L1308.5 253.7L1309 250.6L1309.5 248.3L1310 252.8L1310.5 252.7L1311 255.5L1311.5 256L1312 262L1312.5 265L1313 271.4L1313.5 277.1L1314 270.2L1314.5 275.7L1315 278.1L1315.5 275.9L1316 278.4L1316.5 276.8L1317 278.2L1317.5 280.9L1318 278.7L1318.5 285.7L1319 289.7L1319.5 291.3L1320 289.4L1320.5 279.1L1321 277.5L1321.5 283L1322 277.5L1322.5 273.5L1323 272.2L1323.5 266.6L1324 264L1324.5 260.8L1325 261.7L1325.5 257.6L1326 246.6L1326.5 250.7L1327 257.7L1327.5 263.8L1328 267.7L1328.5 273.9L1329 269.7L1329.5 274.5L1330 268.9L1330.5 263.9L1331 259.7L1331.5 261.8L1332 269.2L1332.5 271.9L1333 271.9L1333.5 279.3L1334 286.4L1334.5 270.1L1335 269.3L1335.5 264.9L1336 258.4L1336.5 256.9L1337 255.8L1337.5 253.8L1338 251.6L1338.5 248L1339 248.2L1339.5 248.1L1340 242.6L1340.5 235.6L1341 246.4L1341.5 251.4L1342 252.4L1342.5 255.1L1343 255L1343.5 259.4L1344 261.9L1344.5 267L1345 270.5L1345.5 274L1346 269L1346.5 271.8L1347 270.6L1347.5 269.4L1348 267.5L1348.5 270.1L1349 264.9L1349.5 270.2L1350 275.5L1350.5 274.4L1351 281.8L1351.5 283.2L1352 283L1352.5 290.2L1353 295.7L1353.5 302L1354 292.1L1354.5 284.9L1355 284.6L1355.5 288.1L1356 287.4L1356.5 290.8L1357 292.4L1357.5 290.4L1358 295.3L1358.5 288.8L1359 290.9L1359.5 286.6L1360 284.1L1360.5 281.9L1361 282.3L1361.5 275.5L1362 278.8L1362.5 275L1363 276.4L1363.5 279.9L1364 275L1364.5 278.4L1365 288.4L1365.5 286.1L1366 281.6L1366.5 282L1367 279.1L1367.5 275.9L1368 271.8L1368.5 266.2L1369 264.9L1369.5 267.5L1370 269.4L1370.5 270.2L1371 269.2L1371.5 270.6L1372 272.7L1372.5 267.9L1373 266.1L1373.5 267.2L1374 267.5L1374.5 267.4L1375 257.2L1375.5 266.5L1376 270.1L1376.5 274.3L1377 275.9L1377.5 275.6L1378 279.7L1378.5 278.1L1379 279.2L1379.5 277.8L1380 277L1380.5 279.8L1381 280.7L1381.5 285L1382 286.1L1382.5 288.7L1383 287.5L1383.5 287.7L1384 281.7L1384.5 284L1385 279.8L1385.5 277.3L1386 276.1L1386.5 279.1L1387 282.6L1387.5 281.7L1388 284.5L1388.5 279.9L1389 288.2L1389.5 289.6L1390 289.3L1390.5 288.1L1391 295.8L1391.5 290.4L1392 292.5L1392.5 290L1393 297.4L1393.5 302.5L1394 304.7L1394.5 307.7L1395 300.1L1395.5 301.1L1396 296.3L1396.5 292.4L1397 297.6L1397.5 296.2L1398 302L1398.5 302.5L1399 309.9L1399.5 303.5L1400 287.1L1400.5 287.7L1401 281.3L1401.5 287.3L1402 286.9L1402.5 295.9L1403 295L1403.5 305.2L1404 297.7L1404.5 291.9L1405 282L1405.5 272.6L1406 271.3L1406.5 273.2L1407 277.5L1407.5 280.9L1408 282L1408.5 281.8L1409 285.8L1409.5 278.8L1410 275.9L1410.5 272.5L1411 268.5L1411.5 261.7L1412 258L1412.5 254.9L1413 261.5L1413.5 264.9L1414 267.2L1414.5 275.4L1415 278.6L1415.5 277.8L1416 281.6L1416.5 274.5L1417 266.4L1417.5 271.7L1418 269.6L1418.5 269.8L1419 272.8L1419.5 268.7L1420 265L1420.5 273.9L1421 274.5L1421.5 273.5L1422 272.7L1422.5 273.5L1423 263.8L1423.5 263.3L1424 274.6L1424.5 275.8L1425 274L1425.5 280.7L1426 275L1426.5 265.1L1427 280.7L1427.5 274.2L1428 266.5L1428.5 272.1L1429 270.4L1429.5 273.5L1430 254.7L1430.5 280.7L1431 281.4L1431.5 279.5L1432 278.7L1432.5 281.3L1433 276.7L1433.5 274.1L1434 271.7L1434.5 280.5L1435 279.4L1435.5 272L1436 274.3L1436.5 272.6L1437 278L1437.5 274.1L1438 274.7L1438.5 280.8L1439 284.8L1439.5 285.5L1440 287.6L1440.5 296.7L1441 300.9L1441.5 299.6L1442 293.9L1442.5 288L1443 281.4L1443.5 295.3L1444 291.9L1444.5 294.4L1445 288.9L1445.5 289L1446 271.8L1446.5 281.3L1447 272.6L1447.5 271.3L1448 253.8L1448.5 263.2L1449 262.6L1449.5 261.9L1450 265.9L1450.5 262.5L1451 252L1451.5 267.3L1452 265.5L1452.5 262.7L1453 261.6L1453.5 262.5L1454 258.9L1454.5 262.7L1455 269.3L1455.5 271.5L1456 266L1456.5 271.8L1457 267.1L1457.5 266.7L1458 270.1L1458.5 275L1459 278.6L1459.5 278.9L1460 286.8L1460.5 283.9L1461 279.1L1461.5 275.2L1462 276.3L1462.5 274.4L1463 271.2L1463.5 270.2L1464 278.4L1464.5 284.3L1465 288.6L1465.5 293.2L1466 280.7L1466.5 276.9L1467 275.3L1467.5 268.6L1468 275.9L1468.5 276.7L1469 272.5L1469.5 279.9L1470 278L1470.5 283.9L1471 287.1L1471.5 284.6L1472 292L1472.5 275.4L1473 260.9L1473.5 267.2L1474 254.8L1474.5 263.1L1475 271.3L1475.5 267.1L1476 267.1L1476.5 270L1477 272.1L1477.5 271.9L1478 272.2L1478.5 270.9L1479 260.3L1479.5 270.3L1480 273.7L1480.5 273.4L1481 273.6L1481.5 269L1482 272.5L1482.5 268.5L1483 268.7L1483.5 264.9L1484 267.2L1484.5 257.7L1485 267.5L1485.5 268L1486 269.1L1486.5 267.4L1487 264L1487.5 267L1488 266.2L1488.5 263.2L1489 260.3L1489.5 262.2L1490 262.1L1490.5 266.7L1491 266.7L1491.5 265.5L1492 270.2L1492.5 271.2L1493 277.2L1493.5 276L1494 279.5L1494.5 280L1495 279.6L1495.5 282.3L1496 279.3L1496.5 278.4L1497 284L1497.5 286.9L1498 290.8L1498.5 288.1L1499 296L1499.5 296.2L1500 284.8L1500.5 286.8L1501 284.9L1501.5 279.7L1502 274.1L1502.5 264.3L1503 270.6L1503.5 281L1504 284.5L1504.5 289.1L1505 291.6L1505.5 288L1506 289.9L1506.5 292.5L1507 290.3L1507.5 295.1L1508 289.2L1508.5 297.1L1509 297.5L1509.5 302.2L1510 301.1L1510.5 291L1511 298.6L1511.5 304.7L1512 308.7L1512.5 307.8L1513 303.8L1513.5 302.7L1514 303.7L1514.5 301.7L1515 305.4L1515.5 304.8L1516 309.5L1516.5 311.3L1517 291.5L1517.5 311.4L1518 306.7L1518.5 305.6L1519 310.1L1519.5 311.4L1520 303.6L1520.5 309L1521 300.5L1521.5 302.9L1522 305.8L1522.5 292.6L1523 302.1L1523.5 295L1524 294.5L1524.5 295.4L1525 286.3L1525.5 275.9L1526 270.7L1526.5 278.8L1527 278.1L1527.5 279.2L1528 278.9L1528.5 270.2L1529 275.8L1529.5 269.4L1530 262.4L1530.5 262.3L1531 264.7L1531.5 265.4L1532 263.2L1532.5 259.4L1533 263.2L1533.5 261.2L1534 261.5L1534.5 261.8L1535 256.7L1535.5 259.4L1536 256.4L1536.5 253.3L1537 253.2L1537.5 251.6L1538 251.7L1538.5 253.8L1539 253.5L1539.5 244.7L1540 250.7L1540.5 251.6L1541 245L1541.5 249.8L1542 253.7L1542.5 248.4L1543 256L1543.5 252.2L1544 252.9L1544.5 262.2L1545 267.9L1545.5 267.2L1546 282.7L1546.5 287.9L1547 295.4L1547.5 289.8L1548 293.7L1548.5 292.6L1549 294.1L1549.5 289.8L1550 293L1550.5 293.9L1551 292.5L1551.5 295.6L1552 293.2L1552.5 294.1L1553 291.8L1553.5 292.3L1554 288.6L1554.5 286.8L1555 287L1555.5 286.4L1556 284.6L1556.5 278.5L1557 274L1557.5 278L1558 265.4L1558.5 262.2L1559 267.3L1559.5 260.6L1560 260.3L1560.5 259.3L1561 263.4L1561.5 258.1L1562 275.1L1562.5 279.1L1563 299.4L1563.5 297.6L1564 298.5L1564.5 283.1L1565 283.4L1565.5 269.8L1566 259.4L1566.5 240.1L1567 239.2L1567.5 239.8L1568 249L1568.5 251.3L1569 259.8L1569.5 281L1570 300.9L1570.5 329.7L1571 345.7L1571.5 344.5L1572 345.4L1572.5 342.4L1573 331.9L1573.5 338.4L1574 336.7L1574.5 333.9L1575 323L1575.5 317.7L1576 304.7L1576.5 296.9L1577 281.5L1577.5 267.5L1578 261.8L1578.5 267.6L1579 288.9L1579.5 299.7L1580 323.7L1580.5 328.3L1581 326.4L1581.5 333L1582 330.5L1582.5 336L1583 330.3L1583.5 337.2L1584 324.7L1584.5 334.7L1585 341.6L1585.5 344.8L1586 322.9L1586.5 296.6L1587 276.2L1587.5 253.9L1588 233.2L1588.5 233.9L1589 249.2L1589.5 257.6L1590 274.5L1590.5 268.9L1591 271.1L1591.5 272.9L1592 272L1592.5 264.8L1593 272.9L1593.5 279.5L1594 292.7L1594.5 299.7L1595 294.9L1595.5 282.5L1596 270.3L1596.5 251.5L1597 252.9L1597.5 257.4L1598 254.9L1598.5 253.4L1599 278.5L1599.5 293.4L1600 306.6L1600.5 299.1L1601 301L1601.5 294.5L1602 288.1L1602.5 285.8L1603 267.1L1603.5 263.5L1604 266.3L1604.5 261.9L1605 261.4L1605.5 269L1606 258.4L1606.5 269.2L1607 278.4L1607.5 281.2L1608 265L1608.5 259.6L1609 272.4L1609.5 272.6L1610 269.9L1610.5 264.8L1611 267.1L1611.5 263.2L1612 262.1L1612.5 261.4L1613 273L1613.5 278.8L1614 282.1L1614.5 289.4L1615 293.3L1615.5 298.3L1616 294.2L1616.5 286.4L1617 274.5L1617.5 282.6L1618 276L1618.5 275.8L1619 273.5L1619.5 261.9L1620 280.3L1620.5 278L1621 286.7L1621.5 284.3L1622 291.9L1622.5 284.4L1623 272.7L1623.5 281.8L1624 282.1L1624.5 279.8L1625 276.2L1625.5 265.9L1626 270.6L1626.5 269.7L1627 281.2L1627.5 288.4L1628 296L1628.5 292.4L1629 280.6L1629.5 276L1630 267.1L1630.5 254.9L1631 248.9L1631.5 246.6L1632 262.3L1632.5 273.9L1633 286.7L1633.5 295.6L1634 296.8L1634.5 289.9L1635 281.3L1635.5 275.9L1636 264.3L1636.5 264.2L1637 271.4L1637.5 279.2L1638 286.6L1638.5 293.3L1639 302.1L1639.5 293.6L1640 280.9L1640.5 272.6L1641 264.7L1641.5 267.6L1642 270.8L1642.5 272.8L1643 272L1643.5 271.4L1644 276.9L1644.5 270L1645 282.2L1645.5 277.6L1646 271.7L1646.5 262.3L1647 267.8L1647.5 260.9L1648 243.4L1648.5 251.4L1649 253.8L1649.5 278.9L1650 284.4L1650.5 290.3L1651 299.5L1651.5 274.8L1652 284.3L1652.5 270.8L1653 250.1L1653.5 256.3L1654 240.6L1654.5 247.3L1655 264.4L1655.5 271.5L1656 270.2L1656.5 282.7L1657 271.3L1657.5 294.7L1658 277.3L1658.5 281L1659 270.6L1659.5 260.7L1660 246.4L1660.5 261.7L1661 268.8L1661.5 278.2L1662 286.4L1662.5 259L1663 307.8L1663.5 311.9L1664 317.6L1664.5 300.7L1665 324.2L1665.5 316.8L1666 316.2L1666.5 295.8L1667 306.5L1667.5 288.4L1668 292.7L1668.5 291.9L1669 304.4L1669.5 301.7L1670 305.9L1670.5 304.3L1671 298.2L1671.5 304.2L1672 299.3L1672.5 304L1673 291.3L1673.5 296L1674 286L1674.5 285.4L1675 278.3L1675.5 270.4L1676 274.7L1676.5 268.2L1677 264.2L1677.5 266L1678 264.4L1678.5 262.9L1679 278.4L1679.5 289.1L1680 302.8L1680.5 296L1681 281.1L1681.5 278.5L1682 272.4L1682.5 265.4L1683 256.5L1683.5 268.6L1684 280.6L1684.5 292L1685 295.3L1685.5 325.9L1686 312.7L1686.5 308.4L1687 302L1687.5 284.6L1688 283.9L1688.5 283.4L1689 267.8L1689.5 275.6L1690 262L1690.5 268.4L1691 262.6L1691.5 250.1L1692 258.1L1692.5 252.5L1693 253.3L1693.5 257.5L1694 258.6L1694.5 266.3L1695 261.6L1695.5 273.1L1696 273.5L1696.5 266.1L1697 298.7L1697.5 312.3L1698 321.1L1698.5 321.3L1699 315.4L1699.5 305.1L1700 300.3L1700.5 290.9L1701 285.1L1701.5 294.1L1702 298.9L1702.5 310.3L1703 319.3L1703.5 326.4L1704 333.6L1704.5 339.5L1705 302.1L1705.5 262.9L1706 268.9L1706.5 284.8L1707 293.7L1707.5 302.5L1708 311.8L1708.5 300L1709 283.2L1709.5 269L1710 253.5L1710.5 233.1L1711 234.1L1711.5 247.2L1712 250.1L1712.5 267L1713 275.2L1713.5 286L1714 290.2L1714.5 298.5L1715 299.2L1715.5 314.1L1716 319.8L1716.5 320.3L1717 320.7L1717.5 323.8L1718 332.4L1718.5 321.7L1719 294.9L1719.5 267.2L1720 271.6L1720.5 274.5L1721 288.9L1721.5 298.2L1722 300.5L1722.5 285.1L1723 285.5L1723.5 286.8L1724 303.2L1724.5 311.5L1725 317.6L1725.5 327.6L1726 323.7L1726.5 323.7L1726.5 326L1726 333.5L1725.5 329.4L1725 321.7L1724.5 319.1L1724 308.1L1723.5 298.2L1723 290.2L1722.5 288.7L1722 305.9L1721.5 300.2L1721 292.8L1720.5 279.6L1720 279.1L1719.5 280.8L1719 303.7L1718.5 324.3L1718 337.9L1717.5 335.9L1717 330.1L1716.5 326.7L1716 327.3L1715.5 319.4L1715 308.8L1714.5 308.6L1714 306.9L1713.5 293.7L1713 277.2L1712.5 271.6L1712 263L1711.5 256.9L1711 248.8L1710.5 236.6L1710 255.4L1709.5 277.6L1709 290.3L1708.5 305.1L1708 318.3L1707.5 314.8L1707 294.6L1706.5 286.1L1706 274.1L1705.5 278L1705 303.4L1704.5 344.1L1704 338.3L1703.5 332.6L1703 321.1L1702.5 313.4L1702 308.9L1701.5 295.2L1701 288.2L1700.5 294.1L1700 303.4L1699.5 314.1L1699 321.5L1698.5 329.7L1698 329.2L1697.5 315.3L1697 299.7L1696.5 291.9L1696 281.3L1695.5 280.8L1695 275.8L1694.5 268.1L1694 268.3L1693.5 261.2L1693 256.4L1692.5 267.6L1692 264.4L1691.5 266.2L1691 269.4L1690.5 270.5L1690 273.8L1689.5 276.7L1689 280.2L1688.5 289.2L1688 294.4L1687.5 305.9L1687 305.7L1686.5 311.6L1686 319.4L1685.5 338L1685 317.8L1684.5 299.2L1684 284.8L1683.5 271.6L1683 258.7L1682.5 268.5L1682 277.2L1681.5 282.2L1681 294.4L1680.5 298.7L1680 304.6L1679.5 291.5L1679 281.8L1678.5 277.8L1678 264.5L1677.5 267.2L1677 275.1L1676.5 271.9L1676 278.6L1675.5 277.7L1675 282.9L1674.5 291.6L1674 292.3L1673.5 298.7L1673 309.3L1672.5 309.6L1672 307.2L1671.5 309L1671 320.5L1670.5 312.5L1670 311.8L1669.5 305.2L1669 310.9L1668.5 307.1L1668 305L1667.5 312.9L1667 313L1666.5 318.2L1666 323.9L1665.5 326.2L1665 329.3L1664.5 324L1664 321.4L1663.5 314.8L1663 329.3L1662.5 324.5L1662 295.2L1661.5 288.3L1661 286.1L1660.5 275.7L1660 257.1L1659.5 300.9L1659 273.8L1658.5 282.1L1658 292.4L1657.5 298.9L1657 297.1L1656.5 301.9L1656 303.3L1655.5 274.8L1655 275.5L1654.5 266.4L1654 263.9L1653.5 269.1L1653 271.8L1652.5 296.2L1652 289.2L1651.5 292.3L1651 302L1650.5 304.7L1650 290.4L1649.5 300.5L1649 276.9L1648.5 267.2L1648 263.3L1647.5 286L1647 287.7L1646.5 272L1646 280.6L1645.5 284.3L1645 287L1644.5 288.5L1644 283.4L1643.5 285.2L1643 286.7L1642.5 275.3L1642 273.2L1641.5 278.7L1641 266.9L1640.5 278.9L1640 288.8L1639.5 298.9L1639 309.1L1638.5 307.2L1638 291.8L1637.5 283.4L1637 275.2L1636.5 265.6L1636 269.7L1635.5 279.4L1635 286.5L1634.5 290.9L1634 301.5L1633.5 307.1L1633 292.7L1632.5 276.8L1632 266.5L1631.5 259.6L1631 259.6L1630.5 260.4L1630 269.1L1629.5 277.1L1629 285.6L1628.5 295.2L1628 298L1627.5 293.2L1627 283.4L1626.5 279L1626 274.7L1625.5 282.2L1625 279.4L1624.5 284.9L1624 290.6L1623.5 293.6L1623 291.8L1622.5 297.9L1622 301.2L1621.5 301.7L1621 292.6L1620.5 285L1620 286.3L1619.5 275.7L1619 280.2L1618.5 284.3L1618 292.1L1617.5 285.4L1617 293.6L1616.5 300L1616 297.2L1615.5 300.5L1615 296.4L1614.5 297.9L1614 287.4L1613.5 280.7L1613 274.1L1612.5 268.8L1612 265.6L1611.5 266.5L1611 268.8L1610.5 270.5L1610 271.7L1609.5 280.4L1609 283.3L1608.5 278.8L1608 283.8L1607.5 292.7L1607 292.5L1606.5 285.2L1606 281.8L1605.5 271.5L1605 268.4L1604.5 271L1604 274.3L1603.5 280.2L1603 289.1L1602.5 287L1602 290.8L1601.5 301.6L1601 301.6L1600.5 318.9L1600 316.5L1599.5 298.6L1599 283.2L1598.5 273L1598 262.7L1597.5 257.9L1597 259.5L1596.5 260L1596 279.9L1595.5 290.8L1595 299.4L1594.5 309.9L1594 299L1593.5 293.1L1593 289.9L1592.5 273.6L1592 274.8L1591.5 274.6L1591 286.3L1590.5 281.4L1590 280.7L1589.5 264.9L1589 252.5L1588.5 237.8L1588 236.5L1587.5 263.8L1587 298.5L1586.5 309L1586 336.6L1585.5 357.6L1585 358.9L1584.5 343.1L1584 362.3L1583.5 337.9L1583 341.4L1582.5 344.1L1582 337.9L1581.5 333.8L1581 337L1580.5 329.6L1580 331.9L1579.5 312.1L1579 290.6L1578.5 272.5L1578 265.9L1577.5 274.3L1577 288.2L1576.5 300.1L1576 309.8L1575.5 319L1575 333.2L1574.5 339.5L1574 341L1573.5 343.6L1573 346.7L1572.5 345.7L1572 346.3L1571.5 349.2L1571 351.4L1570.5 332.4L1570 316.5L1569.5 281.7L1569 260.8L1568.5 254.5L1568 251.9L1567.5 252.7L1567 240L1566.5 249L1566 260.8L1565.5 271.8L1565 288.5L1564.5 295L1564 323.5L1563.5 325.6L1563 302.9L1562.5 289.9L1562 280.4L1561.5 272.3L1561 269.7L1560.5 263.7L1560 268.2L1559.5 266.4L1559 269.1L1558.5 276L1558 282.8L1557.5 287.5L1557 283L1556.5 286.8L1556 287.4L1555.5 298.2L1555 292.9L1554.5 302.8L1554 292.2L1553.5 295L1553 295.5L1552.5 294.3L1552 294.4L1551.5 297.6L1551 295.8L1550.5 298.6L1550 296.1L1549.5 298.8L1549 296.6L1548.5 300.7L1548 296.8L1547.5 304L1547 301.6L1546.5 292.3L1546 287.9L1545.5 278.8L1545 271.4L1544.5 267.7L1544 262.8L1543.5 260.4L1543 257.5L1542.5 255.2L1542 257.6L1541.5 252.5L1541 258.3L1540.5 256.7L1540 259.2L1539.5 255.8L1539 261L1538.5 255.6L1538 256.7L1537.5 257.2L1537 256.7L1536.5 256.8L1536 259.5L1535.5 263.6L1535 263.1L1534.5 267.6L1534 275.9L1533.5 271.4L1533 264.5L1532.5 273.5L1532 272.4L1531.5 271.3L1531 273.6L1530.5 269.8L1530 278.8L1529.5 277.7L1529 283L1528.5 278.5L1528 286.9L1527.5 284.7L1527 279.9L1526.5 283.9L1526 285.5L1525.5 284.5L1525 289L1524.5 298.1L1524 302.1L1523.5 302.9L1523 311.1L1522.5 304.8L1522 308.2L1521.5 317.2L1521 310.4L1520.5 323.5L1520 312.5L1519.5 330L1519 318.9L1518.5 318.7L1518 318.9L1517.5 315L1517 322.2L1516.5 334.8L1516 314.6L1515.5 310.8L1515 308.4L1514.5 310.3L1514 323L1513.5 307L1513 306.1L1512.5 314.2L1512 312.3L1511.5 314.3L1511 308.8L1510.5 321.6L1510 309.9L1509.5 305.5L1509 309.6L1508.5 304.3L1508 324.5L1507.5 298.3L1507 308L1506.5 319.2L1506 295L1505.5 300L1505 294.4L1504.5 300.8L1504 294.3L1503.5 281.5L1503 275L1502.5 278.9L1502 278.7L1501.5 289L1501 288.8L1500.5 289.7L1500 302.2L1499.5 298.8L1499 299.8L1498.5 294.5L1498 297L1497.5 290.3L1497 289.2L1496.5 298L1496 288.4L1495.5 284.7L1495 283.2L1494.5 281.7L1494 281.2L1493.5 282L1493 282L1492.5 275.6L1492 277.6L1491.5 273.7L1491 279.4L1490.5 272L1490 270.2L1489.5 266L1489 266.5L1488.5 269.9L1488 270.5L1487.5 267.6L1487 267.6L1486.5 271.6L1486 270.4L1485.5 269.9L1485 274.2L1484.5 272.5L1484 271.2L1483.5 271.7L1483 271.3L1482.5 274.8L1482 277.9L1481.5 273.1L1481 274.1L1480.5 275.7L1480 276.1L1479.5 278.8L1479 278.2L1478.5 275.3L1478 272.9L1477.5 272.9L1477 277.2L1476.5 274.9L1476 273.1L1475.5 280.5L1475 272.7L1474.5 273.1L1474 273.7L1473.5 269.2L1473 272.2L1472.5 287.4L1472 302L1471.5 298L1471 291L1470.5 284.7L1470 281.6L1469.5 286.2L1469 279.1L1468.5 279.3L1468 281.5L1467.5 274.9L1467 280.8L1466.5 282.9L1466 304.6L1465.5 298.1L1465 291.1L1464.5 287.2L1464 283.6L1463.5 284.8L1463 287.9L1462.5 276.5L1462 278.1L1461.5 286.8L1461 286.8L1460.5 289.1L1460 291.7L1459.5 283.5L1459 279.1L1458.5 278.6L1458 276.7L1457.5 271.8L1457 269.9L1456.5 277.4L1456 274.1L1455.5 273.7L1455 272.7L1454.5 269.7L1454 267.1L1453.5 265.8L1453 264.6L1452.5 266.4L1452 268.3L1451.5 274.4L1451 274.8L1450.5 281.3L1450 275.1L1449.5 266.8L1449 264.9L1448.5 273.6L1448 290.7L1447.5 276.1L1447 282.6L1446.5 285.1L1446 293.4L1445.5 293L1445 295.9L1444.5 295.5L1444 297.9L1443.5 298.7L1443 304.8L1442.5 299.6L1442 307.7L1441.5 312.5L1441 302.4L1440.5 302.1L1440 299.1L1439.5 292.1L1439 290.4L1438.5 281.9L1438 276.2L1437.5 278.9L1437 279.5L1436.5 282.2L1436 283.8L1435.5 281.3L1435 281.7L1434.5 283.4L1434 291.7L1433.5 285.3L1433 282.4L1432.5 290.9L1432 290.4L1431.5 292.1L1431 284.5L1430.5 288.4L1430 285.3L1429.5 291.2L1429 291.5L1428.5 287.1L1428 284.4L1427.5 303.2L1427 284.7L1426.5 293.7L1426 285.9L1425.5 288.5L1425 283L1424.5 280L1424 291.7L1423.5 279.2L1423 287.8L1422.5 282.7L1422 277L1421.5 276L1421 282.4L1420.5 278.5L1420 275.9L1419.5 278.8L1419 276.1L1418.5 277.1L1418 273.1L1417.5 273.6L1417 276.2L1416.5 278.7L1416 285.3L1415.5 286.3L1415 290.1L1414.5 276.6L1414 274.7L1413.5 272.8L1413 264.1L1412.5 260.7L1412 261.8L1411.5 266.6L1411 271.4L1410.5 272.7L1410 281.3L1409.5 291.7L1409 289.9L1408.5 285.9L1408 285.1L1407.5 281.7L1407 280L1406.5 281.2L1406 277.3L1405.5 276.3L1405 284.9L1404.5 294.1L1404 300.5L1403.5 305.5L1403 300.8L1402.5 303.8L1402 292.8L1401.5 287.9L1401 284.2L1400.5 291.5L1400 300.6L1399.5 308.7L1399 311.5L1398.5 308.8L1398 306.6L1397.5 303.8L1397 297.9L1396.5 294.6L1396 298.8L1395.5 303L1395 306.4L1394.5 309.1L1394 313L1393.5 304.4L1393 303.7L1392.5 300.1L1392 297.7L1391.5 297.2L1391 299.3L1390.5 295.8L1390 296.7L1389.5 291.2L1389 294.2L1388.5 288.6L1388 287.9L1387.5 286L1387 286.5L1386.5 286.6L1386 285.5L1385.5 279.2L1385 286.8L1384.5 287.2L1384 295.7L1383.5 294L1383 291.1L1382.5 293.8L1382 288.9L1381.5 288.8L1381 292.4L1380.5 297.9L1380 284.6L1379.5 278.6L1379 285.2L1378.5 281L1378 282.2L1377.5 288.7L1377 280.8L1376.5 276.1L1376 273.3L1375.5 270.5L1375 271.3L1374.5 271.7L1374 271L1373.5 270.4L1373 274.5L1372.5 278.8L1372 289.2L1371.5 271.7L1371 271.1L1370.5 272.7L1370 271L1369.5 270.7L1369 271.7L1368.5 275.4L1368 278.1L1367.5 278.5L1367 281.3L1366.5 287.5L1366 287.4L1365.5 291.8L1365 297L1364.5 293.5L1364 288.2L1363.5 284.6L1363 283L1362.5 283.8L1362 278.9L1361.5 282.8L1361 284.5L1360.5 285.4L1360 287.4L1359.5 288.8L1359 293.2L1358.5 299.5L1358 296L1357.5 297.9L1357 292.7L1356.5 292.7L1356 290.2L1355.5 293.3L1355 287.7L1354.5 291.3L1354 302.8L1353.5 303.3L1353 298.7L1352.5 295.4L1352 292.5L1351.5 288.1L1351 282.4L1350.5 282L1350 277.2L1349.5 277.5L1349 269.6L1348.5 271.2L1348 271.8L1347.5 271.3L1347 271.2L1346.5 274.2L1346 273.7L1345.5 274.8L1345 273.7L1344.5 270.5L1344 265.5L1343.5 260.6L1343 259.5L1342.5 261.7L1342 256.9L1341.5 255L1341 256.5L1340.5 251L1340 248.4L1339.5 250.3L1339 255.1L1338.5 252L1338 253.3L1337.5 259.6L1337 258.6L1336.5 256.9L1336 266L1335.5 266L1335 274.1L1334.5 286.6L1334 291.1L1333.5 293.2L1333 286.3L1332.5 279.8L1332 282.1L1331.5 267.8L1331 261.4L1330.5 266.8L1330 273L1329.5 282.8L1329 284.3L1328.5 285.3L1328 268.8L1327.5 269.9L1327 261.1L1326.5 254.8L1326 259.9L1325.5 258.5L1325 265.3L1324.5 269L1324 271.1L1323.5 288.7L1323 276.5L1322.5 282.5L1322 284.9L1321.5 285.5L1321 288.8L1320.5 293.2L1320 297.5L1319.5 293.9L1319 302.2L1318.5 291.5L1318 291.1L1317.5 297.7L1317 291.1L1316.5 279L1316 282.4L1315.5 286.2L1315 279.1L1314.5 280.9L1314 279.5L1313.5 281.5L1313 273.9L1312.5 268.8L1312 265.8L1311.5 261.1L1311 256.5L1310.5 255.8L1310 261.1L1309.5 255.1L1309 253.8L1308.5 255.5L1308 257.6L1307.5 262.6L1307 264.5L1306.5 261.5L1306 266.7L1305.5 272.4L1305 275.8L1304.5 279.9L1304 289.3L1303.5 286.2L1303 282L1302.5 281.6L1302 276L1301.5 271.5L1301 266.6L1300.5 263.9L1300 257.9L1299.5 259.7L1299 261L1298.5 271.8L1298 269.8L1297.5 275.1L1297 274.3L1296.5 283.9L1296 283.9L1295.5 294.7L1295 293.5L1294.5 303.1L1294 304.9L1293.5 309.6L1293 308.9L1292.5 309.4L1292 312L1291.5 318.2L1291 316.2L1290.5 314.1L1290 313.9L1289.5 308L1289 314.6L1288.5 304L1288 299.5L1287.5 298L1287 296.9L1286.5 295.7L1286 299.7L1285.5 300.1L1285 298.1L1284.5 294.9L1284 297L1283.5 298L1283 294.5L1282.5 294.2L1282 293.9L1281.5 291L1281 287.2L1280.5 285.9L1280 283.9L1279.5 287.1L1279 282.6L1278.5 282L1278 280.3L1277.5 277.3L1277 280.6L1276.5 281.7L1276 284.9L1275.5 277.7L1275 280.5L1274.5 285.7L1274 274L1273.5 280.4L1273 279.6L1272.5 272.6L1272 284.5L1271.5 284.1L1271 280.4L1270.5 286.5L1270 284.3L1269.5 284.4L1269 285L1268.5 287.3L1268 289.2L1267.5 287.9L1267 289L1266.5 286.7L1266 286.9L1265.5 290.4L1265 284L1264.5 282L1264 287.5L1263.5 279.6L1263 276.3L1262.5 277.4L1262 274.8L1261.5 273.2L1261 273.6L1260.5 276L1260 285.4L1259.5 276.2L1259 278.2L1258.5 283.1L1258 280.7L1257.5 282.2L1257 284.9L1256.5 287.1L1256 285.6L1255.5 289.5L1255 291.2L1254.5 290.2L1254 291.2L1253.5 293.2L1253 288.9L1252.5 290.1L1252 289.5L1251.5 290L1251 291.3L1250.5 288.5L1250 286.4L1249.5 283.7L1249 281.3L1248.5 281L1248 277L1247.5 275.5L1247 277L1246.5 275.3L1246 275.7L1245.5 274.4L1245 274.8L1244.5 273.5L1244 274.5L1243.5 272.6L1243 274.7L1242.5 273.4L1242 282.1L1241.5 286.1L1241 293.8L1240.5 295.3L1240 290.9L1239.5 287.9L1239 289.6L1238.5 283.2L1238 283.4L1237.5 279L1237 277.7L1236.5 281.1L1236 276.9L1235.5 278.5L1235 277L1234.5 278.4L1234 280.4L1233.5 281.9L1233 275.6L1232.5 285.2L1232 280.3L1231.5 282.8L1231 281.6L1230.5 282.8L1230 283L1229.5 285.6L1229 286.3L1228.5 284L1228 285.3L1227.5 289.7L1227 289.7L1226.5 283.7L1226 283.5L1225.5 282.2L1225 282.4L1224.5 278.9L1224 277.7L1223.5 277.8L1223 282.1L1222.5 284.6L1222 288.9L1221.5 284.9L1221 286.6L1220.5 288.7L1220 296.4L1219.5 297.2L1219 295L1218.5 298.4L1218 299.5L1217.5 302.3L1217 300.9L1216.5 302.3L1216 301.7L1215.5 306.5L1215 310.1L1214.5 302.7L1214 301.7L1213.5 305.1L1213 306.6L1212.5 308.7L1212 306.7L1211.5 306.1L1211 303.5L1210.5 298.7L1210 292.5L1209.5 291.1L1209 286.7L1208.5 286L1208 286L1207.5 281.6L1207 282L1206.5 279.7L1206 279.9L1205.5 277.7Z" fill="#000" stroke="#000" stroke-width="2.3" stroke-linejoin="round" clip-path="url(#r1)"/>
<path d="M1205.5 342.7L1206 341.3L1206.5 342L1207 343.4L1207.5 340.9L1208 344L1208.5 341.8L1209 341.8L1209.5 342.6L1210 343.2L1210.5 342.6L1211 342.9L1211.5 341.8L1212 341.7L1212.5 340.1L1213 342.4L1213.5 342.1L1214 342.2L1214.5 342.2L1215 344.2L1215.5 342.2L1216 341.3L1216.5 340.9L1217 341.9L1217.5 341.9L1218 341.4L1218.5 341.9L1219 342.4L1219.5 342.6L1220 340.8L1220.5 343.3L1221 341.7L1221.5 343.2L1222 342.5L1222.5 342.3L1223 341.5L1223.5 342.5L1224 338.5L1224.5 339.3L1225 337.2L1225.5 339.3L1226 338.9L1226.5 338.5L1227 338.8L1227.5 337.1L1228 337.1L1228.5 339.6L1229 339L1229.5 340.6L1230 339.8L1230.5 338.3L1231 341.2L1231.5 341.2L1232 339L1232.5 340.7L1233 340.8L1233.5 341.6L1234 341.2L1234.5 341L1235 339.8L1235.5 342.1L1236 342.2L1236.5 342.2L1237 340.8L1237.5 337.3L1238 338.5L1238.5 339L1239 339.2L1239.5 339.3L1240 339.3L1240.5 339L1241 340L1241.5 338.2L1242 338.4L1242.5 340.5L1243 337.6L1243.5 338.7L1244 339.7L1244.5 340.1L1245 340.1L1245.5 340.6L1246 340.3L1246.5 339.1L1247 339.9L1247.5 340.1L1248 335.3L1248.5 339.7L1249 339.2L1249.5 339.9L1250 339.4L1250.5 338.6L1251 340.1L1251.5 338.6L1252 336.9L1252.5 339.6L1253 339.6L1253.5 339.7L1254 338.7L1254.5 339.6L1255 339.8L1255.5 337.8L1256 338.5L1256.5 338.6L1257 338.8L1257.5 339.3L1258 342.1L1258.5 342.8L1259 343.5L1259.5 343.6L1260 343.1L1260.5 340.2L1261 343L1261.5 344.4L1262 344.1L1262.5 345.4L1263 346.3L1263.5 345.7L1264 346.5L1264.5 345.6L1265 347.6L1265.5 347.5L1266 345.4L1266.5 345.6L1267 344.7L1267.5 347.6L1268 349.4L1268.5 346L1269 348.1L1269.5 346L1270 347L1270.5 347L1271 348.9L1271.5 346.2L1272 346.1L1272.5 347L1273 347.9L1273.5 351.2L1274 349.3L1274.5 349.9L1275 350.7L1275.5 351.2L1276 350.6L1276.5 348.2L1277 345.1L1277.5 347.7L1278 346.8L1278.5 348.3L1279 345.6L1279.5 347.6L1280 346.7L1280.5 347.6L1281 348.6L1281.5 345.7L1282 345.7L1282.5 347.4L1283 345.7L1283.5 345.7L1284 346.7L1284.5 346.8L1285 346.6L1285.5 346.3L1286 347.8L1286.5 347.6L1287 346.1L1287.5 346.2L1288 346.2L1288.5 346.9L1289 344.2L1289.5 344.8L1290 341.6L1290.5 343.6L1291 343.3L1291.5 343.5L1292 342.4L1292.5 342.7L1293 344.2L1293.5 341.1L1294 342.9L1294.5 340.3L1295 342.6L1295.5 341.3L1296 342.4L1296.5 340.3L1297 343.5L1297.5 343.6L1298 342.5L1298.5 342.6L1299 343.8L1299.5 342.6L1300 343.9L1300.5 344.5L1301 343.7L1301.5 345.1L1302 345.7L1302.5 344.9L1303 346.4L1303.5 345.1L1304 345.8L1304.5 343L1305 347.2L1305.5 344.8L1306 346.9L1306.5 346.5L1307 345.5L1307.5 345.9L1308 346L1308.5 343.6L1309 346.2L1309.5 348.2L1310 348.6L1310.5 350.1L1311 349.8L1311.5 349L1312 352.6L1312.5 353L1313 352.9L1313.5 354.4L1314 351.1L1314.5 352.1L1315 349.7L1315.5 351.4L1316 346.9L1316.5 350.8L1317 349.3L1317.5 348.2L1318 347.6L1318.5 348.7L1319 348.2L1319.5 349.6L1320 348.2L1320.5 349.5L1321 350.3L1321.5 350.1L1322 350.6L1322.5 350.9L1323 351.1L1323.5 352.1L1324 351.4L1324.5 353.3L1325 352.8L1325.5 352.9L1326 351.7L1326.5 346.6L1327 350L1327.5 347.6L1328 347.1L1328.5 351.5L1329 350.1L1329.5 350.1L1330 349.6L1330.5 349.7L1331 347.7L1331.5 350.9L1332 350.1L1332.5 347.2L1333 351.5L1333.5 348.5L1334 349.2L1334.5 348.1L1335 346.6L1335.5 348.5L1336 346.7L1336.5 344.6L1337 345.3L1337.5 343.8L1338 344.7L1338.5 344.1L1339 345.7L1339.5 345.6L1340 346.5L1340.5 347L1341 346.2L1341.5 349.3L1342 345.7L1342.5 349.5L1343 347.5L1343.5 349.8L1344 353.4L1344.5 355.5L1345 358.3L1345.5 360L1346 360.4L1346.5 360.9L1347 356.3L1347.5 358L1348 358.1L1348.5 357.2L1349 358.6L1349.5 359.1L1350 357.3L1350.5 356.2L1351 354L1351.5 353.4L1352 349L1352.5 347.4L1353 339.2L1353.5 338.9L1354 336.5L1354.5 336.5L1355 336.8L1355.5 339.9L1356 340.9L1356.5 340.4L1357 342.3L1357.5 344.9L1358 343.2L1358.5 343.9L1359 345.8L1359.5 345.8L1360 346.9L1360.5 344.7L1361 346L1361.5 346.8L1362 345.8L1362.5 344.2L1363 342L1363.5 347.4L1364 348.1L1364.5 347L1365 348.2L1365.5 349.1L1366 347L1366.5 347.9L1367 348.9L1367.5 350.9L1368 351.1L1368.5 351.1L1369 347.1L1369.5 351.7L1370 353.7L1370.5 353L1371 349.3L1371.5 351.6L1372 351.6L1372.5 352.2L1373 351.3L1373.5 353.8L1374 353.4L1374.5 354.1L1375 351.3L1375.5 348.8L1376 354.8L1376.5 355.2L1377 355.9L1377.5 352.3L1378 346.5L1378.5 341.9L1379 339.8L1379.5 343.4L1380 345.6L1380.5 349.9L1381 350.8L1381.5 354.3L1382 353.8L1382.5 350.2L1383 349.5L1383.5 346.3L1384 344.5L1384.5 341L1385 345.1L1385.5 348.7L1386 352.9L1386.5 352.4L1387 353.8L1387.5 355.8L1388 354.1L1388.5 353.6L1389 352.8L1389.5 355.6L1390 352.3L1390.5 350.1L1391 354.1L1391.5 353L1392 351.4L1392.5 352.7L1393 353.2L1393.5 353.5L1394 351.3L1394.5 351.6L1395 351.1L1395.5 351L1396 351.1L1396.5 350.1L1397 349.4L1397.5 350.6L1398 350L1398.5 347.9L1399 349L1399.5 346.2L1400 345.2L1400.5 345.5L1401 345.3L1401.5 344.7L1402 345.9L1402.5 344.1L1403 345.6L1403.5 344.1L1404 344.7L1404.5 344.7L1405 344.8L1405.5 344L1406 344.9L1406.5 345.1L1407 343.7L1407.5 345.8L1408 343.6L1408.5 343L1409 341.3L1409.5 343.9L1410 343.8L1410.5 343.9L1411 342.4L1411.5 342.7L1412 342.7L1412.5 342.4L1413 342.5L1413.5 343.8L1414 342.3L1414.5 342.7L1415 344.4L1415.5 342.9L1416 343.7L1416.5 343L1417 345.7L1417.5 346.7L1418 346.8L1418.5 346L1419 348.7L1419.5 346.2L1420 348.2L1420.5 347.8L1421 346.3L1421.5 349.4L1422 349.4L1422.5 344.2L1423 346.6L1423.5 343.9L1424 344.2L1424.5 343.3L1425 336.1L1425.5 340.3L1426 341.1L1426.5 341.8L1427 344.6L1427.5 344.8L1428 345.3L1428.5 347.3L1429 347.4L1429.5 347.5L1430 347.4L1430.5 346.2L1431 347.3L1431.5 348.9L1432 345.7L1432.5 348.7L1433 347.6L1433.5 347.6L1434 346.9L1434.5 346.9L1435 347.9L1435.5 346.1L1436 347.1L1436.5 346.7L1437 346.1L1437.5 345.3L1438 348.2L1438.5 347.3L1439 347.3L1439.5 347.1L1440 347.2L1440.5 347.7L1441 347.9L1441.5 347.5L1442 348.7L1442.5 348L1443 347.5L1443.5 348.1L1444 346.7L1444.5 346.6L1445 346.4L1445.5 345.2L1446 346L1446.5 344.6L1447 344.3L1447.5 342.3L1448 341.8L1448.5 342.9L1449 344.3L1449.5 343.4L1450 342.1L1450.5 341.8L1451 342.7L1451.5 342.1L1452 342.5L1452.5 341.6L1453 338.7L1453.5 339.5L1454 336.8L1454.5 338.1L1455 320.6L1455.5 302.3L1456 326L1456.5 340.6L1457 337.7L1457.5 338.3L1458 337.5L1458.5 333.7L1459 332.1L1459.5 331.5L1460 334.5L1460.5 330.4L1461 331.7L1461.5 329.3L1462 330.1L1462.5 329.6L1463 334.2L1463.5 333.9L1464 336.1L1464.5 335.8L1465 337.3L1465.5 338.4L1466 340.1L1466.5 341L1467 342.6L1467.5 338.2L1468 342.4L1468.5 341.2L1469 339.2L1469.5 337.3L1470 335.6L1470.5 334.7L1471 335.7L1471.5 337.9L1472 338.5L1472.5 340.2L1473 342L1473.5 343.8L1474 346.3L1474.5 349.2L1475 346.8L1475.5 338.4L1476 336.4L1476.5 328.5L1477 333.6L1477.5 334.7L1478 334.2L1478.5 335.8L1479 334.5L1479.5 336.6L1480 338.6L1480.5 335.5L1481 336.8L1481.5 335.8L1482 332.1L1482.5 334.7L1483 332L1483.5 332.1L1484 335.7L1484.5 335.1L1485 332.7L1485.5 335.1L1486 337.4L1486.5 336.9L1487 338.8L1487.5 339.8L1488 339.2L1488.5 336.8L1489 339L1489.5 339.9L1490 340.5L1490.5 336.5L1491 340.8L1491.5 340.9L1492 339.4L1492.5 337.8L1493 338.8L1493.5 339.7L1494 336.8L1494.5 339.2L1495 341.2L1495.5 342L1496 341L1496.5 341.2L1497 342.8L1497.5 341.2L1498 342.4L1498.5 344.2L1499 340.5L1499.5 343.6L1500 342.6L1500.5 341.4L1501 341.6L1501.5 342.2L1502 342.1L1502.5 341.2L1503 341.5L1503.5 342.9L1504 340.8L1504.5 342.5L1505 342.7L1505.5 342.9L1506 343.6L1506.5 342.3L1507 342.4L1507.5 342.7L1508 342.5L1508.5 343.2L1509 343.9L1509.5 340.6L1510 340.6L1510.5 343L1511 343.4L1511.5 343.9L1512 344.5L1512.5 342.8L1513 341.4L1513.5 342.6L1514 343.3L1514.5 342.2L1515 342.9L1515.5 344L1516 343L1516.5 341.8L1517 341.5L1517.5 339.3L1518 340L1518.5 340.1L1519 341.6L1519.5 341.6L1520 341.5L1520.5 342.7L1521 341.6L1521.5 343.2L1522 344.6L1522.5 342.4L1523 341.4L1523.5 342.8L1524 347.1L1524.5 346.7L1525 345.8L1525.5 347.8L1526 344.4L1526.5 346.5L1527 347.8L1527.5 346.4L1528 347.5L1528.5 346.8L1529 346.6L1529.5 347.8L1530 346.1L1530.5 345L1531 344.1L1531.5 345.7L1532 344.5L1532.5 343L1533 343.8L1533.5 343.3L1534 341.9L1534.5 344L1535 344.7L1535.5 344.3L1536 341.6L1536.5 343.8L1537 342.8L1537.5 341.7L1538 340.3L1538.5 342.1L1539 342.1L1539.5 341.7L1540 341.5L1540.5 340.5L1541 342.1L1541.5 342.3L1542 342.7L1542.5 343.5L1543 342.7L1543.5 343.6L1544 343.1L1544.5 342.4L1545 340.6L1545.5 341.5L1546 341.2L1546.5 341.5L1547 341.1L1547.5 340.6L1548 341.9L1548.5 341.8L1549 341.4L1549.5 340.4L1550 340.3L1550.5 341.9L1551 339.1L1551.5 340.8L1552 342.8L1552.5 339.7L1553 342.7L1553.5 338.3L1554 342.2L1554.5 342.3L1555 342.4L1555.5 341.7L1556 340.7L1556.5 341.3L1557 339.6L1557.5 340.6L1558 338.9L1558.5 339.3L1559 339L1559.5 338.1L1560 332.5L1560.5 335.1L1561 334.5L1561.5 336.6L1562 333.5L1562.5 333.5L1563 332.8L1563.5 333.1L1564 331.2L1564.5 332.2L1565 331.8L1565.5 329.9L1566 329.2L1566.5 321.6L1567 328.1L1567.5 326.6L1568 325.5L1568.5 327.3L1569 324.8L1569.5 328L1570 328.1L1570.5 331.4L1571 330.7L1571.5 330.5L1572 321L1572.5 320.4L1573 326.6L1573.5 318.9L1574 323.9L1574.5 323.9L1575 324.6L1575.5 326.2L1576 323.3L1576.5 318.2L1577 324.3L1577.5 321.5L1578 320.9L1578.5 323.6L1579 321.6L1579.5 322.1L1580 319L1580.5 316L1581 319.9L1581.5 317.8L1582 309.6L1582.5 317.8L1583 315L1583.5 308.3L1584 310.2L1584.5 315.3L1585 310.5L1585.5 310.9L1586 310.4L1586.5 309.6L1587 309.9L1587.5 309.1L1588 302.6L1588.5 301.2L1589 295.6L1589.5 302.3L1590 302.6L1590.5 305.5L1591 306.1L1591.5 302.7L1592 309L1592.5 307.2L1593 311.5L1593.5 308.2L1594 308.9L1594.5 305.5L1595 306.4L1595.5 299.5L1596 298.3L1596.5 294.4L1597 299.1L1597.5 297.8L1598 296.5L1598.5 295.4L1599 288.8L1599.5 290.8L1600 286.4L1600.5 288.1L1601 285.3L1601.5 286.3L1602 286.9L1602.5 283.6L1603 285.5L1603.5 287.6L1604 282.8L1604.5 284.4L1605 286.6L1605.5 282.3L1606 294.8L1606.5 297.6L1607 298.7L1607.5 299.3L1608 302.8L1608.5 305L1609 306L1609.5 306.1L1610 307.3L1610.5 307.9L1611 305.3L1611.5 303.2L1612 303.1L1612.5 306.4L1613 304.2L1613.5 308.6L1614 308.2L1614.5 310.6L1615 306.2L1615.5 305.6L1616 308.4L1616.5 310.1L1617 299.1L1617.5 308.3L1618 311.6L1618.5 308.4L1619 311.8L1619.5 308.7L1620 311.1L1620.5 296L1621 304.8L1621.5 312.8L1622 312.3L1622.5 299.6L1623 307L1623.5 307.8L1624 301.3L1624.5 307.2L1625 311.1L1625.5 302.9L1626 307L1626.5 311L1627 308.9L1627.5 307L1628 307.1L1628.5 308.8L1629 308.4L1629.5 302.1L1630 308.7L1630.5 309.6L1631 307L1631.5 310.1L1632 311L1632.5 308.8L1633 312.2L1633.5 309.1L1634 309L1634.5 311.3L1635 314.6L1635.5 319.8L1636 318.7L1636.5 323.8L1637 326.4L1637.5 324.9L1638 325.8L1638.5 322.9L1639 322.6L1639.5 323.4L1640 326.4L1640.5 323.6L1641 328.8L1641.5 326.1L1642 329.2L1642.5 325.6L1643 328L1643.5 324.7L1644 315.8L1644.5 305.1L1645 300.5L1645.5 305.1L1646 308.1L1646.5 308.9L1647 302.7L1647.5 297.1L1648 311.2L1648.5 311.1L1649 313.2L1649.5 315.9L1650 314.3L1650.5 313.1L1651 308.1L1651.5 310.7L1652 311.8L1652.5 302.9L1653 312.9L1653.5 305.3L1654 309.9L1654.5 312L1655 301.5L1655.5 311L1656 309L1656.5 308.8L1657 311.4L1657.5 306L1658 309L1658.5 309L1659 308.6L1659.5 309.3L1660 310.1L1660.5 310.5L1661 308.8L1661.5 310L1662 310.1L1662.5 309.6L1663 304.7L1663.5 308.2L1664 302.3L1664.5 303.1L1665 303L1665.5 297.8L1666 303L1666.5 308L1667 308L1667.5 307.5L1668 300.9L1668.5 303.1L1669 308.2L1669.5 307.1L1670 302.3L1670.5 308.7L1671 309.4L1671.5 308.7L1672 305.3L1672.5 310.4L1673 309.5L1673.5 298.2L1674 305L1674.5 309.2L1675 301.7L1675.5 306.7L1676 307.1L1676.5 299.4L1677 309.6L1677.5 310L1678 308.8L1678.5 308.3L1679 309.8L1679.5 308.4L1680 308.5L1680.5 307.9L1681 312.1L1681.5 311.6L1682 304.2L1682.5 303.4L1683 303.4L1683.5 310L1684 309.2L1684.5 306.1L1685 308.8L1685.5 294.9L1686 308.9L1686.5 304.7L1687 302L1687.5 309.7L1688 310.5L1688.5 303.2L1689 307.6L1689.5 305.5L1690 303.6L1690.5 306.4L1691 306.6L1691.5 308.8L1692 306.6L1692.5 306.2L1693 303.5L1693.5 305.9L1694 307.9L1694.5 309L1695 306.1L1695.5 309.7L1696 308.6L1696.5 304.4L1697 308.1L1697.5 307L1698 310.2L1698.5 309.3L1699 298.1L1699.5 299.4L1700 305.4L1700.5 303.2L1701 292.7L1701.5 291.3L1702 298.2L1702.5 295.2L1703 294.5L1703.5 280.4L1704 289.9L1704.5 295.4L1705 295.3L1705.5 296.5L1706 298.2L1706.5 295.1L1707 293.4L1707.5 293.6L1708 294.7L1708.5 284.2L1709 284.6L1709.5 284L1710 287.1L1710.5 284.9L1711 284.7L1711.5 292.4L1712 280.6L1712.5 294.8L1713 297.2L1713.5 296.7L1714 299.2L1714.5 300.3L1715 302.8L1715.5 302.3L1716 302.5L1716.5 302.5L1717 301L1717.5 305.1L1718 300.8L1718.5 301.6L1719 303.9L1719.5 298.4L1720 304.1L1720.5 309.2L1721 306.9L1721.5 309.2L1722 298L1722.5 298.7L1723 301.6L1723.5 298.5L1724 294.3L1724.5 289.8L1725 286.3L1725.5 290.7L1726 297.3L1726.5 294.5L1726.5 308.4L1726 302.2L1725.5 305.4L1725 297.5L1724.5 292L1724 296.8L1723.5 306.6L1723 303.7L1722.5 315.1L1722 313L1721.5 312.8L1721 311.8L1720.5 313L1720 309.6L1719.5 315.9L1719 308.5L1718.5 319.9L1718 307.7L1717.5 308.3L1717 304L1716.5 308.6L1716 312L1715.5 310L1715 306.9L1714.5 305.5L1714 309.2L1713.5 305.3L1713 303.1L1712.5 305.3L1712 297.8L1711.5 293L1711 289.3L1710.5 295.8L1710 287.8L1709.5 295.1L1709 291.4L1708.5 292.4L1708 296.1L1707.5 302.8L1707 305.3L1706.5 298.8L1706 299.7L1705.5 304.4L1705 303.4L1704.5 306.5L1704 299.8L1703.5 298.6L1703 296.3L1702.5 300.5L1702 311.5L1701.5 301.2L1701 301L1700.5 305.9L1700 306.8L1699.5 313.8L1699 308.9L1698.5 312.1L1698 312.6L1697.5 325.2L1697 313.9L1696.5 312.1L1696 315.2L1695.5 313.6L1695 311L1694.5 313.9L1694 318L1693.5 315.8L1693 309.8L1692.5 310.2L1692 313.3L1691.5 310.7L1691 313.3L1690.5 313.2L1690 312.5L1689.5 308.8L1689 312.7L1688.5 314.4L1688 315.7L1687.5 310.6L1687 312.2L1686.5 318.6L1686 313.4L1685.5 317.9L1685 314.8L1684.5 314.3L1684 313.2L1683.5 319L1683 315.3L1682.5 315.3L1682 319.9L1681.5 316.1L1681 316.6L1680.5 314.7L1680 312.9L1679.5 313L1679 314.1L1678.5 315L1678 312L1677.5 321.4L1677 310.9L1676.5 310.2L1676 315.3L1675.5 309.9L1675 315.7L1674.5 310.4L1674 323.1L1673.5 311.4L1673 312.9L1672.5 310.7L1672 312.1L1671.5 314L1671 312.7L1670.5 311.4L1670 317.7L1669.5 310.4L1669 312.5L1668.5 314.6L1668 310.4L1667.5 310.4L1667 309.8L1666.5 311L1666 308.1L1665.5 307.8L1665 308.4L1664.5 308.7L1664 308.3L1663.5 311.2L1663 313.1L1662.5 315.4L1662 314.1L1661.5 310.6L1661 315.5L1660.5 319.2L1660 316.5L1659.5 320.5L1659 317L1658.5 311.2L1658 313.2L1657.5 311.4L1657 321.7L1656.5 318.2L1656 316.9L1655.5 315.2L1655 313.5L1654.5 319.2L1654 313.9L1653.5 316.1L1653 315.8L1652.5 314.5L1652 314.1L1651.5 314.3L1651 324.7L1650.5 318L1650 322L1649.5 316.3L1649 325.9L1648.5 315L1648 314.7L1647.5 315.7L1647 316.3L1646.5 321.3L1646 315.1L1645.5 313.4L1645 305.9L1644.5 306.8L1644 321L1643.5 333.6L1643 331.4L1642.5 331.2L1642 335.2L1641.5 331.4L1641 338.6L1640.5 332.2L1640 329.6L1639.5 329.2L1639 328.9L1638.5 331.7L1638 330.9L1637.5 329.4L1637 335.6L1636.5 329.6L1636 326.5L1635.5 322.7L1635 323L1634.5 318.1L1634 318.3L1633.5 314.3L1633 316.6L1632.5 314.7L1632 311.8L1631.5 311.3L1631 310.1L1630.5 311.2L1630 311.4L1629.5 313.4L1629 314.1L1628.5 312.6L1628 311.6L1627.5 312.6L1627 310.9L1626.5 320.3L1626 318L1625.5 318.4L1625 312.5L1624.5 313.4L1624 313.9L1623.5 314L1623 317.2L1622.5 315.5L1622 317.9L1621.5 313.7L1621 314.5L1620.5 313.8L1620 312.1L1619.5 312L1619 315.2L1618.5 318.5L1618 312.9L1617.5 312.5L1617 314.3L1616.5 311.7L1616 314.3L1615.5 311.9L1615 315.8L1614.5 314.9L1614 313.2L1613.5 316.6L1613 311.3L1612.5 311.4L1612 314.2L1611.5 310.2L1611 323.5L1610.5 309.5L1610 310.6L1609.5 314.4L1609 307.1L1608.5 308.8L1608 305.9L1607.5 305.5L1607 306.6L1606.5 302.4L1606 296.3L1605.5 295.4L1605 290.1L1604.5 289.3L1604 287.2L1603.5 289.6L1603 292.6L1602.5 295.8L1602 288.9L1601.5 289.8L1601 290.3L1600.5 293.8L1600 296.4L1599.5 292.4L1599 297.2L1598.5 303.9L1598 300.1L1597.5 298.7L1597 300L1596.5 303.6L1596 305.5L1595.5 307.2L1595 306.6L1594.5 316.3L1594 316.6L1593.5 314L1593 313.1L1592.5 321.1L1592 309.8L1591.5 310L1591 314.4L1590.5 311L1590 311L1589.5 305.4L1589 304.6L1588.5 304.3L1588 307.1L1587.5 317.5L1587 310.3L1586.5 314L1586 314.9L1585.5 313.2L1585 317.1L1584.5 317L1584 318.2L1583.5 323.5L1583 325L1582.5 320.8L1582 329.6L1581.5 320.4L1581 324.9L1580.5 322.5L1580 324.6L1579.5 324.9L1579 326.9L1578.5 324.5L1578 328.3L1577.5 330L1577 327.3L1576.5 325.4L1576 329.8L1575.5 329.8L1575 327.2L1574.5 326.9L1574 334.9L1573.5 328.3L1573 328.9L1572.5 336.6L1572 329.2L1571.5 331L1571 342L1570.5 332.3L1570 330.8L1569.5 334L1569 332.5L1568.5 334.4L1568 331.8L1567.5 330.5L1567 331.3L1566.5 332L1566 330L1565.5 333.7L1565 336.1L1564.5 334.4L1564 334.7L1563.5 334.7L1563 338.3L1562.5 337.9L1562 337.5L1561.5 341.5L1561 344L1560.5 343.4L1560 351.7L1559.5 340.2L1559 341.7L1558.5 341.6L1558 343.3L1557.5 342L1557 342.2L1556.5 342.7L1556 342.9L1555.5 343.7L1555 343.7L1554.5 345.8L1554 342.7L1553.5 343L1553 345L1552.5 343.4L1552 345.5L1551.5 343.1L1551 342.5L1550.5 343.2L1550 343.6L1549.5 343.4L1549 342.2L1548.5 342.4L1548 342.5L1547.5 340.7L1547 342.8L1546.5 343.1L1546 341.5L1545.5 341.9L1545 346.2L1544.5 345.1L1544 343.8L1543.5 344.3L1543 347.5L1542.5 345.4L1542 344.7L1541.5 343.5L1541 343.6L1540.5 342.3L1540 343.4L1539.5 344.3L1539 344.8L1538.5 342.2L1538 342.7L1537.5 346.7L1537 344.2L1536.5 345.3L1536 346.8L1535.5 345.7L1535 345.3L1534.5 344.8L1534 344.6L1533.5 345.8L1533 344.5L1532.5 344.8L1532 346.3L1531.5 349L1531 347.9L1530.5 347.7L1530 347.6L1529.5 353.8L1529 347.7L1528.5 347.3L1528 349.3L1527.5 348.3L1527 348.3L1526.5 348.1L1526 349.7L1525.5 349L1525 348.8L1524.5 348.3L1524 348.7L1523.5 349.3L1523 346.1L1522.5 344.3L1522 344.8L1521.5 346.5L1521 344.3L1520.5 344.1L1520 342.1L1519.5 343.1L1519 342.6L1518.5 343.2L1518 340.6L1517.5 341.4L1517 343L1516.5 343.8L1516 343.7L1515.5 344.1L1515 344.1L1514.5 343.5L1514 343.5L1513.5 344L1513 343.4L1512.5 347.2L1512 345.4L1511.5 344.7L1511 347.4L1510.5 343.6L1510 343.6L1509.5 344.1L1509 344.6L1508.5 345.4L1508 345.2L1507.5 346.4L1507 343.6L1506.5 344.7L1506 344.3L1505.5 343.9L1505 343.3L1504.5 348L1504 343.2L1503.5 345.7L1503 343.3L1502.5 344.3L1502 344.9L1501.5 343.1L1501 345.4L1500.5 345.9L1500 343.7L1499.5 343.7L1499 344.4L1498.5 345L1498 345.8L1497.5 344.2L1497 347.7L1496.5 342.3L1496 343.3L1495.5 342.6L1495 343.1L1494.5 342L1494 342.2L1493.5 341.4L1493 340.2L1492.5 341.4L1492 342.7L1491.5 342.9L1491 342.1L1490.5 342L1490 341.5L1489.5 340.3L1489 340.4L1488.5 340.6L1488 342.4L1487.5 340.5L1487 339.5L1486.5 337.8L1486 339.3L1485.5 337.9L1485 337.2L1484.5 336.8L1484 336.6L1483.5 335.9L1483 335.6L1482.5 335L1482 335.5L1481.5 336.8L1481 339L1480.5 339.6L1480 339.8L1479.5 339.8L1479 338.6L1478.5 337.2L1478 335.9L1477.5 335.3L1477 335.9L1476.5 332.7L1476 337.2L1475.5 341L1475 346.9L1474.5 349.7L1474 348.1L1473.5 348.4L1473 342.9L1472.5 343.2L1472 341.1L1471.5 338.8L1471 336.7L1470.5 337.4L1470 337.2L1469.5 338.6L1469 341.5L1468.5 342.1L1468 343.1L1467.5 343.9L1467 343.9L1466.5 342.5L1466 342.6L1465.5 341.8L1465 338.6L1464.5 337.5L1464 337.1L1463.5 336.4L1463 334.5L1462.5 333.7L1462 334.6L1461.5 333.7L1461 333.5L1460.5 335L1460 335.4L1459.5 334.2L1459 334.8L1458.5 336.5L1458 339.5L1457.5 339.9L1457 339.7L1456.5 343.2L1456 327.5L1455.5 307.8L1455 321.7L1454.5 340.3L1454 339.4L1453.5 341.1L1453 340.8L1452.5 344.6L1452 343.3L1451.5 343.3L1451 346.4L1450.5 346L1450 343.7L1449.5 345.5L1449 345L1448.5 346.8L1448 345.5L1447.5 344.9L1447 345.4L1446.5 345.6L1446 346.9L1445.5 345.5L1445 347.2L1444.5 348L1444 348.7L1443.5 348.6L1443 349.9L1442.5 351.2L1442 350L1441.5 349.7L1441 349.6L1440.5 348.7L1440 348L1439.5 351.9L1439 351.4L1438.5 350.4L1438 349.7L1437.5 349.1L1437 346.9L1436.5 348.9L1436 347.4L1435.5 349.5L1435 350.1L1434.5 348.6L1434 348.7L1433.5 349.5L1433 349.4L1432.5 352.3L1432 351.5L1431.5 349.8L1431 349.3L1430.5 350L1430 350.9L1429.5 349L1429 349.5L1428.5 348.9L1428 348.3L1427.5 347L1427 346.5L1426.5 344.7L1426 344.9L1425.5 341.9L1425 343.2L1424.5 344.3L1424 345L1423.5 346.3L1423 349.3L1422.5 349.9L1422 350.7L1421.5 351.8L1421 348.9L1420.5 349.9L1420 351.2L1419.5 348.3L1419 349.3L1418.5 349.5L1418 348.8L1417.5 349.2L1417 346.2L1416.5 345.8L1416 345.2L1415.5 346.5L1415 345.5L1414.5 345.1L1414 345.4L1413.5 344.4L1413 344L1412.5 343.7L1412 344.1L1411.5 343.2L1411 345.4L1410.5 345L1410 344.5L1409.5 344.7L1409 347.1L1408.5 346.3L1408 345.2L1407.5 346.1L1407 345.3L1406.5 346.2L1406 346.7L1405.5 346.3L1405 346.8L1404.5 347.2L1404 345.8L1403.5 345.7L1403 347.3L1402.5 347.5L1402 350.9L1401.5 346.5L1401 349.3L1400.5 346.7L1400 347.2L1399.5 348.8L1399 349.9L1398.5 352L1398 352L1397.5 351.7L1397 350.6L1396.5 351.5L1396 352.2L1395.5 353.7L1395 354.5L1394.5 356.5L1394 356.3L1393.5 355.2L1393 355.1L1392.5 355.4L1392 355.3L1391.5 358L1391 356.6L1390.5 358.6L1390 356.4L1389.5 355.8L1389 356L1388.5 357.5L1388 356.1L1387.5 356.6L1387 358.3L1386.5 355.3L1386 359.2L1385.5 349L1385 347.4L1384.5 343.1L1384 344.7L1383.5 348.6L1383 350.4L1382.5 352.2L1382 356.7L1381.5 355.7L1381 352.8L1380.5 350.6L1380 348.6L1379.5 347.3L1379 342L1378.5 345.6L1378 350.4L1377.5 356.2L1377 357.4L1376.5 357.5L1376 355.7L1375.5 356.3L1375 356.1L1374.5 354.3L1374 356.4L1373.5 354.7L1373 353.6L1372.5 353.1L1372 353.2L1371.5 353L1371 352L1370.5 357.8L1370 354.8L1369.5 352.9L1369 352.2L1368.5 353.2L1368 352.6L1367.5 351.8L1367 351.6L1366.5 354.9L1366 350.4L1365.5 349.9L1365 349.2L1364.5 351L1364 350.6L1363.5 348.3L1363 349.7L1362.5 346.8L1362 347.1L1361.5 347.2L1361 347.4L1360.5 347.1L1360 348.3L1359.5 348.4L1359 348L1358.5 346.1L1358 346.2L1357.5 346.4L1357 344.6L1356.5 343.4L1356 342.9L1355.5 342.5L1355 341.2L1354.5 338.3L1354 337L1353.5 341.8L1353 346.9L1352.5 347.9L1352 351.7L1351.5 354L1351 357.6L1350.5 360.3L1350 360.6L1349.5 359.7L1349 360.2L1348.5 359.3L1348 363L1347.5 360.2L1347 360.8L1346.5 361.2L1346 361.6L1345.5 361.7L1345 359.9L1344.5 358.8L1344 354.5L1343.5 351.8L1343 351.7L1342.5 353.2L1342 353.4L1341.5 350.2L1341 352.1L1340.5 348.9L1340 348.4L1339.5 349.8L1339 347.6L1338.5 346L1338 345.3L1337.5 346.4L1337 347.5L1336.5 347L1336 348.3L1335.5 348.9L1335 351.9L1334.5 350.4L1334 351.8L1333.5 350.7L1333 352L1332.5 351.2L1332 352.3L1331.5 351.4L1331 350.9L1330.5 350.9L1330 350.7L1329.5 353.1L1329 352.5L1328.5 351.9L1328 351.5L1327.5 353.7L1327 354.9L1326.5 352.8L1326 352L1325.5 355L1325 355.1L1324.5 356.4L1324 355.8L1323.5 353.9L1323 353.1L1322.5 353.6L1322 352L1321.5 351.5L1321 351.1L1320.5 350.6L1320 350.1L1319.5 352.1L1319 349.5L1318.5 351.6L1318 350.1L1317.5 349.3L1317 350.5L1316.5 354L1316 351.4L1315.5 353.8L1315 353.6L1314.5 353.3L1314 353.9L1313.5 356.1L1313 355.7L1312.5 353.9L1312 354.3L1311.5 352L1311 351.6L1310.5 352L1310 349.6L1309.5 350.1L1309 350L1308.5 347.3L1308 347.7L1307.5 347.1L1307 348.1L1306.5 348.1L1306 347.7L1305.5 349.3L1305 349.8L1304.5 348.6L1304 347.5L1303.5 348.6L1303 347.4L1302.5 346.3L1302 348.3L1301.5 347.2L1301 347.1L1300.5 345.9L1300 344.8L1299.5 344.3L1299 344.4L1298.5 343.1L1298 345.9L1297.5 344L1297 345.5L1296.5 343.1L1296 346.8L1295.5 344.8L1295 343.3L1294.5 343.2L1294 344.4L1293.5 344.4L1293 344.3L1292.5 347.7L1292 344.6L1291.5 344.4L1291 344.5L1290.5 345.4L1290 343.6L1289.5 346.1L1289 346.5L1288.5 347.5L1288 348.4L1287.5 348.5L1287 348.1L1286.5 348.5L1286 349.4L1285.5 347.8L1285 350.3L1284.5 348.6L1284 347.1L1283.5 347.7L1283 348L1282.5 348.5L1282 348.9L1281.5 349.7L1281 349.1L1280.5 348.6L1280 348.4L1279.5 349.5L1279 348L1278.5 349.5L1278 352.9L1277.5 349.6L1277 348.5L1276.5 351.9L1276 352.1L1275.5 351.4L1275 352.2L1274.5 350.8L1274 351.6L1273.5 352.1L1273 351.5L1272.5 352.2L1272 350.1L1271.5 349.2L1271 351.4L1270.5 350.3L1270 350.4L1269.5 352L1269 350.9L1268.5 349.3L1268 350L1267.5 353.5L1267 350.3L1266.5 351L1266 348.3L1265.5 350.1L1265 347.9L1264.5 347L1264 347.2L1263.5 348.9L1263 348.2L1262.5 348.6L1262 346.3L1261.5 346.6L1261 347.3L1260.5 345.9L1260 344.6L1259.5 344L1259 344.7L1258.5 344.2L1258 344L1257.5 341.4L1257 339.8L1256.5 339.7L1256 342.2L1255.5 340L1255 340.5L1254.5 342.8L1254 341.4L1253.5 342.1L1253 341.1L1252.5 342.2L1252 339.3L1251.5 340.3L1251 341L1250.5 341.5L1250 342L1249.5 340.8L1249 340.6L1248.5 340.6L1248 340.5L1247.5 341.7L1247 340.9L1246.5 341.5L1246 340.3L1245.5 343.8L1245 342.4L1244.5 342.1L1244 343.3L1243.5 343.4L1243 342.8L1242.5 341.1L1242 340L1241.5 340.9L1241 341.6L1240.5 343.3L1240 340.7L1239.5 341.8L1239 341.2L1238.5 340.2L1238 339.9L1237.5 340L1237 341.4L1236.5 342.5L1236 343.6L1235.5 344.8L1235 343.4L1234.5 342.1L1234 343.5L1233.5 342.6L1233 342L1232.5 342.8L1232 341.7L1231.5 342.1L1231 343.6L1230.5 342.1L1230 340.7L1229.5 342L1229 341.3L1228.5 343.5L1228 341.2L1227.5 340.7L1227 340.3L1226.5 339L1226 339.7L1225.5 340.9L1225 341.4L1224.5 340.9L1224 341.8L1223.5 345L1223 342.1L1222.5 344.6L1222 342.6L1221.5 343.6L1221 345.1L1220.5 343.6L1220 342.8L1219.5 343.1L1219 343.2L1218.5 344.1L1218 341.9L1217.5 342.8L1217 343.4L1216.5 343.7L1216 344L1215.5 343.9L1215 344.9L1214.5 343.8L1214 351L1213.5 343L1213 343.3L1212.5 342.6L1212 343.4L1211.5 342.7L1211 344.6L1210.5 344.2L1210 344.5L1209.5 344.4L1209 348.8L1208.5 343.3L1208 347.5L1207.5 345.7L1207 346.5L1206.5 346.7L1206 347.2L1205.5 342.7Z" fill="#f00" stroke="#f00" stroke-width="2.3" stroke-linejoin="round" clip-path="url(#r1)"/>
<line x1="1726" y1="110" x2="1726" y2="455" stroke="#1f77b4" stroke-width="2" stroke-dasharray="2.05 3.45"/>
<line x1="1244.5" y1="455" x2="1244.5" y2="449.6" stroke="#000" stroke-width="1.1"/>
<line x1="1319.5" y1="455" x2="1319.5" y2="449.6" stroke="#000" stroke-width="1.1"/>
<line x1="1393.5" y1="455" x2="1393.5" y2="449.6" stroke="#000" stroke-width="1.1"/>
<line x1="1468.5" y1="455" x2="1468.5" y2="449.6" stroke="#000" stroke-width="1.1"/>
<line x1="1542.5" y1="455" x2="1542.5" y2="449.6" stroke="#000" stroke-width="1.1"/>
<line x1="1616.5" y1="455" x2="1616.5" y2="449.6" stroke="#000" stroke-width="1.1"/>
<line x1="1691.5" y1="455" x2="1691.5" y2="449.6" stroke="#000" stroke-width="1.1"/>
<line x1="1765.5" y1="455" x2="1765.5" y2="449.6" stroke="#000" stroke-width="1.1"/>
<line x1="1205" y1="455" x2="1210.4" y2="455" stroke="#000" stroke-width="1.1"/>
<text x="1198.7" y="462.5" font-size="19.44" text-anchor="end" fill="#000">−20</text>
<line x1="1205" y1="411.5" x2="1210.4" y2="411.5" stroke="#000" stroke-width="1.1"/>
<text x="1198.7" y="419" font-size="19.44" text-anchor="end" fill="#000">−15</text>
<line x1="1205" y1="368.5" x2="1210.4" y2="368.5" stroke="#000" stroke-width="1.1"/>
<text x="1198.7" y="376" font-size="19.44" text-anchor="end" fill="#000">−10</text>
<line x1="1205" y1="325.5" x2="1210.4" y2="325.5" stroke="#000" stroke-width="1.1"/>
<text x="1198.7" y="333" font-size="19.44" text-anchor="end" fill="#000">−5</text>
<line x1="1205" y1="282.5" x2="1210.4" y2="282.5" stroke="#000" stroke-width="1.1"/>
<text x="1200.4" y="290" font-size="19.44" text-anchor="end" fill="#000">0</text>
<line x1="1205" y1="239.5" x2="1210.4" y2="239.5" stroke="#000" stroke-width="1.1"/>
<text x="1200.4" y="247" font-size="19.44" text-anchor="end" fill="#000">5</text>
<line x1="1205" y1="196.5" x2="1210.4" y2="196.5" stroke="#000" stroke-width="1.1"/>
<text x="1200.4" y="204" font-size="19.44" text-anchor="end" fill="#000">10</text>
<line x1="1205" y1="153.5" x2="1210.4" y2="153.5" stroke="#000" stroke-width="1.1"/>
<text x="1200.4" y="161" font-size="19.44" text-anchor="end" fill="#000">15</text>
<line x1="1205" y1="110" x2="1210.4" y2="110" stroke="#000" stroke-width="1.1"/>
<text x="1200.4" y="117.5" font-size="19.44" text-anchor="end" fill="#000">20</text>
<line x1="1800" y1="455" x2="1795.1" y2="455" stroke="#f00" stroke-width="1.1"/>
<text x="1805.7" y="461.6" font-size="19.44" text-anchor="start" fill="#f00">0</text>
<line x1="1800" y1="385.5" x2="1795.1" y2="385.5" stroke="#f00" stroke-width="1.1"/>
<text x="1805.7" y="392.1" font-size="19.44" text-anchor="start" fill="#f00">200</text>
<line x1="1800" y1="316.5" x2="1795.1" y2="316.5" stroke="#f00" stroke-width="1.1"/>
<text x="1805.7" y="323.1" font-size="19.44" text-anchor="start" fill="#f00">400</text>
<line x1="1800" y1="247.5" x2="1795.1" y2="247.5" stroke="#f00" stroke-width="1.1"/>
<text x="1805.7" y="254.1" font-size="19.44" text-anchor="start" fill="#f00">600</text>
<line x1="1800" y1="178.5" x2="1795.1" y2="178.5" stroke="#f00" stroke-width="1.1"/>
<text x="1805.7" y="185.1" font-size="19.44" text-anchor="start" fill="#f00">800</text>
<line x1="1800" y1="110" x2="1795.1" y2="110" stroke="#f00" stroke-width="1.1"/>
<text x="1805.7" y="116.6" font-size="19.44" text-anchor="start" fill="#f00">1000</text>
<path d="M1800 110V455" stroke="#f00" stroke-width="2" fill="none" stroke-linecap="square"/>
<path d="M1205 110H1800M1205 455H1800M1205 110V455" stroke="#000" stroke-width="2" fill="none" stroke-linecap="square"/>
<text x="1115.7" y="282.8" font-size="24" text-anchor="middle" fill="#000" transform="rotate(-90 1115.7 282.8)">IMF Bz</text>
<text x="1146" y="282.3" font-size="24" text-anchor="middle" fill="#000" transform="rotate(-90 1146 282.3)">( nT )</text>
<text x="1880" y="283.5" font-size="24" text-anchor="middle" fill="#f00" transform="rotate(-90 1880 283.5)">SW Velocity</text>
<text x="1911.7" y="282.5" font-size="24" text-anchor="middle" fill="#f00" transform="rotate(-90 1911.7 282.5)" xml:space="preserve">( km s<tspan dy="-9.8" font-size="16.8">−1</tspan><tspan dy="9.8" font-size="24"> )</tspan></text>
<line x1="1205" y1="512.4" x2="1800" y2="512.4" stroke="#000" stroke-width="2" stroke-dasharray="2.05 3.45"/>
<path d="M1205.5 516.83L1206.5 517.27L1207.5 517.7L1208.5 518.13L1209.5 518.57L1210.5 519L1211.5 519.43L1212.5 519.87L1213.5 520.3L1214.5 520.56L1215.5 520.8L1216.5 521.03L1217.5 521.26L1218.5 521.5L1219.5 521.73L1220.5 521.96L1221.5 522.2L1222.5 522L1223.5 521.6L1224.5 521.2L1225.5 520.8L1226.5 520.4L1227.5 520L1228.5 519.6L1229.5 518.96L1230.5 518.3L1231.5 517.63L1232.5 516.96L1233.5 516.3L1234.5 515.63L1235.5 514.96L1236.5 514.3L1237.5 514.27L1238.5 514.54L1239.5 514.8L1240.5 515.07L1241.5 515.34L1242.5 515.6L1243.5 515.87L1244.5 516.14L1245.5 516.26L1246.5 516.24L1247.5 516.22L1248.5 516.2L1249.5 516.18L1250.5 516.16L1251.5 516.14L1252.5 516.12L1253.5 516.1L1254.5 516.08L1255.5 516.06L1256.5 516.04L1257.5 516.02L1258.5 516L1259.5 515.48L1260.5 514.88L1261.5 514.28L1262.5 513.68L1263.5 513.08L1264.5 512.58L1265.5 512.24L1266.5 511.9L1267.5 511.55L1268.5 511.21L1269.5 510.87L1270.5 510.52L1271.5 510.18L1272.5 509.84L1273.5 509.5L1274.5 509.14L1275.5 508.78L1276.5 508.43L1277.5 508.07L1278.5 507.71L1279.5 507.36L1280.5 507L1281.5 506.89L1282.5 507.57L1283.5 508.26L1284.5 508.95L1285.5 509.64L1286.5 510.32L1287.5 511.01L1288.5 511.7L1289.5 512.39L1290.5 512.94L1291.5 513.38L1292.5 513.81L1293.5 514.24L1294.5 514.68L1295.5 515.11L1296.5 515.54L1297.5 515.98L1298.5 516.27L1299.5 516.27L1300.5 516.27L1301.5 516.27L1302.5 516.27L1303.5 516.27L1304.5 516.27L1305.5 516.11L1306.5 515.8L1307.5 515.48L1308.5 515.17L1309.5 514.85L1310.5 514.54L1311.5 514.22L1312.5 513.91L1313.5 513.6L1314.5 513.28L1315.5 513.17L1316.5 513.07L1317.5 512.97L1318.5 512.87L1319.5 512.77L1320.5 512.67L1321.5 512.57L1322.5 512.47L1323.5 512.37L1324.5 512.27L1325.5 512.17L1326.5 512.05L1327.5 511.92L1328.5 511.8L1329.5 511.67L1330.5 511.55L1331.5 511.42L1332.5 511.3L1333.5 511.17L1334.5 511.05L1335.5 510.92L1336.5 510.74L1337.5 510.24L1338.5 509.74L1339.5 509.24L1340.5 508.74L1341.5 508.24L1342.5 507.95L1343.5 507.75L1344.5 507.55L1345.5 507.35L1346.5 507.15L1347.5 506.95L1348.5 506.75L1349.5 506.21L1350.5 505.62L1351.5 505.03L1352.5 504.44L1353.5 504.12L1354.5 504.65L1355.5 505.17L1356.5 505.69L1357.5 506.21L1358.5 506.73L1359.5 507.25L1360.5 507.39L1361.5 507.51L1362.5 507.63L1363.5 507.75L1364.5 507.87L1365.5 507.99L1366.5 508.18L1367.5 508.82L1368.5 509.45L1369.5 510.08L1370.5 510.72L1371.5 511.35L1372.5 511.98L1373.5 512.62L1374.5 513.25L1375.5 513.66L1376.5 514.06L1377.5 514.46L1378.5 514.86L1379.5 515.26L1380.5 515.66L1381.5 515.97L1382.5 515.77L1383.5 515.57L1384.5 515.37L1385.5 515.17L1386.5 514.97L1387.5 514.77L1388.5 514.57L1389.5 514.37L1390.5 514.17L1391.5 513.89L1392.5 513.55L1393.5 513.22L1394.5 512.89L1395.5 512.55L1396.5 512.22L1397.5 511.89L1398.5 511.55L1399.5 511.16L1400.5 510.68L1401.5 510.2L1402.5 509.72L1403.5 509.24L1404.5 508.76L1405.5 508.28L1406.5 507.97L1407.5 507.77L1408.5 507.57L1409.5 507.37L1410.5 507.17L1411.5 506.97L1412.5 506.77L1413.5 506.57L1414.5 506.37L1415.5 506.17L1416.5 506.07L1417.5 505.97L1418.5 505.87L1419.5 505.77L1420.5 505.67L1421.5 505.57L1422.5 505.47L1423.5 505.37L1424.5 505.67L1425.5 506.02L1426.5 506.37L1427.5 506.72L1428.5 507.07L1429.5 507.13L1430.5 506.79L1431.5 506.46L1432.5 506.13L1433.5 506.08L1434.5 506.6L1435.5 507.12L1436.5 507.64L1437.5 508.16L1438.5 508.68L1439.5 509.2L1440.5 509.81L1441.5 510.49L1442.5 511.17L1443.5 511.85L1444.5 512.53L1445.5 513.21L1446.5 513.89L1447.5 514.21L1448.5 514.37L1449.5 514.54L1450.5 514.71L1451.5 514.87L1452.5 515.04L1453.5 515.21L1454.5 515.37L1455.5 515.37L1456.5 515.21L1457.5 515.05L1458.5 514.89L1459.5 514.73L1460.5 514.57L1461.5 514.41L1462.5 514.17L1463.5 513.91L1464.5 513.64L1465.5 513.37L1466.5 513.11L1467.5 512.84L1468.5 512.57L1469.5 512.31L1470.5 512.21L1471.5 512.28L1472.5 512.35L1473.5 512.41L1474.5 512.48L1475.5 512.55L1476.5 512.61L1477.5 512.68L1478.5 512.62L1479.5 512.33L1480.5 512.26L1481.5 512.43L1482.5 512.6L1483.5 512.76L1484.5 512.93L1485.5 513.1L1486.5 513.26L1487.5 513.43L1488.5 513.4L1489.5 512.97L1490.5 512.54L1491.5 512.1L1492.5 511.67L1493.5 511.24L1494.5 510.8L1495.5 510.37L1496.5 509.99L1497.5 509.91L1498.5 509.83L1499.5 509.75L1500.5 509.67L1501.5 509.59L1502.5 509.51L1503.5 509.58L1504.5 509.98L1505.5 510.38L1506.5 510.78L1507.5 511.18L1508.5 511.58L1509.5 511.98L1510.5 512.6L1511.5 513.43L1512.5 514.26L1513.5 515.1L1514.5 515.93L1515.5 516.76L1516.5 517.6L1517.5 518.43L1518.5 519.09L1519.5 519.39L1520.5 519.69L1521.5 519.99L1522.5 520.29L1523.5 520.59L1524.5 520.89L1525.5 521.19L1526.5 521.38L1527.5 520.9L1528.5 520.42L1529.5 519.94L1530.5 519.46L1531.5 518.98L1532.5 518.5L1533.5 517.73L1534.5 516.33L1535.5 514.93L1536.5 513.53L1537.5 512.13L1538.5 510.73L1539.5 510.14L1540.5 509.67L1541.5 509.2L1542.5 508.74L1543.5 508.69L1544.5 508.75L1545.5 508.82L1546.5 508.89L1547.5 508.95L1548.5 509.02L1549.5 509.09L1550.5 509.15L1551.5 509.2L1552.5 509.23L1553.5 509.27L1554.5 509.3L1555.5 509.33L1556.5 509.37L1557.5 509.4L1558.5 509.43L1559.5 509.27L1560.5 508.83L1561.5 508.39L1562.5 507.95L1563.5 507.51L1564.5 507.07L1565.5 506.63L1566.5 506.77L1567.5 507.3L1568.5 507.84L1569.5 508.37L1570.5 508.44L1571.5 508.05L1572.5 507.67L1573.5 507.28L1574.5 509.15L1575.5 511.11L1576.5 513.06L1577.5 515.02L1578.5 516.97L1579.5 518.93L1580.5 519.33L1581.5 519.68L1582.5 520.03L1583.5 520.38L1584.5 520.73L1585.5 521.65L1586.5 523.12L1587.5 524.59L1588.5 526.05L1589.5 526.76L1590.5 526.41L1591.5 526.06L1592.5 525.71L1593.5 525.36L1594.5 525.01L1595.5 525.69L1596.5 526.41L1597.5 527.13L1598.5 527.85L1599.5 528.57L1600.5 529.29L1601.5 529.81L1602.5 529.16L1603.5 528.51L1604.5 527.86L1605.5 527.21L1606.5 526.56L1607.5 525.6L1608.5 524.5L1609.5 523.4L1610.5 522.3L1611.5 521.2L1612.5 520.24L1613.5 519.72L1614.5 519.2L1615.5 518.68L1616.5 518.16L1617.5 517.64L1618.5 517.12L1619.5 516.91L1620.5 517.15L1621.5 517.38L1622.5 517.61L1623.5 517.85L1624.5 518.08L1625.5 518.31L1626.5 518.55L1627.5 518.82L1628.5 519.22L1629.5 519.62L1630.5 520.02L1631.5 520.42L1632.5 520.82L1633.5 521.22L1634.5 521.34L1635.5 521.07L1636.5 520.8L1637.5 520.54L1638.5 520.52L1639.5 520.98L1640.5 521.45L1641.5 521.92L1642.5 522.08L1643.5 521.28L1644.5 520.48L1645.5 519.68L1646.5 518.88L1647.5 518.08L1648.5 517.28L1649.5 516.7L1650.5 516.43L1651.5 516.17L1652.5 515.9L1653.5 515.63L1654.5 515.37L1655.5 515.1L1656.5 514.83L1657.5 514.7L1658.5 514.96L1659.5 515.23L1660.5 515.5L1661.5 515.76L1662.5 516.03L1663.5 516.3L1664.5 516.56L1665.5 516.88L1666.5 517.88L1667.5 518.88L1668.5 519.88L1669.5 520.88L1670.5 521.88L1671.5 522.88L1672.5 523.88L1673.5 524.88L1674.5 525.88L1675.5 526.1L1676.5 525.6L1677.5 525.1L1678.5 524.6L1679.5 524.1L1680.5 523.63L1681.5 523.63L1682.5 523.63L1683.5 523.63L1684.5 523.63L1685.5 523.63L1686.5 523.29L1687.5 522.72L1688.5 522.15L1689.5 521.59L1690.5 521.02L1691.5 520.45L1692.5 519.89L1693.5 519.32L1694.5 518.91L1695.5 518.71L1696.5 518.51L1697.5 518.31L1698.5 518.11L1699.5 517.91L1700.5 517.71L1701.5 518.31L1702.5 519.41L1703.5 520.51L1704.5 521.61L1705.5 522.71L1706.5 523.77L1707.5 524.62L1708.5 525.47L1709.5 526.32L1710.5 527.17L1711.5 528.02L1712.5 528.07L1713.5 527.79L1714.5 527.51L1715.5 527.23L1716.5 526.95L1717.5 526.67L1718.5 526.39L1719.5 527.07L1720.5 527.87L1721.5 528.67L1722.5 529.47L1723.5 529.63" fill="none" stroke="#000" stroke-width="2.4" stroke-linejoin="round" clip-path="url(#r2)"/>
<path d="M1205.5 670.3L1206 667.2L1206.5 673.6L1207 671.1L1207.5 674.8L1208 616.4L1208.5 659.3L1209 670L1209.5 671.6L1210 652.1L1210.5 652.6L1211 674.4L1211.5 654.4L1212 679L1212.5 679.9L1213 673.9L1213.5 680.9L1214 683.8L1214.5 682.2L1215 685.9L1215.5 672.7L1216 684.3L1216.5 654.6L1217 662.8L1217.5 671.8L1218 656.6L1218.5 662.3L1219 667.9L1219.5 672.4L1220 679.8L1220.5 680.5L1221 686.1L1221.5 687.7L1222 687.2L1222.5 670.9L1223 668.2L1223.5 676.3L1224 677.4L1224.5 665.3L1225 668.9L1225.5 670.2L1226 664.4L1226.5 660.3L1227 657.9L1227.5 659.9L1228 660.4L1228.5 654.3L1229 657.7L1229.5 654.8L1230 649.4L1230.5 656.4L1231 654.9L1231.5 649.3L1232 648.8L1232.5 651.7L1233 649.5L1233.5 587.7L1234 625.5L1234.5 630L1235 651.9L1235.5 650.5L1236 653.2L1236.5 652.6L1237 651.2L1237.5 653.3L1238 652.1L1238.5 636L1239 654.8L1239.5 651.6L1240 652.9L1240.5 651.8L1241 650.2L1241.5 649.5L1242 652.9L1242.5 650.2L1243 652.3L1243.5 654.3L1244 654.5L1244.5 652.7L1245 650.8L1245.5 648.1L1246 650.2L1246.5 654.6L1247 654.4L1247.5 657.8L1248 649.1L1248.5 643.6L1249 657.1L1249.5 641L1250 649.9L1250.5 641.3L1251 653.5L1251.5 655.1L1252 635.8L1252.5 627.8L1253 636.7L1253.5 651.6L1254 639.1L1254.5 641.4L1255 658.6L1255.5 660.6L1256 660.9L1256.5 648.6L1257 639.8L1257.5 641.9L1258 647.6L1258.5 648.9L1259 653.3L1259.5 610.9L1260 644.5L1260.5 650L1261 642.3L1261.5 636.2L1262 649.3L1262.5 650.6L1263 651.3L1263.5 645.9L1264 646.2L1264.5 652.6L1265 653L1265.5 649.7L1266 631.8L1266.5 650.8L1267 654.1L1267.5 642.5L1268 624.1L1268.5 642.3L1269 633.5L1269.5 644.3L1270 645.6L1270.5 644.9L1271 634.1L1271.5 655.3L1272 656.3L1272.5 653.4L1273 659.2L1273.5 664.3L1274 664.9L1274.5 646.4L1275 661.2L1275.5 660.7L1276 664.9L1276.5 661.3L1277 659L1277.5 654.9L1278 640.4L1278.5 652.7L1279 642.8L1279.5 655.7L1280 653.7L1280.5 646.7L1281 659L1281.5 657.4L1282 633.8L1282.5 649.9L1283 650.3L1283.5 654.3L1284 639L1284.5 650.7L1285 643.9L1285.5 651.1L1286 651.6L1286.5 639.5L1287 652.9L1287.5 650.8L1288 650.4L1288.5 644.3L1289 646.9L1289.5 648.1L1290 647.3L1290.5 623.6L1291 599.2L1291.5 648.4L1292 641.8L1292.5 644.8L1293 647.2L1293.5 645.3L1294 623.2L1294.5 644.6L1295 648.5L1295.5 640.5L1296 647.5L1296.5 651.4L1297 649.7L1297.5 650.6L1298 651.4L1298.5 653.1L1299 654.8L1299.5 655.2L1300 647.9L1300.5 649.9L1301 658.1L1301.5 660.2L1302 659.4L1302.5 651.6L1303 639L1303.5 654.9L1304 659.8L1304.5 660.7L1305 644.3L1305.5 665.2L1306 663.5L1306.5 663.5L1307 665.5L1307.5 659.9L1308 663.2L1308.5 669.9L1309 675.2L1309.5 667.3L1310 674.7L1310.5 672.5L1311 667.9L1311.5 661.2L1312 674.4L1312.5 668.7L1313 664.3L1313.5 677.4L1314 671.2L1314.5 655.5L1315 666.7L1315.5 656L1316 648.4L1316.5 662.1L1317 685L1317.5 673.7L1318 685.2L1318.5 672L1319 694.1L1319.5 679.7L1320 670.5L1320.5 689.9L1321 682.4L1321.5 681.8L1322 687L1322.5 684.8L1323 664.2L1323.5 680.2L1324 659.1L1324.5 667.1L1325 676.3L1325.5 664.4L1326 664.6L1326.5 672.2L1327 669.6L1327.5 655L1328 667.9L1328.5 665L1329 651.9L1329.5 662.3L1330 643.5L1330.5 653.5L1331 666L1331.5 649.9L1332 672L1332.5 670L1333 663.7L1333.5 647.6L1334 670L1334.5 663L1335 670.7L1335.5 663.2L1336 664L1336.5 641.2L1337 669.6L1337.5 668.4L1338 655.8L1338.5 652.1L1339 664.1L1339.5 652.7L1340 656.9L1340.5 661.8L1341 668.4L1341.5 665.6L1342 658.6L1342.5 666.9L1343 642.2L1343.5 666.1L1344 667L1344.5 663.9L1345 667.4L1345.5 665.7L1346 648.2L1346.5 668.1L1347 663.1L1347.5 655.4L1348 664L1348.5 673.1L1349 669.3L1349.5 650.7L1350 671.1L1350.5 658.6L1351 621.8L1351.5 663L1352 677.5L1352.5 686.2L1353 681.1L1353.5 680.4L1354 681.6L1354.5 673.7L1355 679.1L1355.5 624.5L1356 673.1L1356.5 673.5L1357 673.8L1357.5 675.8L1358 674.5L1358.5 673.7L1359 669.2L1359.5 669.2L1360 666.8L1360.5 665.9L1361 665L1361.5 663.2L1362 660L1362.5 642.4L1363 656.9L1363.5 657.4L1364 657.1L1364.5 658.8L1365 650.7L1365.5 661.1L1366 634.6L1366.5 664L1367 664.2L1367.5 657.5L1368 666L1368.5 646.8L1369 670.4L1369.5 667.7L1370 671.8L1370.5 673.1L1371 675.6L1371.5 674.4L1372 682.2L1372.5 675.9L1373 683.1L1373.5 689L1374 689.2L1374.5 691.5L1375 691.2L1375.5 690.8L1376 628.6L1376.5 695.2L1377 695.4L1377.5 695.4L1378 698.1L1378.5 702.6L1379 705.2L1379.5 709.1L1380 709.1L1380.5 707.6L1381 698.5L1381.5 702.6L1382 700.9L1382.5 698.1L1383 673.3L1383.5 686.3L1384 690.6L1384.5 688L1385 684.9L1385.5 682.2L1386 683.9L1386.5 681.8L1387 680.7L1387.5 679.8L1388 679.8L1388.5 675.9L1389 676.9L1389.5 674L1390 672.8L1390.5 638.2L1391 661.1L1391.5 665.3L1392 666.7L1392.5 668.8L1393 663.3L1393.5 665.2L1394 666.3L1394.5 663.9L1395 661.3L1395.5 648.2L1396 662.4L1396.5 660.7L1397 645L1397.5 661.5L1398 660.2L1398.5 646.6L1399 634.9L1399.5 641.7L1400 636.5L1400.5 656.6L1401 652.1L1401.5 652.1L1402 640.4L1402.5 645L1403 650.7L1403.5 651.2L1404 648.9L1404.5 645.6L1405 646.6L1405.5 645.5L1406 645.2L1406.5 647.6L1407 640L1407.5 632.1L1408 637.7L1408.5 629.8L1409 640.9L1409.5 638.4L1410 623.2L1410.5 635.9L1411 640.6L1411.5 630L1412 639.2L1412.5 620.6L1413 647.6L1413.5 641.6L1414 640.7L1414.5 637.5L1415 645.1L1415.5 647.1L1416 647.8L1416.5 648.2L1417 641.3L1417.5 649.5L1418 644.3L1418.5 636.4L1419 648.5L1419.5 646.4L1420 639.4L1420.5 637.2L1421 638.6L1421.5 646.1L1422 643.5L1422.5 644.4L1423 652.4L1423.5 654.3L1424 653.7L1424.5 660.4L1425 660.1L1425.5 666.5L1426 658.6L1426.5 664.6L1427 671.1L1427.5 666.2L1428 669.3L1428.5 660.1L1429 662.9L1429.5 661.9L1430 659.2L1430.5 631.1L1431 659.8L1431.5 666.9L1432 658.9L1432.5 646.7L1433 660.9L1433.5 662L1434 652.7L1434.5 650.5L1435 652.9L1435.5 661.5L1436 661.7L1436.5 659.6L1437 661.8L1437.5 663.4L1438 661.9L1438.5 624.5L1439 660.2L1439.5 663.3L1440 661.7L1440.5 665L1441 657.1L1441.5 659L1442 658L1442.5 657L1443 662.6L1443.5 660.6L1444 663.1L1444.5 662.9L1445 662.6L1445.5 661.8L1446 662.6L1446.5 636.3L1447 665L1447.5 664.4L1448 666.3L1448.5 663.2L1449 661.5L1449.5 668.5L1450 660.9L1450.5 664.6L1451 664.1L1451.5 658.4L1452 661.3L1452.5 665.8L1453 665.3L1453.5 668.3L1454 660.3L1454.5 669.8L1455 668.4L1455.5 548.7L1456 669.7L1456.5 674.8L1457 648.2L1457.5 671.5L1458 674.6L1458.5 674.1L1459 676.1L1459.5 676.6L1460 671.1L1460.5 676.4L1461 676.9L1461.5 675.6L1462 678.1L1462.5 678L1463 677.8L1463.5 675.3L1464 672.3L1464.5 658L1465 674.4L1465.5 678.7L1466 677.9L1466.5 679.1L1467 679.4L1467.5 681.5L1468 681.7L1468.5 683.6L1469 677.4L1469.5 680.8L1470 682.5L1470.5 672L1471 679.3L1471.5 684.7L1472 622.4L1472.5 692.7L1473 689.4L1473.5 694.4L1474 690.7L1474.5 689.6L1475 691.7L1475.5 690.3L1476 696.2L1476.5 692.2L1477 693.7L1477.5 694.9L1478 694.4L1478.5 689.5L1479 692L1479.5 689.7L1480 690.8L1480.5 685.2L1481 681.7L1481.5 686.9L1482 685.9L1482.5 682.1L1483 678.7L1483.5 670.4L1484 689.6L1484.5 678.4L1485 648.6L1485.5 685.2L1486 610.9L1486.5 665.5L1487 684.1L1487.5 687.1L1488 682.3L1488.5 679.5L1489 682.1L1489.5 670.7L1490 682.6L1490.5 686.3L1491 680.9L1491.5 686.2L1492 683.6L1492.5 667.5L1493 663.4L1493.5 680.4L1494 681.9L1494.5 674.9L1495 680.1L1495.5 674L1496 674.8L1496.5 684.9L1497 675.3L1497.5 682.5L1498 684.3L1498.5 676.3L1499 676.7L1499.5 671.8L1500 670.1L1500.5 674.1L1501 669.9L1501.5 661.1L1502 666.9L1502.5 659.8L1503 670.1L1503.5 668.3L1504 663.5L1504.5 655.9L1505 668.4L1505.5 666.1L1506 657.8L1506.5 667.5L1507 665L1507.5 644.4L1508 646.3L1508.5 663L1509 665.8L1509.5 656.8L1510 661.9L1510.5 653.1L1511 665.4L1511.5 666.8L1512 666.3L1512.5 672.2L1513 667.7L1513.5 669.9L1514 670.9L1514.5 663L1515 672.6L1515.5 673.5L1516 668.5L1516.5 674.4L1517 673.8L1517.5 672.1L1518 671.3L1518.5 659.4L1519 658.9L1519.5 653.9L1520 643.5L1520.5 664.6L1521 663.4L1521.5 653.4L1522 665.3L1522.5 658L1523 663.1L1523.5 656.9L1524 659.2L1524.5 662.5L1525 658.5L1525.5 657.2L1526 651.3L1526.5 660.1L1527 661.1L1527.5 647.9L1528 661.2L1528.5 653.5L1529 651.4L1529.5 651L1530 653.9L1530.5 627.1L1531 640.2L1531.5 646.2L1532 648.2L1532.5 644.5L1533 645.4L1533.5 642.1L1534 646L1534.5 638L1535 642.4L1535.5 636.2L1536 640.2L1536.5 637.8L1537 634.1L1537.5 639.4L1538 631.7L1538.5 624.5L1539 636.9L1539.5 638.5L1540 638.4L1540.5 636.2L1541 608.3L1541.5 639.8L1542 638.6L1542.5 637.9L1543 636.7L1543.5 639.1L1544 640.8L1544.5 636.3L1545 620L1545.5 631.3L1546 638.6L1546.5 648.2L1547 645.4L1547.5 646.8L1548 613.6L1548.5 610.8L1549 647.4L1549.5 640.6L1550 638.6L1550.5 647.1L1551 636.4L1551.5 648.4L1552 637.9L1552.5 649.9L1553 650.6L1553.5 654L1554 654.6L1554.5 654.2L1555 647L1555.5 637.4L1556 648.5L1556.5 636.1L1557 644.5L1557.5 640.4L1558 643.2L1558.5 639.5L1559 639.7L1559.5 643.6L1560 614.3L1560.5 634.5L1561 638.9L1561.5 639.3L1562 626.3L1562.5 617.5L1563 609.1L1563.5 616.5L1564 623.4L1564.5 627.8L1565 619.9L1565.5 618.6L1566 608.5L1566.5 621.5L1567 601.7L1567.5 617.7L1568 619.2L1568.5 614.3L1569 610.6L1569.5 621.7L1570 614.9L1570.5 614.6L1571 618.5L1571.5 618.8L1572 612.3L1572.5 614.8L1573 609.4L1573.5 605L1574 615.7L1574.5 614.6L1575 609.6L1575.5 620.3L1576 620.5L1576.5 617.6L1577 619.1L1577.5 616.4L1578 611.9L1578.5 616.5L1579 606.5L1579.5 604.3L1580 600.4L1580.5 608.4L1581 601.7L1581.5 559.6L1582 606.9L1582.5 605L1583 571.4L1583.5 606.7L1584 604.1L1584.5 606.8L1585 591.3L1585.5 609.9L1586 605.4L1586.5 613.3L1587 615.4L1587.5 611.2L1588 620L1588.5 620.4L1589 608.1L1589.5 616L1590 624.3L1590.5 620L1591 618.9L1591.5 618.9L1592 628.9L1592.5 629.6L1593 627.8L1593.5 602.2L1594 605.5L1594.5 629L1595 626.8L1595.5 622.1L1596 629.2L1596.5 593.9L1597 625.2L1597.5 634.2L1598 626.1L1598.5 631.4L1599 630.1L1599.5 623.2L1600 632.3L1600.5 624.8L1601 622.3L1601.5 624.8L1602 629.2L1602.5 620.2L1603 625.6L1603.5 619.2L1604 622.8L1604.5 629.6L1605 617.7L1605.5 622.6L1606 627.1L1606.5 626.4L1607 621.3L1607.5 623.5L1608 619.3L1608.5 627.8L1609 622.9L1609.5 627.9L1610 622.2L1610.5 631.4L1611 631.3L1611.5 633.7L1612 636.5L1612.5 650.8L1613 646.8L1613.5 638.4L1614 641.4L1614.5 643.8L1615 647L1615.5 650.8L1616 648.5L1616.5 626L1617 636.2L1617.5 651.9L1618 646.8L1618.5 648.4L1619 638.1L1619.5 632.4L1620 650.1L1620.5 648.7L1621 652.8L1621.5 636.2L1622 647.4L1622.5 644.9L1623 650.3L1623.5 646.8L1624 644L1624.5 635.1L1625 639.3L1625.5 640.9L1626 644L1626.5 646.9L1627 644.6L1627.5 644.4L1628 643.2L1628.5 641.1L1629 638L1629.5 637.9L1630 632.6L1630.5 639.4L1631 639.5L1631.5 641.5L1632 618.1L1632.5 648.3L1633 632.5L1633.5 637.8L1634 651.8L1634.5 623.4L1635 637.1L1635.5 625.4L1636 654.4L1636.5 652.6L1637 654.8L1637.5 656.9L1638 652.7L1638.5 644.2L1639 655.3L1639.5 625.7L1640 642.9L1640.5 647.3L1641 654.5L1641.5 645.8L1642 647.3L1642.5 642.8L1643 647.2L1643.5 645.3L1644 646.8L1644.5 641.5L1645 625.5L1645.5 627.1L1646 636.6L1646.5 631.1L1647 639.4L1647.5 639.2L1648 631.3L1648.5 631.4L1649 623.1L1649.5 632.8L1650 623L1650.5 625.7L1651 629.1L1651.5 630.7L1652 629.6L1652.5 617.5L1653 619.2L1653.5 623.4L1654 614.5L1654.5 630.9L1655 630.6L1655.5 631.6L1656 619.6L1656.5 585.3L1657 626.1L1657.5 595.9L1658 620.1L1658.5 634.5L1659 632.9L1659.5 637.2L1660 632.6L1660.5 638.9L1661 630.1L1661.5 639.3L1662 631L1662.5 636.1L1663 633.6L1663.5 626.3L1664 634.7L1664.5 635.8L1665 636.1L1665.5 639.2L1666 638.8L1666.5 638.7L1667 625.1L1667.5 638.3L1668 623.1L1668.5 635.3L1669 633.8L1669.5 640.6L1670 639.5L1670.5 632.5L1671 621.5L1671.5 635.5L1672 641.4L1672.5 627.2L1673 639.9L1673.5 636.5L1674 638.9L1674.5 634.6L1675 632.9L1675.5 639.8L1676 637.7L1676.5 632.2L1677 634.8L1677.5 634.7L1678 630.5L1678.5 633.9L1679 628.5L1679.5 629.2L1680 630.4L1680.5 634.6L1681 633.9L1681.5 627.2L1682 632.6L1682.5 637.7L1683 635.1L1683.5 596.4L1684 635.8L1684.5 638.3L1685 636.8L1685.5 629.3L1686 629.8L1686.5 623.3L1687 637.1L1687.5 636.6L1688 635.2L1688.5 634.9L1689 633.7L1689.5 629.1L1690 636.9L1690.5 636.6L1691 612.8L1691.5 621.8L1692 629.7L1692.5 628.8L1693 626.9L1693.5 632.1L1694 631.8L1694.5 613.1L1695 629.3L1695.5 631.5L1696 630L1696.5 624.6L1697 629.7L1697.5 627.1L1698 605.9L1698.5 626.6L1699 612.7L1699.5 620.1L1700 612.6L1700.5 614L1701 593.2L1701.5 610L1702 609.8L1702.5 615.4L1703 612.4L1703.5 611.9L1704 614.7L1704.5 616.4L1705 611.5L1705.5 614.5L1706 605L1706.5 622.2L1707 622.6L1707.5 623.7L1708 619.9L1708.5 624.3L1709 624.2L1709.5 612.4L1710 576.8L1710.5 620.7L1711 628.8L1711.5 610.3L1712 607.6L1712.5 635L1713 630.9L1713.5 625L1714 636.9L1714.5 620.9L1715 624.2L1715.5 637L1716 642.8L1716.5 634.3L1717 638.8L1717.5 638.5L1718 641.3L1718.5 635.2L1719 629.3L1719.5 638.1L1720 636L1720.5 634L1721 636.8L1721.5 633.2L1722 630.8L1722.5 632.4L1723 626.5L1723.5 633.8L1724 634L1724.5 631.2L1725 630.3L1725.5 631.9L1726 629L1726.5 631.6L1726.5 647L1726 644.3L1725.5 653.1L1725 651.1L1724.5 655.1L1724 653L1723.5 649.4L1723 651.8L1722.5 651.9L1722 648.1L1721.5 651.9L1721 649.7L1720.5 658.3L1720 654.1L1719.5 653.7L1719 655.8L1718.5 655.1L1718 659.3L1717.5 657.3L1717 655L1716.5 654.8L1716 646.8L1715.5 646L1715 680.4L1714.5 645.7L1714 644.2L1713.5 666.4L1713 636L1712.5 661.7L1712 654.5L1711.5 641.3L1711 644.3L1710.5 641.5L1710 640.8L1709.5 636.8L1709 646.5L1708.5 643.2L1708 634.1L1707.5 650.2L1707 635.5L1706.5 624.9L1706 639.6L1705.5 619.8L1705 626.5L1704.5 621.3L1704 631.4L1703.5 618.3L1703 626.6L1702.5 721.3L1702 627.7L1701.5 627L1701 629.1L1700.5 632.9L1700 634L1699.5 636.3L1699 636L1698.5 630.5L1698 631.7L1697.5 642.7L1697 648.1L1696.5 635.6L1696 645.7L1695.5 636.7L1695 643.2L1694.5 635.5L1694 644.2L1693.5 637.7L1693 640.1L1692.5 645L1692 636.3L1691.5 641L1691 639.2L1690.5 651.6L1690 644.8L1689.5 643.8L1689 641.4L1688.5 653.7L1688 638.7L1687.5 641.4L1687 645.5L1686.5 643.6L1686 643.2L1685.5 673.4L1685 642.1L1684.5 639.2L1684 648.1L1683.5 644.2L1683 642.9L1682.5 648.2L1682 639.3L1681.5 648L1681 649.1L1680.5 635.5L1680 640.7L1679.5 637.5L1679 654.8L1678.5 639.9L1678 649.1L1677.5 645.1L1677 642.4L1676.5 642.6L1676 641L1675.5 640.4L1675 647.3L1674.5 643.8L1674 645.1L1673.5 642.4L1673 646.9L1672.5 646L1672 658L1671.5 654.8L1671 649L1670.5 643.5L1670 643.2L1669.5 659.7L1669 657.7L1668.5 663.1L1668 647.9L1667.5 649.5L1667 648.5L1666.5 651.8L1666 656.5L1665.5 675L1665 641L1664.5 661.4L1664 642.4L1663.5 647.8L1663 649.3L1662.5 646.9L1662 650.3L1661.5 670.4L1661 641.4L1660.5 642.9L1660 645.3L1659.5 639L1659 636.8L1658.5 661.8L1658 634.9L1657.5 660.2L1657 635.5L1656.5 634.4L1656 653.9L1655.5 644.7L1655 653.7L1654.5 639.4L1654 638.2L1653.5 650.8L1653 642.9L1652.5 636.4L1652 634.7L1651.5 646.5L1651 637L1650.5 635.5L1650 642.5L1649.5 637.6L1649 654.3L1648.5 646.4L1648 651.1L1647.5 640.9L1647 643.4L1646.5 656.1L1646 661.4L1645.5 653.8L1645 649.5L1644.5 644.2L1644 648L1643.5 654.6L1643 674.1L1642.5 655L1642 653.3L1641.5 653.1L1641 674.1L1640.5 664.5L1640 657.4L1639.5 656.3L1639 658.9L1638.5 658.8L1638 660.5L1637.5 674.5L1637 659.3L1636.5 660.7L1636 656.9L1635.5 677.7L1635 653.8L1634.5 664.2L1634 663.6L1633.5 656.5L1633 652L1632.5 658.5L1632 665.1L1631.5 649.1L1631 644.8L1630.5 649.2L1630 646.5L1629.5 653.6L1629 651.3L1628.5 649.2L1628 652.3L1627.5 646.9L1627 656.2L1626.5 654.7L1626 654.1L1625.5 656.4L1625 658.3L1624.5 655.2L1624 657.5L1623.5 653.3L1623 654.9L1622.5 670.3L1622 661.2L1621.5 673.7L1621 653.6L1620.5 655.3L1620 671.8L1619.5 658.2L1619 658.4L1618.5 660.6L1618 654.7L1617.5 656.8L1617 652.8L1616.5 661.4L1616 660.4L1615.5 655.8L1615 657.9L1614.5 659L1614 656.7L1613.5 654.1L1613 656.1L1612.5 664L1612 653.5L1611.5 644.2L1611 649.1L1610.5 636.6L1610 661.6L1609.5 644.1L1609 634.8L1608.5 638.3L1608 643.1L1607.5 633.6L1607 641.3L1606.5 632.7L1606 629.2L1605.5 629.3L1605 630.6L1604.5 643.2L1604 639.7L1603.5 638.3L1603 635.8L1602.5 634.9L1602 643.1L1601.5 629.5L1601 627L1600.5 628.5L1600 707.7L1599.5 642.4L1599 636.8L1598.5 638.2L1598 636.3L1597.5 646.1L1597 642.5L1596.5 642.1L1596 635L1595.5 641.1L1595 638.6L1594.5 632.3L1594 637.9L1593.5 712.6L1593 630.7L1592.5 638.4L1592 631.4L1591.5 631.2L1591 627.9L1590.5 635.4L1590 629.7L1589.5 624.9L1589 629.4L1588.5 644.2L1588 621.9L1587.5 618.4L1587 620.2L1586.5 624.9L1586 616.1L1585.5 630.6L1585 629.2L1584.5 609.7L1584 615.5L1583.5 607L1583 610.5L1582.5 617.9L1582 616.5L1581.5 608.7L1581 631.6L1580.5 615.3L1580 616.8L1579.5 612.4L1579 609.5L1578.5 624.1L1578 621.4L1577.5 629.9L1577 622.2L1576.5 620.9L1576 622.9L1575.5 627.4L1575 632.4L1574.5 626.6L1574 618.4L1573.5 621.3L1573 627.9L1572.5 625.6L1572 618.7L1571.5 633.9L1571 628.1L1570.5 629.2L1570 632.7L1569.5 623.3L1569 625.3L1568.5 636.5L1568 634.6L1567.5 632.9L1567 631.6L1566.5 628.8L1566 637.3L1565.5 636.1L1565 631.3L1564.5 629.1L1564 633.5L1563.5 629.7L1563 632.1L1562.5 634.3L1562 635.3L1561.5 648.8L1561 646.1L1560.5 645L1560 644.9L1559.5 646.7L1559 653.3L1558.5 657.9L1558 663.2L1557.5 653.9L1557 675L1556.5 649.6L1556 657L1555.5 655.3L1555 659.5L1554.5 665.8L1554 657.9L1553.5 654.3L1553 653.4L1552.5 655.2L1552 658.2L1551.5 670.9L1551 654.5L1550.5 655.4L1550 652.2L1549.5 651L1549 653.8L1548.5 668.1L1548 655.5L1547.5 652.1L1547 653L1546.5 658.1L1546 650L1545.5 655.9L1545 655.9L1544.5 644.8L1544 641.6L1543.5 641.2L1543 643.2L1542.5 641.9L1542 642.4L1541.5 643.1L1541 642.3L1540.5 642.3L1540 654.9L1539.5 653.6L1539 641.9L1538.5 640.8L1538 643.9L1537.5 642.5L1537 669.9L1536.5 644.9L1536 654.4L1535.5 643.1L1535 643.5L1534.5 644.6L1534 656.7L1533.5 654.6L1533 655.7L1532.5 652L1532 657.9L1531.5 657.3L1531 674.9L1530.5 656L1530 658L1529.5 661.9L1529 656.8L1528.5 657.6L1528 674.7L1527.5 665.4L1527 663.5L1526.5 672.9L1526 662.7L1525.5 665.1L1525 665.6L1524.5 663.8L1524 665.4L1523.5 665.9L1523 665.5L1522.5 666.6L1522 669.5L1521.5 667.4L1521 667L1520.5 692.2L1520 683.7L1519.5 675.2L1519 684L1518.5 688.6L1518 674.3L1517.5 679.9L1517 684.9L1516.5 683.6L1516 686.5L1515.5 705.2L1515 703.5L1514.5 686.4L1514 676.4L1513.5 681.4L1513 684L1512.5 681.7L1512 678.5L1511.5 672.5L1511 674.2L1510.5 676L1510 672.6L1509.5 684.3L1509 695.3L1508.5 665.2L1508 674.7L1507.5 669.2L1507 671.7L1506.5 670.3L1506 668.3L1505.5 672.4L1505 670L1504.5 670L1504 670.5L1503.5 678.8L1503 678.7L1502.5 673.1L1502 681.6L1501.5 682L1501 679.6L1500.5 683.5L1500 688.8L1499.5 696L1499 692.5L1498.5 693.8L1498 687.2L1497.5 689.5L1497 696.6L1496.5 695.5L1496 694.2L1495.5 692.9L1495 697.2L1494.5 697.5L1494 688.8L1493.5 686L1493 691.9L1492.5 687.4L1492 688.6L1491.5 687.2L1491 688.7L1490.5 692.6L1490 691.4L1489.5 685.7L1489 689.7L1488.5 688.8L1488 691L1487.5 699.4L1487 691.5L1486.5 697.7L1486 697L1485.5 693.9L1485 690.7L1484.5 689L1484 706.7L1483.5 714.5L1483 709.1L1482.5 714.5L1482 696.9L1481.5 695.3L1481 703.7L1480.5 701.8L1480 700L1479.5 708.4L1479 697.9L1478.5 699L1478 703.9L1477.5 696.9L1477 705.6L1476.5 725.7L1476 716.8L1475.5 709.4L1475 701.4L1474.5 698.3L1474 713.2L1473.5 697.5L1473 695.8L1472.5 713.4L1472 691.8L1471.5 699.4L1471 717.1L1470.5 691.7L1470 693.4L1469.5 701.7L1469 690.4L1468.5 685.8L1468 693.1L1467.5 681.5L1467 682.8L1466.5 680.4L1466 681.5L1465.5 684.1L1465 679.8L1464.5 680L1464 678.5L1463.5 680.8L1463 678.6L1462.5 682.5L1462 689.5L1461.5 680L1461 679.1L1460.5 702.1L1460 686.4L1459.5 678.2L1459 683.2L1458.5 677.7L1458 675.7L1457.5 680.1L1457 682.2L1456.5 678.9L1456 676.9L1455.5 679.9L1455 673.2L1454.5 672.1L1454 674.1L1453.5 668.7L1453 671.6L1452.5 670.9L1452 666.8L1451.5 679.9L1451 676L1450.5 674.8L1450 666.6L1449.5 675.2L1449 667.2L1448.5 668.8L1448 671.5L1447.5 669.4L1447 674.6L1446.5 668.8L1446 675.5L1445.5 667L1445 666.3L1444.5 668.7L1444 667.3L1443.5 668.3L1443 686.7L1442.5 671L1442 669.1L1441.5 664.7L1441 670.8L1440.5 665.3L1440 710.4L1439.5 665L1439 663.1L1438.5 665.4L1438 665.3L1437.5 664.4L1437 662.7L1436.5 665.7L1436 662.9L1435.5 665.7L1435 670.4L1434.5 670.9L1434 666.2L1433.5 663.9L1433 665.6L1432.5 665.8L1432 674.4L1431.5 676.2L1431 672.7L1430.5 705L1430 679L1429.5 674.8L1429 673L1428.5 687.8L1428 673.1L1427.5 673.4L1427 682.4L1426.5 674.1L1426 671L1425.5 724.6L1425 666.3L1424.5 661.3L1424 676.5L1423.5 681.2L1423 661.9L1422.5 652.5L1422 686.5L1421.5 654.7L1421 653.9L1420.5 661.2L1420 653.4L1419.5 656.4L1419 652.5L1418.5 650.4L1418 664L1417.5 657.6L1417 658.7L1416.5 649.5L1416 656.1L1415.5 663.8L1415 659.7L1414.5 650.9L1414 672L1413.5 655.4L1413 652.5L1412.5 648.1L1412 646.5L1411.5 645.2L1411 648.1L1410.5 654.4L1410 646.7L1409.5 649.6L1409 660L1408.5 647.1L1408 651.5L1407.5 650.3L1407 649.9L1406.5 654.4L1406 658.8L1405.5 666.3L1405 652.6L1404.5 681L1404 653.3L1403.5 655.1L1403 666.2L1402.5 667.3L1402 677.2L1401.5 666.2L1401 658.8L1400.5 670L1400 656.8L1399.5 660.8L1399 659.5L1398.5 667.9L1398 662.5L1397.5 668.4L1397 665.7L1396.5 665.5L1396 663.3L1395.5 664.3L1395 666.3L1394.5 669.7L1394 671.9L1393.5 672.2L1393 673.2L1392.5 671.4L1392 668.6L1391.5 671.7L1391 675.3L1390.5 677.9L1390 677.9L1389.5 681.1L1389 698.1L1388.5 684.9L1388 683.5L1387.5 680.9L1387 694.1L1386.5 686.2L1386 692.9L1385.5 687.8L1385 687.9L1384.5 689.5L1384 714.3L1383.5 740.4L1383 698.1L1382.5 703.5L1382 703.4L1381.5 706.6L1381 707.2L1380.5 710.5L1380 750L1379.5 711L1379 707.8L1378.5 704.1L1378 729.5L1377.5 700L1377 700.6L1376.5 701.2L1376 699.5L1375.5 708.8L1375 695.2L1374.5 693.8L1374 710.2L1373.5 689.1L1373 688.7L1372.5 684.2L1372 687.2L1371.5 679.4L1371 685.9L1370.5 676.8L1370 676.4L1369.5 673.1L1369 675L1368.5 669.1L1368 668.1L1367.5 667.6L1367 666.9L1366.5 665.9L1366 664.7L1365.5 663.4L1365 668.1L1364.5 664.7L1364 660L1363.5 665.8L1363 662.9L1362.5 664.3L1362 667.4L1361.5 666.2L1361 671.1L1360.5 673.6L1360 675.8L1359.5 670.7L1359 677.6L1358.5 674.7L1358 679.9L1357.5 677.5L1357 692.3L1356.5 702.6L1356 686.1L1355.5 693.7L1355 698.2L1354.5 683.5L1354 692.9L1353.5 688.6L1353 687.5L1352.5 696.5L1352 694.8L1351.5 687.9L1351 703.5L1350.5 682L1350 695.8L1349.5 728.2L1349 684.2L1348.5 703.2L1348 687.3L1347.5 672.1L1347 675.1L1346.5 688.3L1346 668.5L1345.5 737.7L1345 679.2L1344.5 700.2L1344 673L1343.5 671.6L1343 679.9L1342.5 678.1L1342 669.7L1341.5 675.5L1341 675.6L1340.5 670.5L1340 675.3L1339.5 671.6L1339 674.3L1338.5 670.8L1338 672.5L1337.5 669.2L1337 670.8L1336.5 673.3L1336 674.8L1335.5 681L1335 673.7L1334.5 676.3L1334 695.3L1333.5 688L1333 674.1L1332.5 679.1L1332 696L1331.5 678.3L1331 686.3L1330.5 679.2L1330 684.3L1329.5 674.6L1329 676L1328.5 678.3L1328 676.1L1327.5 684.6L1327 694.5L1326.5 677.2L1326 679.5L1325.5 692.8L1325 688.4L1324.5 690.7L1324 699.7L1323.5 705.8L1323 697.8L1322.5 707L1322 694.8L1321.5 695.6L1321 695L1320.5 723.9L1320 699L1319.5 721.3L1319 703.6L1318.5 694.9L1318 692.1L1317.5 691.4L1317 717.3L1316.5 713.1L1316 697.7L1315.5 705L1315 688.9L1314.5 711.1L1314 692.3L1313.5 693.5L1313 695L1312.5 687.6L1312 701.6L1311.5 687.7L1311 678.8L1310.5 681.3L1310 684.3L1309.5 678.7L1309 677.5L1308.5 690.4L1308 671.5L1307.5 673L1307 673.3L1306.5 669.4L1306 679.3L1305.5 674.2L1305 667.8L1304.5 676.5L1304 677.6L1303.5 668.2L1303 664.9L1302.5 709.1L1302 662.3L1301.5 662.1L1301 662.3L1300.5 668.2L1300 659.2L1299.5 660.5L1299 657.2L1298.5 664.9L1298 655.4L1297.5 682.7L1297 689.2L1296.5 654.9L1296 657L1295.5 703.6L1295 651L1294.5 649.3L1294 650.4L1293.5 649.6L1293 649.4L1292.5 651.4L1292 658.1L1291.5 651.4L1291 656.3L1290.5 650.6L1290 652.8L1289.5 655.9L1289 651L1288.5 654.1L1288 661.2L1287.5 662.3L1287 668.4L1286.5 653.6L1286 653.9L1285.5 663.8L1285 679.3L1284.5 663.4L1284 673L1283.5 661.6L1283 659.1L1282.5 669.2L1282 681.1L1281.5 663.5L1281 665.6L1280.5 660.8L1280 667.1L1279.5 684.8L1279 672.1L1278.5 666.5L1278 672.2L1277.5 672.8L1277 665.1L1276.5 669.8L1276 666.5L1275.5 668.2L1275 682.3L1274.5 670.7L1274 694.6L1273.5 665.3L1273 670.8L1272.5 665.1L1272 679.4L1271.5 664.3L1271 661.5L1270.5 654.9L1270 662.8L1269.5 650.4L1269 660.1L1268.5 664.5L1268 662.8L1267.5 654.8L1267 669.6L1266.5 668.2L1266 658.7L1265.5 698.2L1265 655.8L1264.5 662.1L1264 666.4L1263.5 652.8L1263 664.1L1262.5 652L1262 657L1261.5 656.7L1261 673.1L1260.5 661.9L1260 665.2L1259.5 660.9L1259 663.5L1258.5 658.6L1258 659.9L1257.5 673.2L1257 672.4L1256.5 650.7L1256 686.7L1255.5 660.8L1255 681.8L1254.5 662.6L1254 659.7L1253.5 664.4L1253 665.4L1252.5 681.6L1252 667.5L1251.5 661.1L1251 659.3L1250.5 662.6L1250 658.2L1249.5 658.4L1249 660.3L1248.5 664.8L1248 660.6L1247.5 669.6L1247 661.2L1246.5 658.3L1246 659.8L1245.5 657.1L1245 664L1244.5 657.6L1244 656.2L1243.5 680.5L1243 679.6L1242.5 656.6L1242 658.5L1241.5 658L1241 669.8L1240.5 652L1240 655.3L1239.5 653.8L1239 656L1238.5 657.4L1238 658.8L1237.5 658.4L1237 654.5L1236.5 681L1236 659.4L1235.5 666.3L1235 662.4L1234.5 659.1L1234 674.2L1233.5 663L1233 657.5L1232.5 653.5L1232 656.6L1231.5 654.9L1231 660.3L1230.5 660.4L1230 657.9L1229.5 657.7L1229 658.1L1228.5 671.2L1228 677.8L1227.5 665.4L1227 688.5L1226.5 674.4L1226 689.7L1225.5 680.7L1225 679.1L1224.5 677.4L1224 683.7L1223.5 689.5L1223 684.8L1222.5 687.2L1222 710.4L1221.5 694.8L1221 693.8L1220.5 690L1220 687.3L1219.5 690.6L1219 687.1L1218.5 690.9L1218 686.4L1217.5 706.4L1217 683.9L1216.5 681.7L1216 690.4L1215.5 702.2L1215 690.1L1214.5 694.7L1214 687.8L1213.5 684.5L1213 685L1212.5 682.4L1212 684.7L1211.5 682.7L1211 681L1210.5 684.7L1210 682.9L1209.5 701.8L1209 700.9L1208.5 677.3L1208 700.7L1207.5 681L1207 674.4L1206.5 675.2L1206 689.2L1205.5 670.3Z" fill="#f00" stroke="#f00" stroke-width="2" stroke-linejoin="round" clip-path="url(#r2)"/>
<line x1="1726" y1="478" x2="1726" y2="822" stroke="#1f77b4" stroke-width="2" stroke-dasharray="2.05 3.45"/>
<line x1="1244.5" y1="822" x2="1244.5" y2="816.6" stroke="#000" stroke-width="1.1"/>
<line x1="1319.5" y1="822" x2="1319.5" y2="816.6" stroke="#000" stroke-width="1.1"/>
<line x1="1393.5" y1="822" x2="1393.5" y2="816.6" stroke="#000" stroke-width="1.1"/>
<line x1="1468.5" y1="822" x2="1468.5" y2="816.6" stroke="#000" stroke-width="1.1"/>
<line x1="1542.5" y1="822" x2="1542.5" y2="816.6" stroke="#000" stroke-width="1.1"/>
<line x1="1616.5" y1="822" x2="1616.5" y2="816.6" stroke="#000" stroke-width="1.1"/>
<line x1="1691.5" y1="822" x2="1691.5" y2="816.6" stroke="#000" stroke-width="1.1"/>
<line x1="1765.5" y1="822" x2="1765.5" y2="816.6" stroke="#000" stroke-width="1.1"/>
<line x1="1205" y1="787.5" x2="1210.4" y2="787.5" stroke="#000" stroke-width="1.1"/>
<text x="1198.7" y="795" font-size="19.44" text-anchor="end" fill="#000">−400</text>
<line x1="1205" y1="718.5" x2="1210.4" y2="718.5" stroke="#000" stroke-width="1.1"/>
<text x="1198.7" y="726" font-size="19.44" text-anchor="end" fill="#000">−300</text>
<line x1="1205" y1="649.5" x2="1210.4" y2="649.5" stroke="#000" stroke-width="1.1"/>
<text x="1198.7" y="657" font-size="19.44" text-anchor="end" fill="#000">−200</text>
<line x1="1205" y1="581.5" x2="1210.4" y2="581.5" stroke="#000" stroke-width="1.1"/>
<text x="1198.7" y="589" font-size="19.44" text-anchor="end" fill="#000">−100</text>
<line x1="1205" y1="512.5" x2="1210.4" y2="512.5" stroke="#000" stroke-width="1.1"/>
<text x="1200.4" y="520" font-size="19.44" text-anchor="end" fill="#000">0</text>
<line x1="1800" y1="822" x2="1795.1" y2="822" stroke="#f00" stroke-width="1.1"/>
<text x="1806.5" y="829.9" font-size="19.44" text-anchor="start" fill="#f00">10<tspan dy="-7.48" font-size="13.61">−2</tspan></text>
<line x1="1800" y1="796.5" x2="1797.1" y2="796.5" stroke="#f00" stroke-width="0.85"/>
<line x1="1800" y1="780.5" x2="1797.1" y2="780.5" stroke="#f00" stroke-width="0.85"/>
<line x1="1800" y1="770.5" x2="1797.1" y2="770.5" stroke="#f00" stroke-width="0.85"/>
<line x1="1800" y1="761.5" x2="1797.1" y2="761.5" stroke="#f00" stroke-width="0.85"/>
<line x1="1800" y1="755.5" x2="1797.1" y2="755.5" stroke="#f00" stroke-width="0.85"/>
<line x1="1800" y1="749.5" x2="1797.1" y2="749.5" stroke="#f00" stroke-width="0.85"/>
<line x1="1800" y1="744.5" x2="1797.1" y2="744.5" stroke="#f00" stroke-width="0.85"/>
<line x1="1800" y1="739.5" x2="1797.1" y2="739.5" stroke="#f00" stroke-width="0.85"/>
<line x1="1800" y1="735.5" x2="1795.1" y2="735.5" stroke="#f00" stroke-width="1.1"/>
<text x="1806.5" y="743.4" font-size="19.44" text-anchor="start" fill="#f00">10<tspan dy="-7.48" font-size="13.61">−1</tspan></text>
<line x1="1800" y1="710.5" x2="1797.1" y2="710.5" stroke="#f00" stroke-width="0.85"/>
<line x1="1800" y1="694.5" x2="1797.1" y2="694.5" stroke="#f00" stroke-width="0.85"/>
<line x1="1800" y1="684.5" x2="1797.1" y2="684.5" stroke="#f00" stroke-width="0.85"/>
<line x1="1800" y1="675.5" x2="1797.1" y2="675.5" stroke="#f00" stroke-width="0.85"/>
<line x1="1800" y1="669.5" x2="1797.1" y2="669.5" stroke="#f00" stroke-width="0.85"/>
<line x1="1800" y1="663.5" x2="1797.1" y2="663.5" stroke="#f00" stroke-width="0.85"/>
<line x1="1800" y1="658.5" x2="1797.1" y2="658.5" stroke="#f00" stroke-width="0.85"/>
<line x1="1800" y1="653.5" x2="1797.1" y2="653.5" stroke="#f00" stroke-width="0.85"/>
<line x1="1800" y1="649.5" x2="1795.1" y2="649.5" stroke="#f00" stroke-width="1.1"/>
<text x="1806.5" y="657.4" font-size="19.44" text-anchor="start" fill="#f00">10<tspan dy="-7.48" font-size="13.61">0</tspan></text>
<line x1="1800" y1="624.5" x2="1797.1" y2="624.5" stroke="#f00" stroke-width="0.85"/>
<line x1="1800" y1="608.5" x2="1797.1" y2="608.5" stroke="#f00" stroke-width="0.85"/>
<line x1="1800" y1="598.5" x2="1797.1" y2="598.5" stroke="#f00" stroke-width="0.85"/>
<line x1="1800" y1="589.5" x2="1797.1" y2="589.5" stroke="#f00" stroke-width="0.85"/>
<line x1="1800" y1="583.5" x2="1797.1" y2="583.5" stroke="#f00" stroke-width="0.85"/>
<line x1="1800" y1="577.5" x2="1797.1" y2="577.5" stroke="#f00" stroke-width="0.85"/>
<line x1="1800" y1="572.5" x2="1797.1" y2="572.5" stroke="#f00" stroke-width="0.85"/>
<line x1="1800" y1="567.5" x2="1797.1" y2="567.5" stroke="#f00" stroke-width="0.85"/>
<line x1="1800" y1="563.5" x2="1795.1" y2="563.5" stroke="#f00" stroke-width="1.1"/>
<text x="1806.5" y="571.4" font-size="19.44" text-anchor="start" fill="#f00">10<tspan dy="-7.48" font-size="13.61">1</tspan></text>
<line x1="1800" y1="538.5" x2="1797.1" y2="538.5" stroke="#f00" stroke-width="0.85"/>
<line x1="1800" y1="522.5" x2="1797.1" y2="522.5" stroke="#f00" stroke-width="0.85"/>
<line x1="1800" y1="512.5" x2="1797.1" y2="512.5" stroke="#f00" stroke-width="0.85"/>
<line x1="1800" y1="503.5" x2="1797.1" y2="503.5" stroke="#f00" stroke-width="0.85"/>
<line x1="1800" y1="497.5" x2="1797.1" y2="497.5" stroke="#f00" stroke-width="0.85"/>
<line x1="1800" y1="491.5" x2="1797.1" y2="491.5" stroke="#f00" stroke-width="0.85"/>
<line x1="1800" y1="486.5" x2="1797.1" y2="486.5" stroke="#f00" stroke-width="0.85"/>
<line x1="1800" y1="481.5" x2="1797.1" y2="481.5" stroke="#f00" stroke-width="0.85"/>
<line x1="1800" y1="478" x2="1795.1" y2="478" stroke="#f00" stroke-width="1.1"/>
<text x="1806.5" y="485.9" font-size="19.44" text-anchor="start" fill="#f00">10<tspan dy="-7.48" font-size="13.61">2</tspan></text>
<path d="M1800 478V822" stroke="#f00" stroke-width="2" fill="none" stroke-linecap="square"/>
<path d="M1205 478H1800M1205 822H1800M1205 478V822" stroke="#000" stroke-width="2" fill="none" stroke-linecap="square"/>
<text x="1104.7" y="653.4" font-size="24" text-anchor="middle" fill="#000" transform="rotate(-90 1104.7 653.4)">Dst</text>
<text x="1132.8" y="650.6" font-size="24" text-anchor="middle" fill="#000" transform="rotate(-90 1132.8 650.6)">( nT )</text>
<text x="1875.2" y="650.2" font-size="24" text-anchor="middle" fill="#f00" transform="rotate(-90 1875.2 650.2)">SW Pressure</text>
<text x="1905.2" y="649" font-size="24" text-anchor="middle" fill="#f00" transform="rotate(-90 1905.2 649)">( nPa )</text>
<line x1="1205" y1="931" x2="1800" y2="931" stroke="#000" stroke-width="2" stroke-dasharray="2.05 3.45"/>
<path d="M1205.5 997.5L1206 991.3L1206.5 992.1L1207 995.9L1207.5 987L1208 993.4L1208.5 995.2L1209 988.1L1209.5 995.4L1210 995.1L1210.5 991.4L1211 992L1211.5 995.1L1212 997.5L1212.5 992.7L1213 996.1L1213.5 997.2L1214 992.9L1214.5 988.9L1215 994.7L1215.5 997L1216 996.2L1216.5 998.7L1217 988.5L1217.5 993.8L1218 996.7L1218.5 993.3L1219 998L1219.5 998.2L1220 996.2L1220.5 994.4L1221 996.8L1221.5 987.2L1222 994.8L1222.5 990L1223 988.9L1223.5 996L1224 993.6L1224.5 994.7L1225 990.7L1225.5 995.1L1226 997.3L1226.5 990.8L1227 989.1L1227.5 993.5L1228 997.4L1228.5 997.3L1229 995.6L1229.5 990.7L1230 997.3L1230.5 979.8L1231 997.1L1231.5 996.8L1232 994.7L1232.5 995.5L1233 995.2L1233.5 994.2L1234 993.4L1234.5 996.2L1235 995.6L1235.5 984.8L1236 995.8L1236.5 993L1237 991.8L1237.5 993.1L1238 994.8L1238.5 996.4L1239 990.2L1239.5 993.3L1240 997.3L1240.5 995.7L1241 996.9L1241.5 983.1L1242 995.5L1242.5 987.4L1243 991.6L1243.5 993.3L1244 994.6L1244.5 991L1245 995.2L1245.5 995.9L1246 995.8L1246.5 984.8L1247 995.5L1247.5 985.6L1248 997.2L1248.5 997.9L1249 995.2L1249.5 997.7L1250 994.8L1250.5 993.2L1251 986.3L1251.5 996.8L1252 991.5L1252.5 990.7L1253 996.8L1253.5 996.3L1254 997.7L1254.5 985.2L1255 994.6L1255.5 994.1L1256 998L1256.5 993.1L1257 997.9L1257.5 997.4L1258 994.6L1258.5 996.6L1259 987.3L1259.5 990.8L1260 995.6L1260.5 997.7L1261 998.3L1261.5 996.4L1262 989.1L1262.5 998.1L1263 998.6L1263.5 997.4L1264 994.6L1264.5 995.5L1265 990.8L1265.5 997.5L1266 994.6L1266.5 987.7L1267 993.2L1267.5 992.8L1268 991.4L1268.5 994.9L1269 998.2L1269.5 991.8L1270 998.1L1270.5 996.5L1271 997.5L1271.5 990.3L1272 996L1272.5 993.5L1273 997.7L1273.5 990.1L1274 998.2L1274.5 997.5L1275 992.1L1275.5 994.8L1276 994.3L1276.5 990.2L1277 985.3L1277.5 991.8L1278 990.1L1278.5 992.1L1279 992.9L1279.5 990.8L1280 994.7L1280.5 993.5L1281 997.7L1281.5 991.2L1282 994L1282.5 997.8L1283 989.4L1283.5 995.3L1284 996.8L1284.5 985.6L1285 988.2L1285.5 997.5L1286 996.2L1286.5 996.9L1287 995.2L1287.5 991.7L1288 986.8L1288.5 995.7L1289 997.1L1289.5 991.8L1290 996.3L1290.5 994.6L1291 994.7L1291.5 995.9L1292 988.2L1292.5 990.9L1293 990.2L1293.5 994.6L1294 987.4L1294.5 995.9L1295 996.6L1295.5 989.1L1296 990.9L1296.5 995.4L1297 995.1L1297.5 996.8L1298 993.8L1298.5 995.8L1299 996.7L1299.5 993.8L1300 996.8L1300.5 997L1301 991.3L1301.5 988L1302 995.5L1302.5 989.2L1303 995.2L1303.5 986.2L1304 991.1L1304.5 990.1L1305 994.2L1305.5 994.8L1306 984.8L1306.5 993.8L1307 996.2L1307.5 994.6L1308 994L1308.5 996.8L1309 995.7L1309.5 993.3L1310 991.4L1310.5 994.3L1311 987.9L1311.5 987.7L1312 995.1L1312.5 991.8L1313 996.3L1313.5 995.7L1314 998.1L1314.5 992.2L1315 993.6L1315.5 996.8L1316 994.8L1316.5 996L1317 990.6L1317.5 996.6L1318 995.8L1318.5 992.3L1319 994.2L1319.5 997.9L1320 998L1320.5 990.6L1321 995.2L1321.5 992.9L1322 998L1322.5 991.4L1323 994.6L1323.5 990.7L1324 985.4L1324.5 995.6L1325 996.7L1325.5 996.7L1326 997.6L1326.5 998L1327 997.1L1327.5 993.7L1328 993.1L1328.5 996.8L1329 994.6L1329.5 995.3L1330 997.1L1330.5 996.8L1331 995.5L1331.5 997.7L1332 991.6L1332.5 991.9L1333 982.7L1333.5 994L1334 991.9L1334.5 995.4L1335 995.1L1335.5 996.3L1336 997L1336.5 996.5L1337 997.3L1337.5 998.1L1338 997.6L1338.5 997.1L1339 995.1L1339.5 997.4L1340 992.3L1340.5 993.4L1341 997.3L1341.5 991.5L1342 986.8L1342.5 997.8L1343 996.8L1343.5 994.8L1344 992L1344.5 997.7L1345 993.5L1345.5 997.3L1346 990.4L1346.5 992.7L1347 995.4L1347.5 998.6L1348 998.7L1348.5 994.7L1349 997.5L1349.5 991.5L1350 995.8L1350.5 991.6L1351 991.6L1351.5 995.6L1352 995.4L1352.5 996.4L1353 996.3L1353.5 997.1L1354 993.3L1354.5 994.6L1355 996.1L1355.5 988.4L1356 996.9L1356.5 990.5L1357 987.4L1357.5 990L1358 994.5L1358.5 998.2L1359 993.4L1359.5 996.1L1360 993.5L1360.5 992.3L1361 995.8L1361.5 995.6L1362 997.1L1362.5 989.7L1363 993.8L1363.5 998.1L1364 994.2L1364.5 994.6L1365 992.4L1365.5 992L1366 994.7L1366.5 997L1367 997.2L1367.5 995.5L1368 993.5L1368.5 990L1369 990.2L1369.5 996.6L1370 990.5L1370.5 993.4L1371 990.8L1371.5 989.8L1372 996.3L1372.5 996L1373 996.4L1373.5 996.8L1374 996L1374.5 996.5L1375 997.3L1375.5 995L1376 995.4L1376.5 995.4L1377 990.1L1377.5 996.6L1378 995.9L1378.5 995.4L1379 994L1379.5 997.2L1380 997.6L1380.5 996.7L1381 996.7L1381.5 993.1L1382 994.2L1382.5 995L1383 997.3L1383.5 995.5L1384 987.9L1384.5 989.1L1385 997.1L1385.5 991.5L1386 990.6L1386.5 994.7L1387 994.2L1387.5 996.2L1388 996.9L1388.5 991.9L1389 990.2L1389.5 994L1390 995.6L1390.5 997.2L1391 997.3L1391.5 994.2L1392 996.4L1392.5 997.2L1393 992.5L1393.5 992.6L1394 996.1L1394.5 992.1L1395 995.9L1395.5 988.1L1396 992.5L1396.5 995.2L1397 988.5L1397.5 997.8L1398 996.2L1398.5 993.3L1399 995.5L1399.5 994.8L1400 992.8L1400.5 996.1L1401 995.9L1401.5 987.7L1402 986.7L1402.5 991.7L1403 990.2L1403.5 995.4L1404 990.4L1404.5 992.6L1405 992.9L1405.5 990.9L1406 997.1L1406.5 995.3L1407 996.6L1407.5 995.7L1408 995.9L1408.5 994L1409 995.9L1409.5 993.5L1410 996.9L1410.5 993.9L1411 990.8L1411.5 997.3L1412 989.3L1412.5 993.2L1413 994.8L1413.5 995.4L1414 997.1L1414.5 996.6L1415 996.9L1415.5 995.4L1416 996.7L1416.5 995.1L1417 997.1L1417.5 993.7L1418 995L1418.5 996.9L1419 996.5L1419.5 994.3L1420 990.5L1420.5 996.7L1421 996.7L1421.5 996.3L1422 987.8L1422.5 996.6L1423 996.1L1423.5 995.1L1424 996.6L1424.5 986.7L1424.5 1017.7L1424 1017.8L1423.5 1003.3L1423 1009.9L1422.5 1004.9L1422 1003.5L1421.5 1005.4L1421 1011.4L1420.5 1005.5L1420 1003.6L1419.5 1005.1L1419 1004.5L1418.5 1006.4L1418 1006.4L1417.5 1004.5L1417 1005.1L1416.5 1005.5L1416 1012L1415.5 1010.4L1415 1003.5L1414.5 1006.3L1414 1008.1L1413.5 1008.2L1413 1004.4L1412.5 1012L1412 1009.7L1411.5 1005.2L1411 1005.5L1410.5 1004.5L1410 1003.3L1409.5 1006.6L1409 1007.1L1408.5 1007.6L1408 1003.9L1407.5 1005.1L1407 1008.9L1406.5 1005.9L1406 1008.5L1405.5 1005.5L1405 1004.1L1404.5 1004L1404 1003.6L1403.5 1007.7L1403 1004.6L1402.5 1004.1L1402 1004.1L1401.5 1003.9L1401 1004.6L1400.5 1006.2L1400 1013.6L1399.5 1010.8L1399 1009.6L1398.5 1006.1L1398 1005L1397.5 1006.1L1397 1007.9L1396.5 1006.1L1396 1006.9L1395.5 1006.5L1395 1006.2L1394.5 1005.1L1394 1004.2L1393.5 1005.6L1393 1008.5L1392.5 1008.6L1392 1006L1391.5 1006.5L1391 1004L1390.5 1007.5L1390 1011.1L1389.5 1004L1389 1003.9L1388.5 1003.8L1388 1010.8L1387.5 1004.4L1387 1003.9L1386.5 1007.7L1386 1011.7L1385.5 1009.3L1385 1009.3L1384.5 1005.7L1384 1004.6L1383.5 1005.6L1383 1013L1382.5 1004.3L1382 1007L1381.5 1005.5L1381 1009.6L1380.5 1004.6L1380 1007.5L1379.5 1009.3L1379 1006.2L1378.5 1004.8L1378 1004.6L1377.5 1006.9L1377 1004.5L1376.5 1004.4L1376 1010.7L1375.5 1004.1L1375 1005.2L1374.5 1004.4L1374 1009.4L1373.5 1008.3L1373 1009L1372.5 1011.5L1372 1008.4L1371.5 1006.6L1371 1003.4L1370.5 1003.5L1370 1006.8L1369.5 1008.9L1369 1003.7L1368.5 1012.2L1368 1003.6L1367.5 1014.7L1367 1004.5L1366.5 1010.5L1366 1005.2L1365.5 1010.8L1365 1006.6L1364.5 1010.9L1364 1005.4L1363.5 1009.3L1363 1004.9L1362.5 1006.2L1362 1005.2L1361.5 1005.4L1361 1007.5L1360.5 1007.1L1360 1005.4L1359.5 1004.9L1359 1009.4L1358.5 1006L1358 1013.5L1357.5 1009.4L1357 1005.5L1356.5 1004.5L1356 1009.2L1355.5 1005.9L1355 1005.7L1354.5 1004.3L1354 1008.1L1353.5 1006.8L1353 1005.1L1352.5 1009.8L1352 1009.5L1351.5 1005.6L1351 1004.8L1350.5 1014.1L1350 1010.9L1349.5 1005.3L1349 1005.1L1348.5 1006.2L1348 1007.9L1347.5 1008.3L1347 1005.5L1346.5 1006.9L1346 1004.9L1345.5 1007.2L1345 1006.4L1344.5 1006.4L1344 1007.9L1343.5 1012.4L1343 1010.3L1342.5 1006.3L1342 1011.6L1341.5 1012.9L1341 1006.6L1340.5 1004.7L1340 1007.3L1339.5 1004.8L1339 1006.2L1338.5 1008.1L1338 1009.8L1337.5 1004.5L1337 1006.1L1336.5 1004.9L1336 1006.7L1335.5 1004.4L1335 1008L1334.5 1004.9L1334 1006.8L1333.5 1011L1333 1012L1332.5 1004.8L1332 1006.9L1331.5 1006.3L1331 1010.3L1330.5 1004.3L1330 1004.4L1329.5 1005.7L1329 1011.4L1328.5 1004.5L1328 1004.4L1327.5 1006.8L1327 1013.8L1326.5 1007.3L1326 1007.4L1325.5 1009.9L1325 1004.7L1324.5 1005.4L1324 1011.1L1323.5 1008.3L1323 1008.7L1322.5 1005.8L1322 1005.6L1321.5 1004.4L1321 1008L1320.5 1004.6L1320 1006.8L1319.5 1005.4L1319 1003.8L1318.5 1003.4L1318 1003.1L1317.5 1003.8L1317 1005.8L1316.5 1004.3L1316 1004.1L1315.5 1004.5L1315 1004.7L1314.5 1007.6L1314 1007.2L1313.5 1006.1L1313 1004.8L1312.5 1005.2L1312 1004.7L1311.5 1007L1311 1003.7L1310.5 1005.6L1310 1005.2L1309.5 1004.4L1309 1007.1L1308.5 1010.3L1308 1002.8L1307.5 1005.2L1307 1004.2L1306.5 1007.7L1306 1004.3L1305.5 1004.6L1305 1006.6L1304.5 1006.3L1304 1004.2L1303.5 1003.6L1303 1008.7L1302.5 1003.2L1302 1005.8L1301.5 1005.5L1301 1003.7L1300.5 1004.3L1300 1007.9L1299.5 1004.6L1299 1003.9L1298.5 1003.8L1298 1006.6L1297.5 1003.7L1297 1005.2L1296.5 1006.2L1296 1003.7L1295.5 1004.5L1295 1007.6L1294.5 1003.9L1294 1005.3L1293.5 1008.2L1293 1003.6L1292.5 1004.4L1292 1007.6L1291.5 1005.1L1291 1004.3L1290.5 1004.4L1290 1005.2L1289.5 1005L1289 1005.6L1288.5 1004.6L1288 1007.1L1287.5 1004.8L1287 1005.4L1286.5 1011L1286 1006.9L1285.5 1006.6L1285 1004.6L1284.5 1006.6L1284 1012.1L1283.5 1011.4L1283 1004.4L1282.5 1006.9L1282 1008L1281.5 1010.1L1281 1007.8L1280.5 1008.1L1280 1004.5L1279.5 1006.7L1279 1012.4L1278.5 1008L1278 1005L1277.5 1004.2L1277 1007.2L1276.5 1008.1L1276 1008.5L1275.5 1007.6L1275 1008.1L1274.5 1005.1L1274 1009.5L1273.5 1005L1273 1013L1272.5 1007.1L1272 1005L1271.5 1004.6L1271 1008L1270.5 1004.8L1270 1008.8L1269.5 1013.8L1269 1005.3L1268.5 1006.8L1268 1005.7L1267.5 1004.6L1267 1004.5L1266.5 1004.2L1266 1005.7L1265.5 1007L1265 1004.1L1264.5 1004.3L1264 1006.2L1263.5 1006L1263 1009.1L1262.5 1005.2L1262 1009.2L1261.5 1009.8L1261 1007.6L1260.5 1005.6L1260 1009.3L1259.5 1006.3L1259 1004.9L1258.5 1004L1258 1003.9L1257.5 1006.5L1257 1010L1256.5 1011.9L1256 1009.3L1255.5 1007.2L1255 1004.3L1254.5 1005.4L1254 1004.9L1253.5 1005.5L1253 1008.6L1252.5 1014.4L1252 1004.2L1251.5 1011.9L1251 1008.1L1250.5 1008.8L1250 1009.2L1249.5 1004.3L1249 1003.7L1248.5 1008.5L1248 1004.6L1247.5 1004.6L1247 1006L1246.5 1005.7L1246 1008.4L1245.5 1006.2L1245 1004.6L1244.5 1003.3L1244 1005.9L1243.5 1004.4L1243 1008.9L1242.5 1005.3L1242 1005.1L1241.5 1003.6L1241 1006.7L1240.5 1005.2L1240 1008.3L1239.5 1007.3L1239 1006.3L1238.5 1006.1L1238 1009.1L1237.5 1005.3L1237 1002.7L1236.5 1003.4L1236 1003.1L1235.5 1003.5L1235 1002.6L1234.5 1013.8L1234 1006.1L1233.5 1003.8L1233 1002.3L1232.5 1006.6L1232 1004.3L1231.5 1004L1231 1004L1230.5 1004.3L1230 1008L1229.5 1007.4L1229 1011.2L1228.5 1005.3L1228 1011.8L1227.5 1005.9L1227 1005L1226.5 1010L1226 1007.1L1225.5 1004.9L1225 1004.8L1224.5 1013.3L1224 1005.2L1223.5 1005.5L1223 1005.3L1222.5 1006.1L1222 1008.6L1221.5 1003.7L1221 1006.8L1220.5 1006.1L1220 1011L1219.5 1006.6L1219 1011.8L1218.5 1005.6L1218 1009.3L1217.5 1005L1217 1005.1L1216.5 1016L1216 1005.5L1215.5 1006.1L1215 1008.5L1214.5 1008.2L1214 1010.8L1213.5 1010.2L1213 1005.6L1212.5 1009.3L1212 1009.1L1211.5 1006.8L1211 1007.3L1210.5 1004.3L1210 1003.2L1209.5 1007.1L1209 1012.9L1208.5 1004.2L1208 1005L1207.5 1004.7L1207 1005L1206.5 1006.5L1206 1003.8L1205.5 1003.7Z" fill="#000" stroke="#000" stroke-width="1.5" stroke-linejoin="round" clip-path="url(#r3)"/>
<path d="M1477.2 997.5L1477.7 992.5L1478.2 987.5L1478.7 996.9L1479.2 997.5L1479.7 989.2L1480.2 992.6L1480.7 993.5L1481.2 997.5L1481.7 992.7L1482.2 987.7L1482.7 997.4L1483.2 995.1L1483.7 993.3L1484.2 996.2L1484.7 997.3L1485.2 996.6L1485.7 994.1L1486.2 995.6L1486.7 995.4L1487.2 994.8L1487.7 994L1488.2 997.7L1488.7 997.7L1489.2 988.8L1489.7 995.3L1490.2 998.2L1490.7 997.9L1491.2 995.8L1491.7 997.3L1492.2 997.5L1492.7 990.9L1493.2 989.4L1493.7 991.1L1494.2 997.6L1494.7 993.6L1495.2 997.2L1495.7 996.2L1496.2 987.3L1496.7 989.4L1497.2 996.7L1497.7 994.2L1498.2 996.2L1498.7 990.8L1499.2 991.6L1499.7 994.1L1500.2 996.4L1500.7 996L1501.2 995L1501.7 995.7L1502.2 995.2L1502.7 993L1503.2 996.2L1503.7 993.1L1504.2 988.9L1504.7 995.2L1505.2 996.8L1505.7 994.9L1506.2 993.9L1506.7 996.1L1507.2 996.3L1507.7 994L1508.2 996.1L1508.7 990.9L1509.2 995.4L1509.7 996.7L1510.2 995.9L1510.7 996.2L1511.2 988.6L1511.7 989L1512.2 997.3L1512.7 994.6L1513.2 994.8L1513.7 997.7L1514.2 995.6L1514.7 989.8L1515.2 991.9L1515.7 995.3L1516.2 996.4L1516.7 996.9L1517.2 991L1517.7 993.8L1518.2 989.1L1518.7 997.7L1519.2 998.1L1519.7 994.1L1520.2 998.1L1520.7 989.4L1521.2 985.9L1521.7 995.8L1522.2 994.7L1522.7 997.5L1523.2 993.7L1523.7 990.4L1524.2 997.3L1524.7 987.9L1525.2 994.3L1525.7 995.5L1526.2 991.9L1526.7 997.1L1527.2 997.4L1527.7 994.8L1528.2 996.3L1528.7 994.5L1529.2 997.4L1529.7 996.9L1530.2 994.7L1530.7 995.7L1531.2 997.3L1531.7 993.5L1532.2 996.9L1532.7 995.8L1533.2 994L1533.7 994.6L1534.2 988L1534.7 997L1535.2 996.5L1535.7 992.7L1536.2 997.2L1536.7 996.6L1537.2 995L1537.7 996.8L1538.2 995.9L1538.7 997L1539.2 996.2L1539.7 994.8L1540.2 995.9L1540.7 993.6L1541.2 979.8L1541.7 995.9L1542.2 996.7L1542.7 996.6L1543.2 992.1L1543.7 990.9L1544.2 984.3L1544.7 992.8L1545.2 993.3L1545.7 996.1L1546.2 982L1546.7 991.3L1547.2 996.8L1547.7 990.7L1548.2 992.5L1548.7 996.6L1549.2 993.8L1549.7 995.7L1550.2 997.5L1550.7 996.8L1551.2 994.8L1551.7 994.3L1552.2 994.7L1552.7 997.4L1553.2 994.4L1553.7 995.6L1554.2 995L1554.7 996.4L1555.2 988.2L1555.7 996.1L1556.2 981.2L1556.7 993.1L1557.2 993.8L1557.7 994.4L1558.2 996.4L1558.7 988L1559.2 990.9L1559.7 994.6L1560.2 996.3L1560.7 993.2L1561.2 988L1561.7 989.4L1562.2 995.5L1562.7 995L1563.2 990.8L1563.7 995.3L1564.2 996L1564.7 994.9L1565.2 995L1565.7 987.1L1566.2 989.9L1566.7 995.1L1567.2 991.9L1567.7 994.2L1568.2 996.4L1568.7 988.3L1569.2 994.3L1569.7 992.1L1570.2 996.1L1570.7 997.1L1571.2 989.5L1571.7 996.7L1572.2 997L1572.7 985.6L1573.2 994.7L1573.7 992L1574.2 992.4L1574.7 998.5L1575.2 995.2L1575.7 998.5L1576.2 998.1L1576.7 998L1577.2 998.7L1577.7 995.8L1578.2 998.7L1578.7 992.4L1579.2 982.3L1579.7 998.3L1580.2 996.7L1580.7 998.8L1581.2 996L1581.7 989.9L1582.2 998L1582.7 996.6L1583.2 991.8L1583.7 988.5L1584.2 995.3L1584.7 993.9L1585.2 987.9L1585.7 995L1586.2 997.9L1586.7 997.1L1587.2 988.8L1587.7 996.9L1588.2 995.8L1588.7 993.7L1589.2 989.3L1589.7 996.6L1590.2 997.5L1590.7 996L1591.2 997.7L1591.7 997.9L1592.2 993.8L1592.7 993.1L1593.2 998.2L1593.7 997.9L1594.2 994.6L1594.7 996.1L1595.2 995.6L1595.7 995.7L1596.2 995.2L1596.7 995.3L1597.2 997L1597.7 997L1598.2 996.7L1598.7 995.6L1599.2 996.1L1599.7 993.5L1600.2 993.9L1600.7 992.9L1601.2 995.4L1601.7 987.8L1602.2 994.7L1602.7 991.4L1603.2 995.5L1603.7 993.9L1604.2 995.3L1604.7 995.5L1605.2 987.5L1605.7 993.8L1606.2 992.9L1606.7 988L1607.2 989.4L1607.7 994.8L1608.2 997.2L1608.7 995L1609.2 987.6L1609.7 993.5L1610.2 992.8L1610.7 989.9L1611.2 995.8L1611.7 997.1L1612.2 995.3L1612.7 996.6L1613.2 994.4L1613.7 991.9L1614.2 994.2L1614.7 994.1L1615.2 997.2L1615.7 996.2L1616.2 996.5L1616.7 992.8L1617.2 993.5L1617.7 995.4L1618.2 994.1L1618.7 994.6L1619.2 988.2L1619.7 991.3L1620.2 995.3L1620.7 985.5L1621.2 993.3L1621.7 993.2L1622.2 996.6L1622.7 993.3L1623.2 985.9L1623.7 995.3L1624.2 994.5L1624.7 993.5L1625.2 993.7L1625.7 985.8L1626.2 998.6L1626.7 997.5L1627.2 995.4L1627.7 993.5L1628.2 996.3L1628.7 997.1L1629.2 995L1629.7 996.9L1630.2 997.5L1630.7 995.7L1631.2 995L1631.7 990.3L1632.2 994.2L1632.7 993.4L1633.2 995.8L1633.7 993.1L1634.2 995.8L1634.7 995.3L1635.2 994.7L1635.7 997.4L1636.2 995.7L1636.7 995.5L1637.2 994.2L1637.7 997L1638.2 995L1638.7 992.9L1639.2 997.2L1639.7 995.4L1640.2 985.9L1640.7 994.4L1641.2 994.1L1641.7 996.6L1642.2 996.3L1642.7 996.3L1643.2 996.6L1643.7 988.8L1644.2 994.1L1644.7 996.8L1645.2 995.7L1645.7 995.9L1646.2 995.6L1646.7 995.4L1647.2 995.7L1647.7 989.2L1648.2 997.4L1648.7 995.4L1649.2 996.6L1649.7 995L1650.2 997L1650.7 994L1651.2 996.9L1651.7 997.5L1652.2 997L1652.7 991.4L1653.2 991.5L1653.7 997.1L1654.2 996.3L1654.7 996.9L1655.2 991.8L1655.7 997.8L1656.2 992.2L1656.7 996.2L1657.2 995.2L1657.7 996.6L1658.2 995.8L1658.7 996L1659.2 997L1659.7 988.4L1660.2 997.5L1660.7 990.5L1661.2 997.1L1661.7 993L1662.2 996.7L1662.7 993.7L1663.2 994.9L1663.7 992.2L1664.2 995.4L1664.7 994.4L1665.2 997.8L1665.7 991.6L1666.2 994.3L1666.7 982.5L1667.2 992.8L1667.7 995.2L1668.2 998.2L1668.7 997.1L1669.2 986.6L1669.7 994.9L1670.2 994.2L1670.7 997L1671.2 996.2L1671.7 996.3L1672.2 997.8L1672.7 987.3L1673.2 995.3L1673.7 985L1674.2 990.5L1674.7 994.8L1675.2 994.8L1675.7 994.9L1676.2 997.5L1676.7 987.8L1677.2 998.1L1677.7 997.1L1678.2 992.1L1678.7 994.1L1679.2 995.5L1679.7 996.8L1680.2 992.1L1680.7 985.4L1681.2 995.6L1681.7 996.9L1682.2 994.9L1682.7 992.9L1683.2 995.7L1683.7 991.5L1684.2 995.9L1684.7 993.9L1685.2 996.1L1685.7 994.4L1686.2 995.4L1686.7 995.3L1687.2 996.3L1687.7 995.6L1688.2 994.9L1688.7 997.1L1689.2 995.7L1689.7 995L1690.2 995.8L1690.7 987.6L1691.2 993L1691.7 997.5L1692.2 994.1L1692.7 996.5L1693.2 989L1693.7 996.2L1694.2 994.6L1694.7 992.3L1695.2 995.3L1695.7 990.5L1696.2 988.4L1696.7 995.8L1697.2 996.5L1697.7 990.8L1698.2 996.5L1698.7 993.6L1699.2 994.1L1699.7 997.2L1700.2 996.1L1700.7 987.5L1701.2 997.6L1701.7 991.8L1702.2 991.9L1702.7 997.5L1703.2 993.1L1703.7 997L1704.2 996.1L1704.7 995.4L1705.2 991.2L1705.7 991.2L1706.2 995.8L1706.7 988.6L1707.2 992.9L1707.7 994.9L1708.2 996.5L1708.7 993.2L1709.2 996.1L1709.7 994.3L1710.2 993.2L1710.7 989L1711.2 996.4L1711.7 994.6L1712.2 995.1L1712.7 996.5L1713.2 994.6L1713.7 995.8L1714.2 996.3L1714.7 997.1L1715.2 996.5L1715.7 994.5L1716.2 997.8L1716.7 994.9L1717.2 997.7L1717.7 995.2L1718.2 991.5L1718.7 995.4L1719.2 992.5L1719.7 997L1720.2 997.8L1720.7 992.3L1721.2 996.7L1721.7 996.3L1722.2 994.9L1722.7 990.1L1723.2 991.9L1723.7 996.1L1724.2 990.5L1724.7 986.6L1725.2 987.5L1725.7 995.7L1726.2 994.9L1726.2 1006.6L1725.7 1003.9L1725.2 1004.6L1724.7 1005L1724.2 1003.7L1723.7 1007.1L1723.2 1003.6L1722.7 1006.8L1722.2 1002.7L1721.7 1003.2L1721.2 1003.2L1720.7 1010.3L1720.2 1005.7L1719.7 1004.8L1719.2 1004.2L1718.7 1005L1718.2 1005.4L1717.7 1011.9L1717.2 1008.2L1716.7 1004.9L1716.2 1004.6L1715.7 1010.8L1715.2 1008.6L1714.7 1014.2L1714.2 1005L1713.7 1005.3L1713.2 1003.7L1712.7 1008.1L1712.2 1004.5L1711.7 1003.9L1711.2 1004.6L1710.7 1005.8L1710.2 1004.3L1709.7 1003.7L1709.2 1009.8L1708.7 1003.5L1708.2 1008.6L1707.7 1005.2L1707.2 1004L1706.7 1004L1706.2 1003.8L1705.7 1004.1L1705.2 1007.5L1704.7 1004L1704.2 1009.6L1703.7 1007.1L1703.2 1005.9L1702.7 1005.7L1702.2 1007L1701.7 1006.8L1701.2 1006.2L1700.7 1011.5L1700.2 1008L1699.7 1003.6L1699.2 1003.2L1698.7 1013.7L1698.2 1004.6L1697.7 1004.9L1697.2 1004.1L1696.7 1007.6L1696.2 1003.4L1695.7 1004.1L1695.2 1006.1L1694.7 1003.2L1694.2 1003.6L1693.7 1008.5L1693.2 1006.5L1692.7 1007.5L1692.2 1011.2L1691.7 1009.1L1691.2 1006.3L1690.7 1006.9L1690.2 1004.4L1689.7 1006.1L1689.2 1006.6L1688.7 1004.5L1688.2 1009.9L1687.7 1005.1L1687.2 1005.8L1686.7 1013.2L1686.2 1008.1L1685.7 1006.4L1685.2 1003.5L1684.7 1004.9L1684.2 1004.9L1683.7 1005L1683.2 1010L1682.7 1003.7L1682.2 1006.3L1681.7 1003.9L1681.2 1004.6L1680.7 1007.1L1680.2 1005.5L1679.7 1009.9L1679.2 1004.7L1678.7 1006.3L1678.2 1014.7L1677.7 1009.9L1677.2 1005.7L1676.7 1004.3L1676.2 1004.3L1675.7 1004L1675.2 1003.5L1674.7 1003.4L1674.2 1006.2L1673.7 1003.2L1673.2 1007.9L1672.7 1004.6L1672.2 1004.7L1671.7 1004.9L1671.2 1006.4L1670.7 1004.6L1670.2 1007.3L1669.7 1006.8L1669.2 1004.2L1668.7 1009L1668.2 1005.1L1667.7 1014.3L1667.2 1004.6L1666.7 1004.5L1666.2 1004.7L1665.7 1006.9L1665.2 1013.1L1664.7 1005.1L1664.2 1005.5L1663.7 1006.8L1663.2 1008L1662.7 1007.9L1662.2 1004.6L1661.7 1005L1661.2 1011.1L1660.7 1005L1660.2 1004.3L1659.7 1007.2L1659.2 1005L1658.7 1009.2L1658.2 1005.4L1657.7 1006.5L1657.2 1005.4L1656.7 1008.2L1656.2 1005.9L1655.7 1004.8L1655.2 1004.9L1654.7 1005.5L1654.2 1011.9L1653.7 1008.3L1653.2 1005.9L1652.7 1005.9L1652.2 1005.3L1651.7 1007.8L1651.2 1007.2L1650.7 1008.7L1650.2 1004.6L1649.7 1005.9L1649.2 1004.5L1648.7 1010.7L1648.2 1005.2L1647.7 1009.3L1647.2 1008.4L1646.7 1009.7L1646.2 1004.9L1645.7 1004.8L1645.2 1005.1L1644.7 1005L1644.2 1004.2L1643.7 1003.5L1643.2 1006.2L1642.7 1003.1L1642.2 1005.3L1641.7 1005.4L1641.2 1007.5L1640.7 1005.6L1640.2 1005.7L1639.7 1008.1L1639.2 1007.4L1638.7 1012.7L1638.2 1005.6L1637.7 1009.2L1637.2 1005.6L1636.7 1013.7L1636.2 1004.5L1635.7 1009.2L1635.2 1009.1L1634.7 1006L1634.2 1007.7L1633.7 1007.1L1633.2 1003.7L1632.7 1005.5L1632.2 1008.4L1631.7 1006L1631.2 1006L1630.7 1005.2L1630.2 1005.1L1629.7 1006.7L1629.2 1015.6L1628.7 1009.9L1628.2 1005.1L1627.7 1007.1L1627.2 1006.6L1626.7 1005.4L1626.2 1008.9L1625.7 1004.8L1625.2 1004.7L1624.7 1006.3L1624.2 1006.3L1623.7 1003.6L1623.2 1003.6L1622.7 1007.6L1622.2 1008.4L1621.7 1003.5L1621.2 1005.7L1620.7 1003.3L1620.2 1008.1L1619.7 1005.7L1619.2 1009.8L1618.7 1012.7L1618.2 1004.5L1617.7 1006.4L1617.2 1008.5L1616.7 1008.9L1616.2 1004.1L1615.7 1009.3L1615.2 1006.7L1614.7 1009.4L1614.2 1009.3L1613.7 1004.4L1613.2 1014L1612.7 1005.4L1612.2 1009.9L1611.7 1005.4L1611.2 1007L1610.7 1004.6L1610.2 1003.8L1609.7 1006.2L1609.2 1010.9L1608.7 1005.3L1608.2 1003.8L1607.7 1009.6L1607.2 1004.2L1606.7 1003.6L1606.2 1003.9L1605.7 1005.7L1605.2 1003L1604.7 1002.9L1604.2 1004.5L1603.7 1004L1603.2 1008.9L1602.7 1003.8L1602.2 1006.7L1601.7 1002.9L1601.2 1012.5L1600.7 1008.2L1600.2 1008.6L1599.7 1004.4L1599.2 1010.3L1598.7 1003.4L1598.2 1004.8L1597.7 1004.3L1597.2 1007.6L1596.7 1004.6L1596.2 1005.1L1595.7 1009.4L1595.2 1005.3L1594.7 1012.8L1594.2 1004.5L1593.7 1004.5L1593.2 1005.8L1592.7 1005.7L1592.2 1005.2L1591.7 1005.1L1591.2 1010.4L1590.7 1007L1590.2 1006.3L1589.7 1008.6L1589.2 1004.4L1588.7 1011.9L1588.2 1005.9L1587.7 1009.2L1587.2 1004.6L1586.7 1004.5L1586.2 1004.6L1585.7 1008.3L1585.2 1010.3L1584.7 1009.4L1584.2 1007.5L1583.7 1006.3L1583.2 1006.8L1582.7 1004.6L1582.2 1008.2L1581.7 1008.1L1581.2 1007.1L1580.7 1006.8L1580.2 1007.4L1579.7 1005.8L1579.2 1008.9L1578.7 1006.8L1578.2 1005.8L1577.7 1006.5L1577.2 1006.3L1576.7 1007.8L1576.2 1008.7L1575.7 1009.6L1575.2 1007.7L1574.7 1006.4L1574.2 1006.9L1573.7 1004.6L1573.2 1007.3L1572.7 1005.4L1572.2 1007.4L1571.7 1006L1571.2 1004.8L1570.7 1009.9L1570.2 1003.4L1569.7 1003.9L1569.2 1007L1568.7 1003.9L1568.2 1004L1567.7 1006.4L1567.2 1005L1566.7 1003.1L1566.2 1003.8L1565.7 1004.5L1565.2 1006.3L1564.7 1004.2L1564.2 1005.6L1563.7 1003.8L1563.2 1004.5L1562.7 1005.3L1562.2 1003.7L1561.7 1004.4L1561.2 1005.4L1560.7 1005.7L1560.2 1004.9L1559.7 1004L1559.2 1003.8L1558.7 1008.3L1558.2 1004L1557.7 1007.8L1557.2 1006.4L1556.7 1003.9L1556.2 1004.2L1555.7 1004L1555.2 1006.9L1554.7 1004.4L1554.2 1007.9L1553.7 1008.2L1553.2 1008.6L1552.7 1012L1552.2 1012L1551.7 1006.6L1551.2 1004.4L1550.7 1005L1550.2 1006.3L1549.7 1007.1L1549.2 1004L1548.7 1006.3L1548.2 1004.9L1547.7 1007.5L1547.2 1006.8L1546.7 1004.8L1546.2 1004.5L1545.7 1004L1545.2 1005.6L1544.7 1005.9L1544.2 1004.2L1543.7 1006.3L1543.2 1004.6L1542.7 1007.9L1542.2 1004.9L1541.7 1011.2L1541.2 1010.9L1540.7 1003.6L1540.2 1005.9L1539.7 1009L1539.2 1008.3L1538.7 1013.4L1538.2 1014.6L1537.7 1004.7L1537.2 1003.4L1536.7 1004.2L1536.2 1007.1L1535.7 1003.8L1535.2 1005.6L1534.7 1003.4L1534.2 1009.7L1533.7 1003.4L1533.2 1004.1L1532.7 1004.9L1532.2 1004.7L1531.7 1007.2L1531.2 1012.2L1530.7 1004.8L1530.2 1008.4L1529.7 1004.1L1529.2 1004.8L1528.7 1007.4L1528.2 1006.2L1527.7 1005L1527.2 1007.7L1526.7 1004.6L1526.2 1007.1L1525.7 1004.7L1525.2 1008.9L1524.7 1014.9L1524.2 1003.7L1523.7 1006.8L1523.2 1005.5L1522.7 1004.6L1522.2 1005.2L1521.7 1010.3L1521.2 1012.8L1520.7 1005.6L1520.2 1006.8L1519.7 1006.9L1519.2 1006L1518.7 1004.7L1518.2 1005.2L1517.7 1007.8L1517.2 1005.1L1516.7 1009.2L1516.2 1003.5L1515.7 1005.5L1515.2 1004.8L1514.7 1004.5L1514.2 1004.2L1513.7 1005.1L1513.2 1005.2L1512.7 1004.9L1512.2 1007.5L1511.7 1007.9L1511.2 1005.9L1510.7 1004.6L1510.2 1004.1L1509.7 1003.4L1509.2 1008.7L1508.7 1005.4L1508.2 1003L1507.7 1005L1507.2 1004L1506.7 1004.6L1506.2 1004.8L1505.7 1005.2L1505.2 1004L1504.7 1004.6L1504.2 1002.7L1503.7 1004.9L1503.2 1003.8L1502.7 1007L1502.2 1002.8L1501.7 1009.9L1501.2 1002.7L1500.7 1003.8L1500.2 1003L1499.7 1002.4L1499.2 1006.6L1498.7 1004.2L1498.2 1002.9L1497.7 1005.3L1497.2 1003L1496.7 1003.4L1496.2 1012.4L1495.7 1004.7L1495.2 1003.5L1494.7 1005.7L1494.2 1006.3L1493.7 1004.9L1493.2 1003.8L1492.7 1005.4L1492.2 1007.7L1491.7 1003.8L1491.2 1004.7L1490.7 1010.3L1490.2 1007.3L1489.7 1007.1L1489.2 1010.5L1488.7 1005.7L1488.2 1009.5L1487.7 1007.3L1487.2 1006.8L1486.7 1008L1486.2 1010.9L1485.7 1010L1485.2 1004.3L1484.7 1005.4L1484.2 1009.1L1483.7 1004.6L1483.2 1014L1482.7 1006.4L1482.2 1009.2L1481.7 1005.8L1481.2 1005.2L1480.7 1008.1L1480.2 1011.1L1479.7 1007.8L1479.2 1008.6L1478.7 1005L1478.2 1010L1477.7 1018.5L1477.2 1018.5Z" fill="#000" stroke="#000" stroke-width="1.5" stroke-linejoin="round" clip-path="url(#r3)"/>
<path d="M1560.3 1000V1017" stroke="#000" stroke-width="3" clip-path="url(#r3)"/>
<line x1="1726" y1="845" x2="1726" y2="1017" stroke="#1f77b4" stroke-width="2" stroke-dasharray="2.05 3.45"/>
<line x1="1244.5" y1="1017" x2="1244.5" y2="1011.6" stroke="#000" stroke-width="1.1"/>
<text x="1244.28" y="1037.3" font-size="19.44" text-anchor="middle" fill="#000">24</text>
<line x1="1319.5" y1="1017" x2="1319.5" y2="1011.6" stroke="#000" stroke-width="1.1"/>
<text x="1318.65" y="1037.3" font-size="19.44" text-anchor="middle" fill="#000">25</text>
<line x1="1393.5" y1="1017" x2="1393.5" y2="1011.6" stroke="#000" stroke-width="1.1"/>
<text x="1393.03" y="1037.3" font-size="19.44" text-anchor="middle" fill="#000">26</text>
<line x1="1468.5" y1="1017" x2="1468.5" y2="1011.6" stroke="#000" stroke-width="1.1"/>
<text x="1467.4" y="1037.3" font-size="19.44" text-anchor="middle" fill="#000">27</text>
<line x1="1542.5" y1="1017" x2="1542.5" y2="1011.6" stroke="#000" stroke-width="1.1"/>
<text x="1541.78" y="1037.3" font-size="19.44" text-anchor="middle" fill="#000">28</text>
<line x1="1616.5" y1="1017" x2="1616.5" y2="1011.6" stroke="#000" stroke-width="1.1"/>
<text x="1616.15" y="1037.3" font-size="19.44" text-anchor="middle" fill="#000">29</text>
<line x1="1691.5" y1="1017" x2="1691.5" y2="1011.6" stroke="#000" stroke-width="1.1"/>
<text x="1690.53" y="1037.3" font-size="19.44" text-anchor="middle" fill="#000">30</text>
<line x1="1765.5" y1="1017" x2="1765.5" y2="1011.6" stroke="#000" stroke-width="1.1"/>
<text x="1764.9" y="1037.3" font-size="19.44" text-anchor="middle" fill="#000">31</text>
<line x1="1205" y1="1017" x2="1210.4" y2="1017" stroke="#000" stroke-width="1.1"/>
<text x="1199.5" y="1024.9" font-size="19.44" text-anchor="end" fill="#000">10<tspan dy="-7.48" font-size="13.61">−1</tspan></text>
<line x1="1205" y1="1004.5" x2="1208.6" y2="1004.5" stroke="#000" stroke-width="0.85"/>
<line x1="1205" y1="996.5" x2="1208.6" y2="996.5" stroke="#000" stroke-width="0.85"/>
<line x1="1205" y1="991.5" x2="1208.6" y2="991.5" stroke="#000" stroke-width="0.85"/>
<line x1="1205" y1="986.5" x2="1208.6" y2="986.5" stroke="#000" stroke-width="0.85"/>
<line x1="1205" y1="983.5" x2="1208.6" y2="983.5" stroke="#000" stroke-width="0.85"/>
<line x1="1205" y1="980.5" x2="1208.6" y2="980.5" stroke="#000" stroke-width="0.85"/>
<line x1="1205" y1="978.5" x2="1208.6" y2="978.5" stroke="#000" stroke-width="0.85"/>
<line x1="1205" y1="975.5" x2="1208.6" y2="975.5" stroke="#000" stroke-width="0.85"/>
<line x1="1205" y1="973.5" x2="1210.4" y2="973.5" stroke="#000" stroke-width="1.1"/>
<text x="1199.5" y="981.4" font-size="19.44" text-anchor="end" fill="#000">10<tspan dy="-7.48" font-size="13.61">0</tspan></text>
<line x1="1205" y1="961.5" x2="1208.6" y2="961.5" stroke="#000" stroke-width="0.85"/>
<line x1="1205" y1="953.5" x2="1208.6" y2="953.5" stroke="#000" stroke-width="0.85"/>
<line x1="1205" y1="948.5" x2="1208.6" y2="948.5" stroke="#000" stroke-width="0.85"/>
<line x1="1205" y1="943.5" x2="1208.6" y2="943.5" stroke="#000" stroke-width="0.85"/>
<line x1="1205" y1="940.5" x2="1208.6" y2="940.5" stroke="#000" stroke-width="0.85"/>
<line x1="1205" y1="937.5" x2="1208.6" y2="937.5" stroke="#000" stroke-width="0.85"/>
<line x1="1205" y1="935.5" x2="1208.6" y2="935.5" stroke="#000" stroke-width="0.85"/>
<line x1="1205" y1="932.5" x2="1208.6" y2="932.5" stroke="#000" stroke-width="0.85"/>
<line x1="1205" y1="930.5" x2="1210.4" y2="930.5" stroke="#000" stroke-width="1.1"/>
<text x="1199.5" y="938.4" font-size="19.44" text-anchor="end" fill="#000">10<tspan dy="-7.48" font-size="13.61">1</tspan></text>
<line x1="1205" y1="918.5" x2="1208.6" y2="918.5" stroke="#000" stroke-width="0.85"/>
<line x1="1205" y1="910.5" x2="1208.6" y2="910.5" stroke="#000" stroke-width="0.85"/>
<line x1="1205" y1="905.5" x2="1208.6" y2="905.5" stroke="#000" stroke-width="0.85"/>
<line x1="1205" y1="900.5" x2="1208.6" y2="900.5" stroke="#000" stroke-width="0.85"/>
<line x1="1205" y1="897.5" x2="1208.6" y2="897.5" stroke="#000" stroke-width="0.85"/>
<line x1="1205" y1="894.5" x2="1208.6" y2="894.5" stroke="#000" stroke-width="0.85"/>
<line x1="1205" y1="892.5" x2="1208.6" y2="892.5" stroke="#000" stroke-width="0.85"/>
<line x1="1205" y1="889.5" x2="1208.6" y2="889.5" stroke="#000" stroke-width="0.85"/>
<line x1="1205" y1="887.5" x2="1210.4" y2="887.5" stroke="#000" stroke-width="1.1"/>
<text x="1199.5" y="895.4" font-size="19.44" text-anchor="end" fill="#000">10<tspan dy="-7.48" font-size="13.61">2</tspan></text>
<line x1="1205" y1="875.5" x2="1208.6" y2="875.5" stroke="#000" stroke-width="0.85"/>
<line x1="1205" y1="867.5" x2="1208.6" y2="867.5" stroke="#000" stroke-width="0.85"/>
<line x1="1205" y1="862.5" x2="1208.6" y2="862.5" stroke="#000" stroke-width="0.85"/>
<line x1="1205" y1="857.5" x2="1208.6" y2="857.5" stroke="#000" stroke-width="0.85"/>
<line x1="1205" y1="854.5" x2="1208.6" y2="854.5" stroke="#000" stroke-width="0.85"/>
<line x1="1205" y1="851.5" x2="1208.6" y2="851.5" stroke="#000" stroke-width="0.85"/>
<line x1="1205" y1="849.5" x2="1208.6" y2="849.5" stroke="#000" stroke-width="0.85"/>
<line x1="1205" y1="846.5" x2="1208.6" y2="846.5" stroke="#000" stroke-width="0.85"/>
<line x1="1205" y1="845" x2="1210.4" y2="845" stroke="#000" stroke-width="1.1"/>
<text x="1199.5" y="852.9" font-size="19.44" text-anchor="end" fill="#000">10<tspan dy="-7.48" font-size="13.61">3</tspan></text>
<line x1="1800" y1="1017" x2="1794.6" y2="1017" stroke="#000" stroke-width="1.1"/>
<line x1="1800" y1="1004.5" x2="1796.4" y2="1004.5" stroke="#000" stroke-width="0.85"/>
<line x1="1800" y1="996.5" x2="1796.4" y2="996.5" stroke="#000" stroke-width="0.85"/>
<line x1="1800" y1="991.5" x2="1796.4" y2="991.5" stroke="#000" stroke-width="0.85"/>
<line x1="1800" y1="986.5" x2="1796.4" y2="986.5" stroke="#000" stroke-width="0.85"/>
<line x1="1800" y1="983.5" x2="1796.4" y2="983.5" stroke="#000" stroke-width="0.85"/>
<line x1="1800" y1="980.5" x2="1796.4" y2="980.5" stroke="#000" stroke-width="0.85"/>
<line x1="1800" y1="978.5" x2="1796.4" y2="978.5" stroke="#000" stroke-width="0.85"/>
<line x1="1800" y1="975.5" x2="1796.4" y2="975.5" stroke="#000" stroke-width="0.85"/>
<line x1="1800" y1="973.5" x2="1794.6" y2="973.5" stroke="#000" stroke-width="1.1"/>
<line x1="1800" y1="961.5" x2="1796.4" y2="961.5" stroke="#000" stroke-width="0.85"/>
<line x1="1800" y1="953.5" x2="1796.4" y2="953.5" stroke="#000" stroke-width="0.85"/>
<line x1="1800" y1="948.5" x2="1796.4" y2="948.5" stroke="#000" stroke-width="0.85"/>
<line x1="1800" y1="943.5" x2="1796.4" y2="943.5" stroke="#000" stroke-width="0.85"/>
<line x1="1800" y1="940.5" x2="1796.4" y2="940.5" stroke="#000" stroke-width="0.85"/>
<line x1="1800" y1="937.5" x2="1796.4" y2="937.5" stroke="#000" stroke-width="0.85"/>
<line x1="1800" y1="935.5" x2="1796.4" y2="935.5" stroke="#000" stroke-width="0.85"/>
<line x1="1800" y1="932.5" x2="1796.4" y2="932.5" stroke="#000" stroke-width="0.85"/>
<line x1="1800" y1="930.5" x2="1794.6" y2="930.5" stroke="#000" stroke-width="1.1"/>
<line x1="1800" y1="918.5" x2="1796.4" y2="918.5" stroke="#000" stroke-width="0.85"/>
<line x1="1800" y1="910.5" x2="1796.4" y2="910.5" stroke="#000" stroke-width="0.85"/>
<line x1="1800" y1="905.5" x2="1796.4" y2="905.5" stroke="#000" stroke-width="0.85"/>
<line x1="1800" y1="900.5" x2="1796.4" y2="900.5" stroke="#000" stroke-width="0.85"/>
<line x1="1800" y1="897.5" x2="1796.4" y2="897.5" stroke="#000" stroke-width="0.85"/>
<line x1="1800" y1="894.5" x2="1796.4" y2="894.5" stroke="#000" stroke-width="0.85"/>
<line x1="1800" y1="892.5" x2="1796.4" y2="892.5" stroke="#000" stroke-width="0.85"/>
<line x1="1800" y1="889.5" x2="1796.4" y2="889.5" stroke="#000" stroke-width="0.85"/>
<line x1="1800" y1="887.5" x2="1794.6" y2="887.5" stroke="#000" stroke-width="1.1"/>
<line x1="1800" y1="875.5" x2="1796.4" y2="875.5" stroke="#000" stroke-width="0.85"/>
<line x1="1800" y1="867.5" x2="1796.4" y2="867.5" stroke="#000" stroke-width="0.85"/>
<line x1="1800" y1="862.5" x2="1796.4" y2="862.5" stroke="#000" stroke-width="0.85"/>
<line x1="1800" y1="857.5" x2="1796.4" y2="857.5" stroke="#000" stroke-width="0.85"/>
<line x1="1800" y1="854.5" x2="1796.4" y2="854.5" stroke="#000" stroke-width="0.85"/>
<line x1="1800" y1="851.5" x2="1796.4" y2="851.5" stroke="#000" stroke-width="0.85"/>
<line x1="1800" y1="849.5" x2="1796.4" y2="849.5" stroke="#000" stroke-width="0.85"/>
<line x1="1800" y1="846.5" x2="1796.4" y2="846.5" stroke="#000" stroke-width="0.85"/>
<line x1="1800" y1="845" x2="1794.6" y2="845" stroke="#000" stroke-width="1.1"/>
<path d="M1800 845V1017" stroke="#000" stroke-width="2" fill="none" stroke-linecap="square"/>
<path d="M1205 845H1800M1205 1017H1800M1205 845V1017" stroke="#000" stroke-width="2" fill="none" stroke-linecap="square"/>
<text x="1106" y="932" font-size="24" text-anchor="middle" fill="#000" transform="rotate(-90 1106 932)">&gt;10 MeV Proton Flux</text>
<text x="1139" y="931" font-size="24" text-anchor="middle" fill="#000" transform="rotate(-90 1139 931)" xml:space="preserve">( cm<tspan dy="-9.8" font-size="16.8">2</tspan><tspan dy="9.8" font-size="24"> s</tspan><tspan dy="-9.8" font-size="16.8">−1</tspan><tspan dy="9.8" font-size="24"> sr</tspan><tspan dy="-9.8" font-size="16.8">−1</tspan><tspan dy="9.8" font-size="24"> )</tspan></text>
<text x="1502.5" y="1066" font-size="24" text-anchor="middle" fill="#000">January 2020 (UT)</text>
</svg>
</body></html>
